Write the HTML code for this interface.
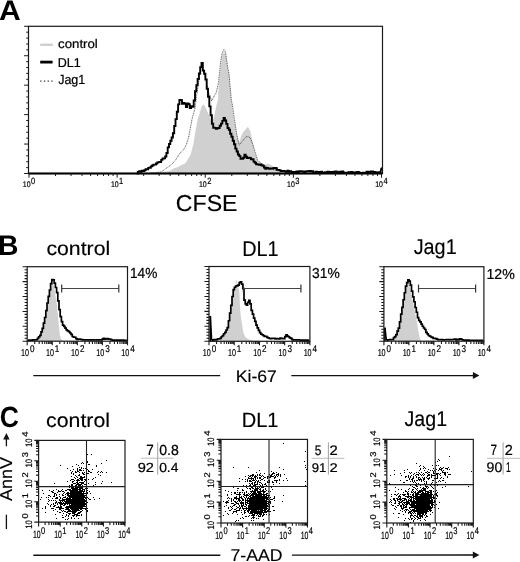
<!DOCTYPE html>
<html><head><meta charset="utf-8"><style>
html,body{margin:0;padding:0;background:#fff;width:520px;height:562px;overflow:hidden;}
svg{display:block;font-family:"Liberation Sans",sans-serif;will-change:transform;}
text{text-rendering:geometricPrecision;}
</style></head><body>
<svg width="520" height="562" viewBox="0 0 520 562">
<rect width="520" height="562" fill="#fff"/>
<text x="0" y="0" font-size="28.4" font-weight="bold" font-family="Liberation Sans" transform="translate(-0.9 19.6) scale(1.0617 1)" >A</text>
<polygon points="144,173.8 150,173.3 160,172.5 170,170.8 174.2,168.2 178,167 181.4,164.9 185,163.4 187.1,160.5 190.6,154.8 193.5,143.4 195.6,130.6 197.7,119.2 199.9,112.5 201.5,106.5 203.5,104.3 205.6,107.5 208,113 210.5,118.5 212.5,121 214.2,116.4 215.6,109.2 217,103 218,99.7 218.5,88 219.6,77.3 220.7,66.7 221.7,58 223,53.5 224.9,52.3 226,56 227.6,66.7 229.2,75.2 229.7,82.7 230.8,93.3 231.3,99.7 232,106 234.4,122 236,131 237.6,138 239.2,142.8 240.8,137.5 242.4,133.2 245.6,129.2 248,126.8 250.4,131.6 252.8,142.8 255.2,154 258.4,162 263.2,165.2 268,163.6 272.8,166 276,169.2 280.8,171.6 290,173 300,173.8" fill="#d0d0d0"/>
<polyline points="147.6,173.6 155.6,172.6 161.4,171.9 167.1,167.6 171.4,164.7 175.7,159.8 179.9,153.4 183.5,149.8 186.3,144.8 188.5,137.7 189.9,130.6 192,119.2 193.5,113.5 194.9,109.2 195.6,103.5 196.5,96 198,86 199.5,76 201,67 202,64 203.2,68 204.7,75 206.3,81 207.3,87 208.4,92 210,96 211.6,100.9 213.2,97.7 215.9,93.4 217.3,88 218.5,82.7 219.6,72 220.7,61.3 222,54 223.9,49.6 225.5,52 226,56 227.6,66.7 229.2,75.2 229.7,82.7 230.8,93.3 231.3,99.7 232.2,104 234.4,118.8 236.8,134.8 239.2,145.2 242.4,141.2 245.6,137.2 248,136.4 250.4,138 252.8,144.4 255.2,152.4 257.6,160.4 261.6,163.6 266.4,166.8 275,170 290,172.5 300,173.6" fill="none" stroke="#444" stroke-width="0.9" stroke-dasharray="1 0.8"/>
<path d="M136.5 173.6H137.8V171.84H139.1V171.31H140.4V171.81H141.7V170.59H143V171.03H144.3V170.31H145.6V169.17H146.9V169.24H148.2V167.83H149.5V167.73H150.8V166.38H152.1V165.47H153.4V164.59H154.7V164.59H156V163.55H157.3V162.41H158.6V162.17H159.9V161.98H161.2V159.9H162.5V158.43H163.8V158.33H165.1V156.53H166.4V153.05H167.7V147.42H169V144H170.3V140.71H171.6V137.49H172.9V133.23H174.2V126.03H175.5V119.16H176.8V111.82H178.1V104.34H179.4V100.05H180.7V100.08H182V103.86H183.3V102.94H184.6V103.81H185.9V107.04H187.2V103.49H188.5V104.22H189.8V107.97H191.1V106.26H192.4V106.74H193.7V100.44H195V91.18H196.3V85.24H197.6V79.06H198.9V73.51H200.2V67.08H201.5V62.97H202.8V70.63H204.1V73.79H205.4V79.47H206.7V88.76H208V96.72H209.3V106.36H210.6V115.31H211.9V123.79H213.2V127.71H214.5V127.83H215.8V128.75H217.1V128.29H218.4V128.03H219.7V125.7H221V123.65H222.3V120.88H223.6V118.07H224.9V120.43H226.2V123.84H227.5V127.98H228.8V129.78H230.1V133.81H231.4V136.77H232.7V140.79H234V144.32H235.3V148.66H236.6V151.52H237.9V154.57H239.2V156.14H240.5V158.86H241.8V158.82H243.1V157.7H244.4V154.58H245.7V156.68H247V158.06H248.3V157.81H249.6V158.04H250.9V159.24H252.2V159.26H253.5V161.59H254.8V162.78H256.1V164.18H257.4V164.42H258.7V164.82H260V164.37H261.3V165.24H262.6V165.81H263.9V167.63H265.2V168.72H266.5V168.03H267.8V168.39H269.1V168.73H270.4V168.38H271.7V168.43H273V168.25H274.3V167.88H275.6V168.32H276.9V169.84H278.2V169.92H279.5V170.37H280.8V171.13H282.1V170.88H283.4V170.9H284.7V171.36H286V171.76H287.3V170.7H288.6V171.73H289.9V171.3H291.2V171.88H292.5V172.19H293.8V171.98H295.1V172.17H296.4V171.53H297.7V172.22H299V171.14H300.3V171.18H301.6V171.51H302.9V171.54H304.2V171.93H305.5V171.35H306.8V171.11H308.1V171.19H309.4V170.97H310.7V171.6H312V171.26H313.3V172.83H314.6V172.57H315.9V171.78H317.2V171.89H318.5V171.99H319.8V172H321.1V171.65H322.4V172.85H323.7V173.12H325V172.32H326.3V172.38H327.6V171.78H328.9V171.85H330.2V172.22H331.5V172.06H332.8V172.92H334.1V171.82H335.4V171.56H336.7V173H338V172.29H339.3V171.64H340.6V172.32H341.9V171.55H343.2V172.4H344.5V173.17H345.8V173.04H347.1V172.82H348.4V172.18H349.7V172.38H351V172.02H352.3V172.95H353.6V172.52H354.9V172.88H356.2V172.12H357.5V171.91H358.8V172.81H360.1V173.07H361.4V172.84H362.7V172.76H364V172.76H365.3V172.62H366.6V171.79H367.9V172.24H369.2V171.97H370.5V171.48H371.8V171.51H373.1V171.94H374.4V171.94H375.7V172.67H377V173.12H378.3V172.24H379.6V172.92H380.5V172.98" fill="none" stroke="#000" stroke-width="1.9" stroke-linejoin="miter"/>
<polyline points="380.5,172.2 381.3,168.5 382.5,168.2" fill="none" stroke="#000" stroke-width="1.8"/>
<rect x="28.5" y="26.3" width="354" height="147.2" fill="none" stroke="#1a1a1a" stroke-width="1.2"/>
<line x1="28.5" y1="173.5" x2="382.5" y2="173.5" stroke="#000" stroke-width="1.8" />
<path d="M28.5 173.5h-4.4M28.5 167.61h-2.3M28.5 161.72h-2.3M28.5 155.84h-2.3M28.5 149.95h-2.3M28.5 144.06h-4.4M28.5 138.17h-2.3M28.5 132.28h-2.3M28.5 126.4h-2.3M28.5 120.51h-2.3M28.5 114.62h-4.4M28.5 108.73h-2.3M28.5 102.84h-2.3M28.5 96.96h-2.3M28.5 91.07h-2.3M28.5 85.18h-4.4M28.5 79.29h-2.3M28.5 73.4h-2.3M28.5 67.52h-2.3M28.5 61.63h-2.3M28.5 55.74h-4.4M28.5 49.85h-2.3M28.5 43.96h-2.3M28.5 38.08h-2.3M28.5 32.19h-2.3M28.5 26.3h-4.4" stroke="#1a1a1a" stroke-width="1" fill="none"/>
<path d="M29 173.5v4.2M55.53 173.5v2.5M71.05 173.5v2.5M82.06 173.5v2.5M90.6 173.5v2.5M97.57 173.5v2.5M103.47 173.5v2.5M108.58 173.5v2.5M113.09 173.5v2.5M117.12 173.5v4.2M143.65 173.5v2.5M159.17 173.5v2.5M170.18 173.5v2.5M178.72 173.5v2.5M185.7 173.5v2.5M191.6 173.5v2.5M196.71 173.5v2.5M201.22 173.5v2.5M205.25 173.5v4.2M231.78 173.5v2.5M247.3 173.5v2.5M258.31 173.5v2.5M266.85 173.5v2.5M273.82 173.5v2.5M279.72 173.5v2.5M284.83 173.5v2.5M289.34 173.5v2.5M293.38 173.5v4.2M319.9 173.5v2.5M335.42 173.5v2.5M346.43 173.5v2.5M354.97 173.5v2.5M361.95 173.5v2.5M367.85 173.5v2.5M372.96 173.5v2.5M377.47 173.5v2.5M381.5 173.5v4.2" stroke="#1a1a1a" stroke-width="1" fill="none"/>
<text x="0" y="0" font-size="8.14" font-weight="normal" font-family="Liberation Sans" transform="translate(22.84 186.6) scale(0.8559 1)" stroke="#000" stroke-width="0.2">10</text>
<text x="0" y="0" font-size="9.07" font-family="Liberation Sans" stroke="#000" stroke-width="0.2" transform="translate(31.1 183.6) scale(0.8268 1)">0</text>
<text x="0" y="0" font-size="8.14" font-weight="normal" font-family="Liberation Sans" transform="translate(110.92 186.6) scale(0.8559 1)" stroke="#000" stroke-width="0.2">10</text>
<text x="0" y="0" font-size="9.07" font-family="Liberation Sans" stroke="#000" stroke-width="0.2" transform="translate(119.06 183.6) scale(0.8268 1)">1</text>
<text x="0" y="0" font-size="8.14" font-weight="normal" font-family="Liberation Sans" transform="translate(198.99 186.6) scale(0.8559 1)" stroke="#000" stroke-width="0.2">10</text>
<text x="0" y="0" font-size="9.07" font-family="Liberation Sans" stroke="#000" stroke-width="0.2" transform="translate(207.25 183.6) scale(0.8268 1)">2</text>
<text x="0" y="0" font-size="8.14" font-weight="normal" font-family="Liberation Sans" transform="translate(287.07 186.6) scale(0.8559 1)" stroke="#000" stroke-width="0.2">10</text>
<text x="0" y="0" font-size="9.07" font-family="Liberation Sans" stroke="#000" stroke-width="0.2" transform="translate(295.36 183.6) scale(0.8268 1)">3</text>
<text x="0" y="0" font-size="8.14" font-weight="normal" font-family="Liberation Sans" transform="translate(375.14 186.6) scale(0.8559 1)" stroke="#000" stroke-width="0.2">10</text>
<text x="0" y="0" font-size="9.07" font-family="Liberation Sans" stroke="#000" stroke-width="0.2" transform="translate(383.44 183.6) scale(0.8268 1)">4</text>
<line x1="40.2" y1="44.8" x2="52.9" y2="44.8" stroke="#d0d0d0" stroke-width="2.4" />
<line x1="40.2" y1="62.1" x2="52.6" y2="62.1" stroke="#000" stroke-width="2.8" />
<line x1="40.2" y1="81.2" x2="52.6" y2="81.2" stroke="#333" stroke-width="1.2" stroke-dasharray="1.3 2.4"/>
<text x="0" y="0" font-size="12.44" font-weight="normal" font-family="Liberation Sans" transform="translate(58.08 48.19) scale(1.0640 1)" stroke="#000" stroke-width="0.22">control</text>
<text x="0" y="0" font-size="12.87" font-weight="normal" font-family="Liberation Sans" transform="translate(57.71 66.89) scale(0.9727 1)" stroke="#000" stroke-width="0.22">DL1</text>
<text x="0" y="0" font-size="13.16" font-weight="normal" font-family="Liberation Sans" transform="translate(58.16 83.99) scale(0.9510 1)" stroke="#000" stroke-width="0.22">Jag1</text>
<text x="0" y="0" font-size="23.07" font-weight="normal" font-family="Liberation Sans" transform="translate(175.82 211.23) scale(1.0026 1)" stroke="#000" stroke-width="0.15">CFSE</text>
<text x="0" y="0" font-size="28.41" font-weight="bold" font-family="Liberation Sans" transform="translate(-1.99 255.4) scale(0.9984 1)" >B</text>
<polygon points="37.5,341.2 40.5,337.5 43,330.5 45.5,318 48,303 50.5,289.5 52.3,282.5 53,281.5 54.5,290 56.7,303 58.5,321.8 59.8,334.3 61,339 64,341.2" fill="#d0d0d0"/>
<path d="M27.8 340.3H29V340.19H30.2V340.12H31.4V340.04H32.6V339.97H33.8V339.9H35V339.82H36.2V339.74H37.4V338.36H38.6V336.78H39.8V335.35H41V331.9H42.2V328.3H43.4V323.16H44.6V317.49H45.8V310.54H47V302.98H48.2V296.4H49.4V290.02H50.6V283.67H51.8V279.54H53V279.91H54.2V283.12H55.4V287.5H56.6V292.72H57.8V300.81H59V309.66H60.2V316.6H61.4V321.62H62.6V325.22H63.8V326.42H65V328.1H66.2V329.85H67.4V330.84H68.6V331.67H69.8V333.01H71V334.39H72.2V336.49H73.4V337.19H74.6V337.27H75.8V338.69H77V339.36H78.2V339.22H79.4V339.1H80.6V339.49H81.8V339.63H83V339.8H84.2V339.82H85.4V339.84H86.6V339.86H87.8V339.89H89V339.91H90.2V339.93H91.4V339.95H92.6V339.97H93.8V339.99H95V339.98H96.2V339.95H97.4V339.91H98.6V339.88H99.8V339.85H101V339.81H102.2V339.06H103.4V338.39H104.6V339.07H105.8V338.75H107V338.63H108.2V339.03H109.4V339.06H110.6V339.65H111.8V340.01H113V340.03H114.2V340.06H115.4V340.08H116.6V340.1H117.8V340.13H119V340.15H120.2V340.18H121.4V340.2H122.6V340.22H123.8V340.25H125V340.27H126.2V340.3H127V340.3" fill="none" stroke="#000" stroke-width="1.7" stroke-linejoin="miter"/>
<rect x="27.2" y="266.7" width="100.3" height="74.5" fill="none" stroke="#1a1a1a" stroke-width="1.2"/>
<path d="M27.2 341.2h-4.6M27.2 338.22h-2.6M27.2 335.24h-2.6M27.2 332.26h-2.6M27.2 329.28h-2.6M27.2 326.3h-4.6M27.2 323.32h-2.6M27.2 320.34h-2.6M27.2 317.36h-2.6M27.2 314.38h-2.6M27.2 311.4h-4.6M27.2 308.42h-2.6M27.2 305.44h-2.6M27.2 302.46h-2.6M27.2 299.48h-2.6M27.2 296.5h-4.6M27.2 293.52h-2.6M27.2 290.54h-2.6M27.2 287.56h-2.6M27.2 284.58h-2.6M27.2 281.6h-4.6M27.2 278.62h-2.6M27.2 275.64h-2.6M27.2 272.66h-2.6M27.2 269.68h-2.6M27.2 266.7h-4.6" stroke="#1a1a1a" stroke-width="1.05" fill="none"/>
<path d="M27.2 341.2v4M34.75 341.2v2.8M39.16 341.2v2.8M42.3 341.2v2.8M44.73 341.2v2.8M46.71 341.2v2.8M48.39 341.2v2.8M49.84 341.2v2.8M51.13 341.2v2.8M52.27 341.2v4M59.82 341.2v2.8M64.24 341.2v2.8M67.37 341.2v2.8M69.8 341.2v2.8M71.79 341.2v2.8M73.47 341.2v2.8M74.92 341.2v2.8M76.2 341.2v2.8M77.35 341.2v4M84.9 341.2v2.8M89.31 341.2v2.8M92.45 341.2v2.8M94.88 341.2v2.8M96.86 341.2v2.8M98.54 341.2v2.8M99.99 341.2v2.8M101.28 341.2v2.8M102.42 341.2v4M109.97 341.2v2.8M114.39 341.2v2.8M117.52 341.2v2.8M119.95 341.2v2.8M121.94 341.2v2.8M123.62 341.2v2.8M125.07 341.2v2.8M126.35 341.2v2.8M127.5 341.2v4" stroke="#1a1a1a" stroke-width="1.1" fill="none"/>
<text x="0" y="0" font-size="9.93" font-weight="normal" font-family="Liberation Sans" transform="translate(20.93 356.35) scale(0.7223 1)" stroke="#000" stroke-width="0.2">10</text>
<text x="0" y="0" font-size="9.86" font-family="Liberation Sans" stroke="#000" stroke-width="0.2" transform="translate(29.88 352.2) scale(0.8243 1)">0</text>
<text x="0" y="0" font-size="9.93" font-weight="normal" font-family="Liberation Sans" transform="translate(46 356.35) scale(0.7223 1)" stroke="#000" stroke-width="0.2">10</text>
<text x="0" y="0" font-size="9.86" font-family="Liberation Sans" stroke="#000" stroke-width="0.2" transform="translate(54.83 352.2) scale(0.8243 1)">1</text>
<text x="0" y="0" font-size="9.93" font-weight="normal" font-family="Liberation Sans" transform="translate(71.08 356.35) scale(0.7223 1)" stroke="#000" stroke-width="0.2">10</text>
<text x="0" y="0" font-size="9.86" font-family="Liberation Sans" stroke="#000" stroke-width="0.2" transform="translate(80.02 352.2) scale(0.8243 1)">2</text>
<text x="0" y="0" font-size="9.93" font-weight="normal" font-family="Liberation Sans" transform="translate(96.15 356.35) scale(0.7223 1)" stroke="#000" stroke-width="0.2">10</text>
<text x="0" y="0" font-size="9.86" font-family="Liberation Sans" stroke="#000" stroke-width="0.2" transform="translate(105.14 352.2) scale(0.8243 1)">3</text>
<text x="0" y="0" font-size="9.93" font-weight="normal" font-family="Liberation Sans" transform="translate(121.23 356.35) scale(0.7223 1)" stroke="#000" stroke-width="0.2">10</text>
<text x="0" y="0" font-size="9.86" font-family="Liberation Sans" stroke="#000" stroke-width="0.2" transform="translate(130.22 352.2) scale(0.8243 1)">4</text>
<path d="M61.7 288.5H118.8" stroke="#444" stroke-width="1" fill="none"/>
<path d="M61.7 284.5v8 M118.8 284.5v8" stroke="#333" stroke-width="1.2" fill="none"/>
<text x="0" y="0" font-size="19.52" font-weight="normal" font-family="Liberation Sans" transform="translate(46.42 254.83) scale(1.0890 1)" stroke="#000" stroke-width="0.15">control</text>
<text x="0" y="0" font-size="14.61" font-weight="normal" font-family="Liberation Sans" transform="translate(130.02 278.39) scale(0.9337 1)" stroke="#000" stroke-width="0.22">14%</text>
<polygon points="219,341.3 221.7,339.5 223,337 225.1,333.8 227.1,330.5 228.5,326 229.2,321 229.9,316.5 230.9,310.5 232.7,296.5 234.1,289.2 235.5,287 236.2,279.5 237.5,284 239.4,291.8 239.8,302.4 240.5,314 241.9,323.5 243.3,332.2 245.3,336.9 248,339 252,340.5 270,341.3" fill="#d0d0d0"/>
<path d="M211.6 340.2H212.8V339.88H214V339.67H215.2V339.87H216.4V339.67H217.6V338.9H218.8V338.78H220V338.42H221.2V336.75H222.4V335.55H223.6V333.76H224.8V332.31H226V329.98H227.2V327.56H228.4V320.74H229.6V313.2H230.8V305.44H232V296.48H233.2V289.64H234.4V287.27H235.6V286H236.8V285.86H238V285.17H239.2V282.56H240.4V281.87H241.6V284.22H242.8V288.68H244V300.11H245.2V303.82H246.4V305.11H247.6V302.36H248.8V300.46H250V303.85H251.2V310.31H252.4V314.09H253.6V318.17H254.8V321.41H256V325.19H257.2V327.78H258.4V330.28H259.6V332.6H260.8V334.06H262V334.73H263.2V335.54H264.4V336.31H265.6V336.47H266.8V337.3H268V337.85H269.2V338.51H270.4V338.68H271.6V338.42H272.8V338.48H274V338.41H275.2V338.86H276.4V338.6H277.6V338.76H278.8V338.81H280V338.11H281.2V338.4H282.4V338.76H283.6V338.65H284.8V336.72H286V334.87H287.2V336.14H288.4V336.89H289.6V337.79H290.8V338.35H292V339.67H293.2V339.82H294.4V339.86H295.6V339.89H296.8V339.93H298V339.97H299.2V340H300.4V340.04H301.6V340.08H302.8V340.11H304V340.15H305.2V340.19H306.4V340.22H307.6V340.26H308.8V340.3H309.5V340.3" fill="none" stroke="#000" stroke-width="1.7" stroke-linejoin="miter"/>
<path d="M210.3 341.3V316" stroke="#000" stroke-width="1.6" fill="none"/>
<path d="M210.3 316L211.6 340.2" stroke="#000" stroke-width="1.6" fill="none"/>
<rect x="209" y="266.5" width="100.9" height="74.8" fill="none" stroke="#1a1a1a" stroke-width="1.2"/>
<path d="M209 341.3h-4.6M209 338.31h-2.6M209 335.32h-2.6M209 332.32h-2.6M209 329.33h-2.6M209 326.34h-4.6M209 323.35h-2.6M209 320.36h-2.6M209 317.36h-2.6M209 314.37h-2.6M209 311.38h-4.6M209 308.39h-2.6M209 305.4h-2.6M209 302.4h-2.6M209 299.41h-2.6M209 296.42h-4.6M209 293.43h-2.6M209 290.44h-2.6M209 287.44h-2.6M209 284.45h-2.6M209 281.46h-4.6M209 278.47h-2.6M209 275.48h-2.6M209 272.48h-2.6M209 269.49h-2.6M209 266.5h-4.6" stroke="#1a1a1a" stroke-width="1.05" fill="none"/>
<path d="M209 341.3v4M216.59 341.3v2.8M221.04 341.3v2.8M224.19 341.3v2.8M226.63 341.3v2.8M228.63 341.3v2.8M230.32 341.3v2.8M231.78 341.3v2.8M233.07 341.3v2.8M234.22 341.3v4M241.82 341.3v2.8M246.26 341.3v2.8M249.41 341.3v2.8M251.86 341.3v2.8M253.85 341.3v2.8M255.54 341.3v2.8M257.01 341.3v2.8M258.3 341.3v2.8M259.45 341.3v4M267.04 341.3v2.8M271.49 341.3v2.8M274.64 341.3v2.8M277.08 341.3v2.8M279.08 341.3v2.8M280.77 341.3v2.8M282.23 341.3v2.8M283.52 341.3v2.8M284.67 341.3v4M292.27 341.3v2.8M296.71 341.3v2.8M299.86 341.3v2.8M302.31 341.3v2.8M304.3 341.3v2.8M305.99 341.3v2.8M307.46 341.3v2.8M308.75 341.3v2.8M309.9 341.3v4" stroke="#1a1a1a" stroke-width="1.1" fill="none"/>
<text x="0" y="0" font-size="9.93" font-weight="normal" font-family="Liberation Sans" transform="translate(202.73 356.45) scale(0.7223 1)" stroke="#000" stroke-width="0.2">10</text>
<text x="0" y="0" font-size="9.86" font-family="Liberation Sans" stroke="#000" stroke-width="0.2" transform="translate(211.68 352.3) scale(0.8243 1)">0</text>
<text x="0" y="0" font-size="9.93" font-weight="normal" font-family="Liberation Sans" transform="translate(227.95 356.45) scale(0.7223 1)" stroke="#000" stroke-width="0.2">10</text>
<text x="0" y="0" font-size="9.86" font-family="Liberation Sans" stroke="#000" stroke-width="0.2" transform="translate(236.78 352.3) scale(0.8243 1)">1</text>
<text x="0" y="0" font-size="9.93" font-weight="normal" font-family="Liberation Sans" transform="translate(253.18 356.45) scale(0.7223 1)" stroke="#000" stroke-width="0.2">10</text>
<text x="0" y="0" font-size="9.86" font-family="Liberation Sans" stroke="#000" stroke-width="0.2" transform="translate(262.12 352.3) scale(0.8243 1)">2</text>
<text x="0" y="0" font-size="9.93" font-weight="normal" font-family="Liberation Sans" transform="translate(278.4 356.45) scale(0.7223 1)" stroke="#000" stroke-width="0.2">10</text>
<text x="0" y="0" font-size="9.86" font-family="Liberation Sans" stroke="#000" stroke-width="0.2" transform="translate(287.39 352.3) scale(0.8243 1)">3</text>
<text x="0" y="0" font-size="9.93" font-weight="normal" font-family="Liberation Sans" transform="translate(303.63 356.45) scale(0.7223 1)" stroke="#000" stroke-width="0.2">10</text>
<text x="0" y="0" font-size="9.86" font-family="Liberation Sans" stroke="#000" stroke-width="0.2" transform="translate(312.62 352.3) scale(0.8243 1)">4</text>
<path d="M243.4 288.5H300.9" stroke="#444" stroke-width="1" fill="none"/>
<path d="M243.4 284.5v8 M300.9 284.5v8" stroke="#333" stroke-width="1.2" fill="none"/>
<text x="0" y="0" font-size="21.38" font-weight="normal" font-family="Liberation Sans" transform="translate(242.29 255.53) scale(0.9260 1)" stroke="#000" stroke-width="0.15">DL1</text>
<text x="0" y="0" font-size="14.4" font-weight="normal" font-family="Liberation Sans" transform="translate(312.06 278.39) scale(0.9600 1)" stroke="#000" stroke-width="0.22">31%</text>
<polygon points="393.5,341.2 396.6,336 399,330 400.9,320 402.7,309 404.6,298 406.4,287 408.2,282.2 409.2,281.2 409.8,287 411.7,296.9 413.5,304.4 415.4,314.3 417.3,324.3 418.5,331.8 419.8,338 421,341.2" fill="#d0d0d0"/>
<path d="M386.3 340.2H387.5V339.93H388.7V339.75H389.9V339.57H391.1V339.68H392.3V339.61H393.5V337.54H394.7V336.67H395.9V334.67H397.1V331.17H398.3V328.1H399.5V321.87H400.7V314.04H401.9V307.37H403.1V299.75H404.3V292.76H405.5V286.19H406.7V282.7H407.9V279.81H409.1V281.06H410.3V285.06H411.5V291.09H412.7V296.95H413.9V301.75H415.1V307.49H416.3V312.24H417.5V317.71H418.7V320.46H419.9V321.86H421.1V324.04H422.3V326.23H423.5V328.01H424.7V329.5H425.9V332.36H427.1V333.88H428.3V335.49H429.5V336.05H430.7V337H431.9V337.35H433.1V338.51H434.3V338.34H435.5V338.54H436.7V339.14H437.9V339.74H439.1V339.76H440.3V339.56H441.5V339.67H442.7V339.78H443.9V339.77H445.1V339.73H446.3V339.7H447.5V339.66H448.7V339.63H449.9V339.59H451.1V339.56H452.3V339.52H453.5V339.24H454.7V339.1H455.9V339.83H457.1V339.45H458.3V339.54H459.5V338.9H460.7V339.05H461.9V339.75H463.1V340.01H464.3V340.2H465.5V340.21H466.7V340.21H467.9V340.22H469.1V340.23H470.3V340.23H471.5V340.24H472.7V340.25H473.9V340.25H475.1V340.26H476.3V340.27H477.5V340.27H478.7V340.28H479.9V340.28H481.1V340.29H482.3V340.3H483.5V340.3H483.5V340.3" fill="none" stroke="#000" stroke-width="1.7" stroke-linejoin="miter"/>
<path d="M384.9 341.2V327.7" stroke="#000" stroke-width="1.6" fill="none"/>
<path d="M384.9 327.7L386.3 340.2" stroke="#000" stroke-width="1.6" fill="none"/>
<rect x="383.9" y="266.7" width="100" height="74.5" fill="none" stroke="#1a1a1a" stroke-width="1.2"/>
<path d="M383.9 341.2h-4.6M383.9 338.22h-2.6M383.9 335.24h-2.6M383.9 332.26h-2.6M383.9 329.28h-2.6M383.9 326.3h-4.6M383.9 323.32h-2.6M383.9 320.34h-2.6M383.9 317.36h-2.6M383.9 314.38h-2.6M383.9 311.4h-4.6M383.9 308.42h-2.6M383.9 305.44h-2.6M383.9 302.46h-2.6M383.9 299.48h-2.6M383.9 296.5h-4.6M383.9 293.52h-2.6M383.9 290.54h-2.6M383.9 287.56h-2.6M383.9 284.58h-2.6M383.9 281.6h-4.6M383.9 278.62h-2.6M383.9 275.64h-2.6M383.9 272.66h-2.6M383.9 269.68h-2.6M383.9 266.7h-4.6" stroke="#1a1a1a" stroke-width="1.05" fill="none"/>
<path d="M383.9 341.2v4M391.43 341.2v2.8M395.83 341.2v2.8M398.95 341.2v2.8M401.37 341.2v2.8M403.35 341.2v2.8M405.03 341.2v2.8M406.48 341.2v2.8M407.76 341.2v2.8M408.9 341.2v4M416.43 341.2v2.8M420.83 341.2v2.8M423.95 341.2v2.8M426.37 341.2v2.8M428.35 341.2v2.8M430.03 341.2v2.8M431.48 341.2v2.8M432.76 341.2v2.8M433.9 341.2v4M441.43 341.2v2.8M445.83 341.2v2.8M448.95 341.2v2.8M451.37 341.2v2.8M453.35 341.2v2.8M455.03 341.2v2.8M456.48 341.2v2.8M457.76 341.2v2.8M458.9 341.2v4M466.43 341.2v2.8M470.83 341.2v2.8M473.95 341.2v2.8M476.37 341.2v2.8M478.35 341.2v2.8M480.03 341.2v2.8M481.48 341.2v2.8M482.76 341.2v2.8M483.9 341.2v4" stroke="#1a1a1a" stroke-width="1.1" fill="none"/>
<text x="0" y="0" font-size="9.93" font-weight="normal" font-family="Liberation Sans" transform="translate(377.63 356.35) scale(0.7223 1)" stroke="#000" stroke-width="0.2">10</text>
<text x="0" y="0" font-size="9.86" font-family="Liberation Sans" stroke="#000" stroke-width="0.2" transform="translate(386.57 352.2) scale(0.8243 1)">0</text>
<text x="0" y="0" font-size="9.93" font-weight="normal" font-family="Liberation Sans" transform="translate(402.63 356.35) scale(0.7223 1)" stroke="#000" stroke-width="0.2">10</text>
<text x="0" y="0" font-size="9.86" font-family="Liberation Sans" stroke="#000" stroke-width="0.2" transform="translate(411.45 352.2) scale(0.8243 1)">1</text>
<text x="0" y="0" font-size="9.93" font-weight="normal" font-family="Liberation Sans" transform="translate(427.63 356.35) scale(0.7223 1)" stroke="#000" stroke-width="0.2">10</text>
<text x="0" y="0" font-size="9.86" font-family="Liberation Sans" stroke="#000" stroke-width="0.2" transform="translate(436.57 352.2) scale(0.8243 1)">2</text>
<text x="0" y="0" font-size="9.93" font-weight="normal" font-family="Liberation Sans" transform="translate(452.63 356.35) scale(0.7223 1)" stroke="#000" stroke-width="0.2">10</text>
<text x="0" y="0" font-size="9.86" font-family="Liberation Sans" stroke="#000" stroke-width="0.2" transform="translate(461.62 352.2) scale(0.8243 1)">3</text>
<text x="0" y="0" font-size="9.93" font-weight="normal" font-family="Liberation Sans" transform="translate(477.63 356.35) scale(0.7223 1)" stroke="#000" stroke-width="0.2">10</text>
<text x="0" y="0" font-size="9.86" font-family="Liberation Sans" stroke="#000" stroke-width="0.2" transform="translate(486.62 352.2) scale(0.8243 1)">4</text>
<path d="M418.5 288.5H475.6" stroke="#444" stroke-width="1" fill="none"/>
<path d="M418.5 284.5v8 M475.6 284.5v8" stroke="#333" stroke-width="1.2" fill="none"/>
<text x="0" y="0" font-size="21.52" font-weight="normal" font-family="Liberation Sans" transform="translate(413.68 253.83) scale(0.9215 1)" stroke="#000" stroke-width="0.15">Jag1</text>
<text x="0" y="0" font-size="14.4" font-weight="normal" font-family="Liberation Sans" transform="translate(486.38 278.59) scale(0.9840 1)" stroke="#000" stroke-width="0.22">12%</text>
<line x1="33.3" y1="375.6" x2="220.2" y2="375.6" stroke="#111" stroke-width="1.3" />
<line x1="291.3" y1="375.6" x2="474" y2="375.6" stroke="#111" stroke-width="1.3" />
<polygon points="472.9,372.1 479.4,375.6 472.9,379.1" fill="#111"/>
<text x="0" y="0" font-size="16.92" font-weight="normal" font-family="Liberation Sans" transform="translate(235.77 382.03) scale(1.0411 1)" stroke="#000" stroke-width="0.15">Ki-67</text>
<text x="0" y="0" font-size="29.29" font-weight="bold" font-family="Liberation Sans" transform="translate(-0.21 426.8) scale(0.9062 1)" >C</text>
<ellipse cx="77.5" cy="499.5" rx="5" ry="8.5" fill="#000" transform="rotate(8 77.5 499.5)"/>
<path d="M75 493h1v1h-1zM85 503h1v1h-1zM71 492h1v1h-1zM84 503h1v1h-1zM84 502h1v1h-1zM73 502h1v1h-1zM67 497h1v1h-1zM76 502h1v1h-1zM73 499h1v1h-1zM78 501h1v1h-1zM79 500h1v1h-1zM75 504h1v1h-1zM77 494h1v1h-1zM74 500h1v1h-1zM76 500h1v1h-1zM76 500h1v1h-1zM76 491h1v1h-1zM78 505h1v1h-1zM78 497h1v1h-1zM78 492h1v1h-1zM69 502h1v1h-1zM73 505h1v1h-1zM72 484h1v1h-1zM72 510h1v1h-1zM75 491h1v1h-1zM73 503h1v1h-1zM79 499h1v1h-1zM83 502h1v1h-1zM76 503h1v1h-1zM83 503h1v1h-1zM81 491h1v1h-1zM76 504h1v1h-1zM75 506h1v1h-1zM79 504h1v1h-1zM76 515h1v1h-1zM82 496h1v1h-1zM77 515h1v1h-1zM75 505h1v1h-1zM81 498h1v1h-1zM72 502h1v1h-1zM78 506h1v1h-1zM80 498h1v1h-1zM80 501h1v1h-1zM77 499h1v1h-1zM75 504h1v1h-1zM72 496h1v1h-1zM77 490h1v1h-1zM75 487h1v1h-1zM74 504h1v1h-1zM79 498h1v1h-1zM76 490h1v1h-1zM84 500h1v1h-1zM81 492h1v1h-1zM76 488h1v1h-1zM80 504h1v1h-1zM69 501h1v1h-1zM79 487h1v1h-1zM69 495h1v1h-1zM74 491h1v1h-1zM77 501h1v1h-1zM79 503h1v1h-1zM83 504h1v1h-1zM71 497h1v1h-1zM72 494h1v1h-1zM76 499h1v1h-1zM79 488h1v1h-1zM71 500h1v1h-1zM76 497h1v1h-1zM76 494h1v1h-1zM79 500h1v1h-1zM76 495h1v1h-1zM76 482h1v1h-1zM72 501h1v1h-1zM70 502h1v1h-1zM77 490h1v1h-1zM75 497h1v1h-1zM78 502h1v1h-1zM76 494h1v1h-1zM76 499h1v1h-1zM80 500h1v1h-1zM73 491h1v1h-1zM75 495h1v1h-1zM72 500h1v1h-1zM74 500h1v1h-1zM79 496h1v1h-1zM86 494h1v1h-1zM81 498h1v1h-1zM81 482h1v1h-1zM73 502h1v1h-1zM79 513h1v1h-1zM78 507h1v1h-1zM80 504h1v1h-1zM79 497h1v1h-1zM79 491h1v1h-1zM81 491h1v1h-1zM78 512h1v1h-1zM76 499h1v1h-1zM81 498h1v1h-1zM73 502h1v1h-1zM79 503h1v1h-1zM73 511h1v1h-1zM84 497h1v1h-1zM78 496h1v1h-1zM82 493h1v1h-1zM79 495h1v1h-1zM74 504h1v1h-1zM82 497h1v1h-1zM74 505h1v1h-1zM76 501h1v1h-1zM83 504h1v1h-1zM74 514h1v1h-1zM77 504h1v1h-1zM74 500h1v1h-1zM69 513h1v1h-1zM82 489h1v1h-1zM70 491h1v1h-1zM81 495h1v1h-1zM76 497h1v1h-1zM76 492h1v1h-1zM77 490h1v1h-1zM76 501h1v1h-1zM78 497h1v1h-1zM73 501h1v1h-1zM74 510h1v1h-1zM80 497h1v1h-1zM75 495h1v1h-1zM73 498h1v1h-1zM78 502h1v1h-1zM79 512h1v1h-1zM74 500h1v1h-1zM88 483h1v1h-1zM74 501h1v1h-1zM77 501h1v1h-1zM75 502h1v1h-1zM77 504h1v1h-1zM69 496h1v1h-1zM76 492h1v1h-1zM72 504h1v1h-1zM74 504h1v1h-1zM80 500h1v1h-1zM79 498h1v1h-1zM71 501h1v1h-1zM78 495h1v1h-1zM76 504h1v1h-1zM73 504h1v1h-1zM84 493h1v1h-1zM77 498h1v1h-1zM83 499h1v1h-1zM80 493h1v1h-1zM76 499h1v1h-1zM69 510h1v1h-1zM80 487h1v1h-1zM80 497h1v1h-1zM78 501h1v1h-1zM70 500h1v1h-1zM83 493h1v1h-1zM72 492h1v1h-1zM71 503h1v1h-1zM84 500h1v1h-1zM78 513h1v1h-1zM74 495h1v1h-1zM79 502h1v1h-1zM72 493h1v1h-1zM78 500h1v1h-1zM71 499h1v1h-1zM74 503h1v1h-1zM76 499h1v1h-1zM75 506h1v1h-1zM82 495h1v1h-1zM80 493h1v1h-1zM77 504h1v1h-1zM83 495h1v1h-1zM76 500h1v1h-1zM70 501h1v1h-1zM74 502h1v1h-1zM72 488h1v1h-1zM77 501h1v1h-1zM74 505h1v1h-1zM75 495h1v1h-1zM79 488h1v1h-1zM74 500h1v1h-1zM80 497h1v1h-1zM78 494h1v1h-1zM78 509h1v1h-1zM74 515h1v1h-1zM74 500h1v1h-1zM77 505h1v1h-1zM71 487h1v1h-1zM79 503h1v1h-1zM79 515h1v1h-1zM77 500h1v1h-1zM80 500h1v1h-1zM83 489h1v1h-1zM75 478h1v1h-1zM80 496h1v1h-1zM80 512h1v1h-1zM76 497h1v1h-1zM74 494h1v1h-1zM74 504h1v1h-1zM77 499h1v1h-1zM76 505h1v1h-1zM79 497h1v1h-1zM79 497h1v1h-1zM72 510h1v1h-1zM78 492h1v1h-1zM81 500h1v1h-1zM70 511h1v1h-1zM78 504h1v1h-1zM77 498h1v1h-1zM70 507h1v1h-1zM77 497h1v1h-1zM78 499h1v1h-1zM79 496h1v1h-1zM76 485h1v1h-1zM75 504h1v1h-1zM82 495h1v1h-1zM76 509h1v1h-1zM75 504h1v1h-1zM84 497h1v1h-1zM82 493h1v1h-1zM77 498h1v1h-1zM77 506h1v1h-1zM87 492h1v1h-1zM74 503h1v1h-1zM72 504h1v1h-1zM79 496h1v1h-1zM79 488h1v1h-1zM80 488h1v1h-1zM74 496h1v1h-1zM75 505h1v1h-1zM77 496h1v1h-1zM79 508h1v1h-1zM77 501h1v1h-1zM82 499h1v1h-1zM71 517h1v1h-1zM86 483h1v1h-1zM76 502h1v1h-1zM81 502h1v1h-1zM75 493h1v1h-1zM77 505h1v1h-1zM72 494h1v1h-1zM76 487h1v1h-1zM75 497h1v1h-1zM78 494h1v1h-1zM73 498h1v1h-1zM76 495h1v1h-1zM77 504h1v1h-1zM81 508h1v1h-1zM73 497h1v1h-1zM66 514h1v1h-1zM73 500h1v1h-1zM79 490h1v1h-1zM78 498h1v1h-1zM69 503h1v1h-1zM82 486h1v1h-1zM80 499h1v1h-1zM78 501h1v1h-1zM82 496h1v1h-1zM80 495h1v1h-1zM80 493h1v1h-1zM76 510h1v1h-1zM78 497h1v1h-1zM72 495h1v1h-1zM77 505h1v1h-1zM78 502h1v1h-1zM76 508h1v1h-1zM75 496h1v1h-1zM80 498h1v1h-1zM75 496h1v1h-1zM75 503h1v1h-1zM78 491h1v1h-1zM78 500h1v1h-1zM72 505h1v1h-1zM75 497h1v1h-1zM80 506h1v1h-1zM74 503h1v1h-1zM73 515h1v1h-1zM74 507h1v1h-1zM74 505h1v1h-1zM86 480h1v1h-1zM75 503h1v1h-1zM76 495h1v1h-1zM86 497h1v1h-1zM70 507h1v1h-1zM69 509h1v1h-1zM74 501h1v1h-1zM82 498h1v1h-1zM71 490h1v1h-1zM81 502h1v1h-1zM73 506h1v1h-1zM79 502h1v1h-1zM67 500h1v1h-1zM80 503h1v1h-1zM80 482h1v1h-1zM77 502h1v1h-1zM87 490h1v1h-1zM75 500h1v1h-1zM80 495h1v1h-1zM81 492h1v1h-1zM78 495h1v1h-1zM77 494h1v1h-1zM70 508h1v1h-1zM78 495h1v1h-1zM77 505h1v1h-1zM72 500h1v1h-1zM79 502h1v1h-1zM75 486h1v1h-1zM82 499h1v1h-1zM77 497h1v1h-1zM78 496h1v1h-1zM72 496h1v1h-1zM74 496h1v1h-1zM72 505h1v1h-1zM71 505h1v1h-1zM72 503h1v1h-1zM82 499h1v1h-1zM73 500h1v1h-1zM77 488h1v1h-1zM74 501h1v1h-1zM75 500h1v1h-1zM80 503h1v1h-1zM80 502h1v1h-1zM75 499h1v1h-1zM75 497h1v1h-1zM76 488h1v1h-1zM75 499h1v1h-1zM72 500h1v1h-1zM79 497h1v1h-1zM85 480h1v1h-1zM76 488h1v1h-1zM81 515h1v1h-1zM66 503h1v1h-1zM79 496h1v1h-1zM79 484h1v1h-1zM80 500h1v1h-1zM77 495h1v1h-1zM79 495h1v1h-1zM77 495h1v1h-1zM67 502h1v1h-1zM77 504h1v1h-1zM73 500h1v1h-1zM79 499h1v1h-1zM82 510h1v1h-1zM73 488h1v1h-1zM80 508h1v1h-1zM80 503h1v1h-1zM74 495h1v1h-1zM80 492h1v1h-1zM69 495h1v1h-1zM87 508h1v1h-1zM74 495h1v1h-1zM77 494h1v1h-1zM82 497h1v1h-1zM72 509h1v1h-1zM74 501h1v1h-1zM76 497h1v1h-1zM78 494h1v1h-1zM69 487h1v1h-1zM71 496h1v1h-1zM76 499h1v1h-1zM79 499h1v1h-1zM73 496h1v1h-1zM68 501h1v1h-1zM79 502h1v1h-1zM76 498h1v1h-1zM80 498h1v1h-1zM80 502h1v1h-1zM77 507h1v1h-1zM74 497h1v1h-1zM73 495h1v1h-1zM83 508h1v1h-1zM77 503h1v1h-1zM81 503h1v1h-1zM82 489h1v1h-1zM74 503h1v1h-1zM83 498h1v1h-1zM73 498h1v1h-1zM74 494h1v1h-1zM83 493h1v1h-1zM77 513h1v1h-1zM81 500h1v1h-1zM74 502h1v1h-1zM83 501h1v1h-1zM82 498h1v1h-1zM79 497h1v1h-1zM78 507h1v1h-1zM70 500h1v1h-1zM78 495h1v1h-1zM75 504h1v1h-1zM85 500h1v1h-1zM78 489h1v1h-1zM85 497h1v1h-1zM76 492h1v1h-1zM76 492h1v1h-1zM77 502h1v1h-1zM77 501h1v1h-1zM73 509h1v1h-1zM74 488h1v1h-1zM76 494h1v1h-1zM72 498h1v1h-1zM78 491h1v1h-1zM76 508h1v1h-1zM79 497h1v1h-1zM77 498h1v1h-1zM76 504h1v1h-1zM76 484h1v1h-1zM76 493h1v1h-1zM79 494h1v1h-1zM77 513h1v1h-1zM72 493h1v1h-1zM71 486h1v1h-1zM69 504h1v1h-1zM74 488h1v1h-1zM70 505h1v1h-1zM73 498h1v1h-1zM78 507h1v1h-1zM85 503h1v1h-1zM77 500h1v1h-1zM84 506h1v1h-1zM75 502h1v1h-1zM78 499h1v1h-1zM74 491h1v1h-1zM74 490h1v1h-1zM82 501h1v1h-1zM71 509h1v1h-1zM80 486h1v1h-1zM84 502h1v1h-1zM85 488h1v1h-1zM79 501h1v1h-1zM77 500h1v1h-1zM81 488h1v1h-1zM71 492h1v1h-1zM74 496h1v1h-1zM78 500h1v1h-1zM77 495h1v1h-1zM75 506h1v1h-1zM80 499h1v1h-1zM75 509h1v1h-1zM74 504h1v1h-1zM81 496h1v1h-1zM80 491h1v1h-1zM81 499h1v1h-1zM70 505h1v1h-1zM73 508h1v1h-1zM74 499h1v1h-1zM78 497h1v1h-1zM78 495h1v1h-1zM79 498h1v1h-1zM77 481h1v1h-1zM81 498h1v1h-1zM69 502h1v1h-1zM78 505h1v1h-1zM72 510h1v1h-1zM76 514h1v1h-1zM76 504h1v1h-1zM75 492h1v1h-1zM81 503h1v1h-1zM83 502h1v1h-1zM74 489h1v1h-1zM74 496h1v1h-1zM73 504h1v1h-1zM78 497h1v1h-1zM77 498h1v1h-1zM77 504h1v1h-1zM81 493h1v1h-1zM70 510h1v1h-1zM77 506h1v1h-1zM70 499h1v1h-1zM77 490h1v1h-1zM74 504h1v1h-1zM81 508h1v1h-1zM73 491h1v1h-1zM79 504h1v1h-1zM77 490h1v1h-1zM80 503h1v1h-1zM79 495h1v1h-1zM78 504h1v1h-1zM74 488h1v1h-1zM78 502h1v1h-1zM77 505h1v1h-1zM74 499h1v1h-1zM75 503h1v1h-1zM83 495h1v1h-1zM85 506h1v1h-1zM80 502h1v1h-1zM84 496h1v1h-1zM76 492h1v1h-1zM78 507h1v1h-1zM79 501h1v1h-1zM76 500h1v1h-1zM71 508h1v1h-1zM75 492h1v1h-1zM73 495h1v1h-1zM80 505h1v1h-1zM71 507h1v1h-1zM80 494h1v1h-1zM70 496h1v1h-1zM74 502h1v1h-1zM75 487h1v1h-1zM77 489h1v1h-1zM80 490h1v1h-1zM74 494h1v1h-1zM74 508h1v1h-1zM80 502h1v1h-1zM78 489h1v1h-1zM74 496h1v1h-1zM72 504h1v1h-1zM73 495h1v1h-1zM72 487h1v1h-1zM79 507h1v1h-1zM77 493h1v1h-1zM65 504h1v1h-1zM82 499h1v1h-1zM80 507h1v1h-1zM81 495h1v1h-1zM81 503h1v1h-1zM70 498h1v1h-1zM71 500h1v1h-1zM79 491h1v1h-1zM68 510h1v1h-1zM78 508h1v1h-1zM71 507h1v1h-1zM85 509h1v1h-1zM76 501h1v1h-1zM76 506h1v1h-1zM81 498h1v1h-1zM71 505h1v1h-1zM75 504h1v1h-1zM78 509h1v1h-1zM81 495h1v1h-1zM78 510h1v1h-1zM74 502h1v1h-1zM82 505h1v1h-1zM79 490h1v1h-1zM71 502h1v1h-1zM78 515h1v1h-1zM73 507h1v1h-1zM80 487h1v1h-1zM73 501h1v1h-1zM74 499h1v1h-1zM78 493h1v1h-1zM78 494h1v1h-1zM74 503h1v1h-1zM74 502h1v1h-1zM83 497h1v1h-1zM76 504h1v1h-1zM75 506h1v1h-1zM71 505h1v1h-1zM74 495h1v1h-1zM84 491h1v1h-1zM84 501h1v1h-1zM83 491h1v1h-1zM82 507h1v1h-1zM76 498h1v1h-1zM87 497h1v1h-1zM75 496h1v1h-1zM78 501h1v1h-1zM77 510h1v1h-1zM75 502h1v1h-1zM83 491h1v1h-1zM81 509h1v1h-1zM71 494h1v1h-1zM72 489h1v1h-1zM78 487h1v1h-1zM79 508h1v1h-1zM70 499h1v1h-1zM68 506h1v1h-1zM73 498h1v1h-1zM77 502h1v1h-1zM75 500h1v1h-1zM74 500h1v1h-1zM72 501h1v1h-1zM68 498h1v1h-1zM85 497h1v1h-1zM71 502h1v1h-1zM72 490h1v1h-1zM73 505h1v1h-1zM78 498h1v1h-1zM73 493h1v1h-1zM82 499h1v1h-1zM73 487h1v1h-1zM71 517h1v1h-1zM72 500h1v1h-1zM77 498h1v1h-1zM75 491h1v1h-1zM72 511h1v1h-1zM73 505h1v1h-1zM69 499h1v1h-1zM78 505h1v1h-1zM72 504h1v1h-1zM78 494h1v1h-1zM79 493h1v1h-1zM73 500h1v1h-1zM65 502h1v1h-1zM72 491h1v1h-1zM75 504h1v1h-1zM75 508h1v1h-1zM72 492h1v1h-1zM83 500h1v1h-1zM80 493h1v1h-1zM80 500h1v1h-1zM79 498h1v1h-1zM82 493h1v1h-1zM72 491h1v1h-1zM81 493h1v1h-1zM72 494h1v1h-1zM75 491h1v1h-1zM75 495h1v1h-1zM74 494h1v1h-1zM77 496h1v1h-1zM77 500h1v1h-1zM78 485h1v1h-1zM74 495h1v1h-1zM80 488h1v1h-1zM73 498h1v1h-1zM75 506h1v1h-1zM75 506h1v1h-1zM70 489h1v1h-1zM82 500h1v1h-1zM79 499h1v1h-1zM79 491h1v1h-1zM80 494h1v1h-1zM81 498h1v1h-1zM68 493h1v1h-1zM81 497h1v1h-1zM75 501h1v1h-1zM75 496h1v1h-1zM77 500h1v1h-1zM83 497h1v1h-1zM84 508h1v1h-1zM84 504h1v1h-1zM77 500h1v1h-1zM76 495h1v1h-1zM76 495h1v1h-1zM83 500h1v1h-1zM75 487h1v1h-1zM76 496h1v1h-1zM72 493h1v1h-1zM67 506h1v1h-1zM76 516h1v1h-1zM76 498h1v1h-1zM83 498h1v1h-1zM77 496h1v1h-1zM74 509h1v1h-1zM81 509h1v1h-1zM75 500h1v1h-1zM73 506h1v1h-1zM71 504h1v1h-1zM81 507h1v1h-1zM73 507h1v1h-1zM74 495h1v1h-1zM71 508h1v1h-1zM83 493h1v1h-1zM73 498h1v1h-1zM87 502h1v1h-1zM74 488h1v1h-1zM74 507h1v1h-1zM84 495h1v1h-1zM74 497h1v1h-1zM69 507h1v1h-1zM72 507h1v1h-1zM69 493h1v1h-1zM78 494h1v1h-1zM80 498h1v1h-1zM72 504h1v1h-1zM80 486h1v1h-1zM84 500h1v1h-1zM80 486h1v1h-1zM73 498h1v1h-1zM81 488h1v1h-1zM73 487h1v1h-1zM75 502h1v1h-1zM69 497h1v1h-1zM79 508h1v1h-1zM79 496h1v1h-1zM72 495h1v1h-1zM74 501h1v1h-1zM76 510h1v1h-1zM78 492h1v1h-1zM83 503h1v1h-1zM77 494h1v1h-1zM69 495h1v1h-1zM80 493h1v1h-1zM71 502h1v1h-1zM78 503h1v1h-1zM79 507h1v1h-1zM73 506h1v1h-1zM72 505h1v1h-1zM77 500h1v1h-1zM81 498h1v1h-1zM81 503h1v1h-1zM77 495h1v1h-1zM73 497h1v1h-1zM76 499h1v1h-1zM89 499h1v1h-1zM80 493h1v1h-1zM74 498h1v1h-1zM77 492h1v1h-1zM83 493h1v1h-1zM81 483h1v1h-1zM76 501h1v1h-1zM77 503h1v1h-1zM78 500h1v1h-1zM69 497h1v1h-1zM67 506h1v1h-1zM78 497h1v1h-1zM73 496h1v1h-1zM84 508h1v1h-1zM76 507h1v1h-1zM70 489h1v1h-1zM74 494h1v1h-1zM74 501h1v1h-1zM89 491h1v1h-1zM77 501h1v1h-1zM76 505h1v1h-1zM84 489h1v1h-1zM77 497h1v1h-1zM78 489h1v1h-1zM69 487h1v1h-1zM79 500h1v1h-1zM77 484h1v1h-1zM75 495h1v1h-1zM71 495h1v1h-1zM79 502h1v1h-1zM76 502h1v1h-1zM74 500h1v1h-1zM77 502h1v1h-1zM76 498h1v1h-1zM76 495h1v1h-1zM86 499h1v1h-1zM78 513h1v1h-1zM82 487h1v1h-1zM79 503h1v1h-1zM84 505h1v1h-1zM80 491h1v1h-1zM73 502h1v1h-1zM79 492h1v1h-1zM75 497h1v1h-1zM77 501h1v1h-1zM75 491h1v1h-1zM82 508h1v1h-1zM76 506h1v1h-1zM78 503h1v1h-1zM79 494h1v1h-1zM79 505h1v1h-1zM73 513h1v1h-1zM85 508h1v1h-1zM85 501h1v1h-1zM75 496h1v1h-1zM73 501h1v1h-1zM76 503h1v1h-1zM68 516h1v1h-1zM86 496h1v1h-1zM79 501h1v1h-1zM78 497h1v1h-1zM76 494h1v1h-1zM77 499h1v1h-1zM78 493h1v1h-1zM77 499h1v1h-1zM79 491h1v1h-1zM78 505h1v1h-1zM79 496h1v1h-1zM74 498h1v1h-1zM80 508h1v1h-1zM76 495h1v1h-1zM78 500h1v1h-1zM73 495h1v1h-1zM76 503h1v1h-1zM71 494h1v1h-1zM79 491h1v1h-1zM77 501h1v1h-1zM76 493h1v1h-1zM76 497h1v1h-1zM78 493h1v1h-1zM81 487h1v1h-1zM76 499h1v1h-1zM81 494h1v1h-1zM79 495h1v1h-1zM80 509h1v1h-1zM75 502h1v1h-1zM73 506h1v1h-1zM82 498h1v1h-1zM72 503h1v1h-1zM81 504h1v1h-1zM80 486h1v1h-1zM74 509h1v1h-1zM71 508h1v1h-1zM84 501h1v1h-1zM81 495h1v1h-1zM71 500h1v1h-1zM76 499h1v1h-1zM79 497h1v1h-1zM77 501h1v1h-1zM76 511h1v1h-1zM78 499h1v1h-1zM76 495h1v1h-1zM82 498h1v1h-1zM72 497h1v1h-1zM76 496h1v1h-1zM81 490h1v1h-1zM79 499h1v1h-1zM72 501h1v1h-1zM76 502h1v1h-1zM75 502h1v1h-1zM70 494h1v1h-1zM80 505h1v1h-1zM76 495h1v1h-1zM81 484h1v1h-1zM73 504h1v1h-1zM79 492h1v1h-1zM69 511h1v1h-1zM77 493h1v1h-1zM77 505h1v1h-1zM66 509h1v1h-1zM80 485h1v1h-1zM80 487h1v1h-1zM81 500h1v1h-1zM86 492h1v1h-1zM77 506h1v1h-1zM74 495h1v1h-1zM75 499h1v1h-1zM72 503h1v1h-1zM79 499h1v1h-1zM84 495h1v1h-1zM82 494h1v1h-1zM80 486h1v1h-1zM77 498h1v1h-1zM74 496h1v1h-1zM75 495h1v1h-1zM67 498h1v1h-1zM74 496h1v1h-1zM72 500h1v1h-1zM80 496h1v1h-1zM74 508h1v1h-1zM81 504h1v1h-1zM81 495h1v1h-1zM76 506h1v1h-1zM74 499h1v1h-1zM78 501h1v1h-1zM75 506h1v1h-1zM76 504h1v1h-1zM81 502h1v1h-1zM80 491h1v1h-1zM71 497h1v1h-1zM78 508h1v1h-1zM71 503h1v1h-1zM73 495h1v1h-1zM75 504h1v1h-1zM77 506h1v1h-1zM72 506h1v1h-1zM80 498h1v1h-1zM79 495h1v1h-1zM72 498h1v1h-1zM74 518h1v1h-1zM74 510h1v1h-1zM77 501h1v1h-1zM80 493h1v1h-1zM80 500h1v1h-1zM70 505h1v1h-1zM79 501h1v1h-1zM83 494h1v1h-1zM79 503h1v1h-1zM73 508h1v1h-1zM70 493h1v1h-1zM79 491h1v1h-1zM76 489h1v1h-1zM77 492h1v1h-1zM78 489h1v1h-1zM78 497h1v1h-1zM77 498h1v1h-1zM77 490h1v1h-1zM66 503h1v1h-1zM73 497h1v1h-1zM78 486h1v1h-1zM73 496h1v1h-1zM72 502h1v1h-1zM76 494h1v1h-1zM72 505h1v1h-1zM74 504h1v1h-1zM78 486h1v1h-1zM72 500h1v1h-1zM78 504h1v1h-1zM80 505h1v1h-1zM75 498h1v1h-1zM80 495h1v1h-1zM81 488h1v1h-1zM79 497h1v1h-1zM68 508h1v1h-1zM78 499h1v1h-1zM72 497h1v1h-1zM83 492h1v1h-1zM62 498h1v1h-1zM71 500h1v1h-1zM75 494h1v1h-1zM73 507h1v1h-1zM70 513h1v1h-1zM74 493h1v1h-1zM80 502h1v1h-1zM72 505h1v1h-1zM69 496h1v1h-1zM81 496h1v1h-1zM71 504h1v1h-1zM80 498h1v1h-1zM69 499h1v1h-1zM78 503h1v1h-1zM84 495h1v1h-1zM74 499h1v1h-1zM82 491h1v1h-1zM82 480h1v1h-1zM80 494h1v1h-1zM78 503h1v1h-1zM72 500h1v1h-1zM78 502h1v1h-1zM73 494h1v1h-1zM68 518h1v1h-1zM76 498h1v1h-1zM70 507h1v1h-1zM74 509h1v1h-1zM80 498h1v1h-1zM80 491h1v1h-1zM75 496h1v1h-1zM71 501h1v1h-1zM76 508h1v1h-1zM62 499h1v1h-1zM73 497h1v1h-1zM78 501h1v1h-1zM77 496h1v1h-1zM79 501h1v1h-1zM69 500h1v1h-1zM71 493h1v1h-1zM77 499h1v1h-1zM77 493h1v1h-1zM76 493h1v1h-1zM78 503h1v1h-1zM84 505h1v1h-1zM73 497h1v1h-1zM73 502h1v1h-1zM85 501h1v1h-1zM67 494h1v1h-1zM71 504h1v1h-1zM77 501h1v1h-1zM84 491h1v1h-1zM73 513h1v1h-1zM78 494h1v1h-1zM68 492h1v1h-1zM66 503h1v1h-1zM77 505h1v1h-1zM76 495h1v1h-1zM73 512h1v1h-1zM69 502h1v1h-1zM77 503h1v1h-1zM75 503h1v1h-1zM80 497h1v1h-1zM75 498h1v1h-1zM72 499h1v1h-1zM75 501h1v1h-1zM82 506h1v1h-1zM75 503h1v1h-1zM78 503h1v1h-1zM77 501h1v1h-1zM75 495h1v1h-1zM80 506h1v1h-1zM79 501h1v1h-1zM78 496h1v1h-1zM69 506h1v1h-1zM77 495h1v1h-1zM72 508h1v1h-1zM69 513h1v1h-1zM79 513h1v1h-1zM73 500h1v1h-1zM74 501h1v1h-1zM76 495h1v1h-1zM81 493h1v1h-1zM74 503h1v1h-1zM74 497h1v1h-1zM78 496h1v1h-1zM71 500h1v1h-1zM76 510h1v1h-1zM72 507h1v1h-1zM73 498h1v1h-1zM75 501h1v1h-1zM80 509h1v1h-1zM74 508h1v1h-1zM81 503h1v1h-1zM73 506h1v1h-1zM76 501h1v1h-1zM75 504h1v1h-1zM81 505h1v1h-1zM76 506h1v1h-1zM83 491h1v1h-1zM83 489h1v1h-1zM79 502h1v1h-1zM83 499h1v1h-1zM74 495h1v1h-1zM71 506h1v1h-1zM76 495h1v1h-1zM79 493h1v1h-1zM75 497h1v1h-1zM83 506h1v1h-1zM76 489h1v1h-1zM78 499h1v1h-1zM78 502h1v1h-1zM75 505h1v1h-1zM80 499h1v1h-1zM75 496h1v1h-1zM79 491h1v1h-1zM76 494h1v1h-1zM71 505h1v1h-1zM76 499h1v1h-1zM80 488h1v1h-1zM76 501h1v1h-1zM80 491h1v1h-1zM80 499h1v1h-1zM82 504h1v1h-1zM79 512h1v1h-1zM76 496h1v1h-1zM75 493h1v1h-1zM76 487h1v1h-1zM76 502h1v1h-1zM81 495h1v1h-1zM82 493h1v1h-1zM76 487h1v1h-1zM73 495h1v1h-1zM83 500h1v1h-1zM72 504h1v1h-1zM78 497h1v1h-1zM77 497h1v1h-1zM74 489h1v1h-1zM76 507h1v1h-1zM82 495h1v1h-1zM73 499h1v1h-1zM80 500h1v1h-1zM74 502h1v1h-1zM76 502h1v1h-1zM75 490h1v1h-1zM77 504h1v1h-1zM72 500h1v1h-1zM80 496h1v1h-1zM74 512h1v1h-1zM80 504h1v1h-1zM73 510h1v1h-1zM70 498h1v1h-1zM80 506h1v1h-1zM73 496h1v1h-1zM77 487h1v1h-1zM79 502h1v1h-1zM75 503h1v1h-1zM80 500h1v1h-1zM79 508h1v1h-1zM75 501h1v1h-1zM74 506h1v1h-1zM75 502h1v1h-1zM77 499h1v1h-1zM83 496h1v1h-1zM82 502h1v1h-1zM82 496h1v1h-1zM80 502h1v1h-1zM74 501h1v1h-1zM76 499h1v1h-1zM82 493h1v1h-1zM70 490h1v1h-1zM75 496h1v1h-1zM77 502h1v1h-1zM84 499h1v1h-1zM78 494h1v1h-1zM79 507h1v1h-1zM82 485h1v1h-1zM80 508h1v1h-1zM80 489h1v1h-1zM75 503h1v1h-1zM78 493h1v1h-1zM73 506h1v1h-1zM71 509h1v1h-1zM77 501h1v1h-1zM71 497h1v1h-1zM79 489h1v1h-1zM85 488h1v1h-1zM72 501h1v1h-1zM78 503h1v1h-1zM75 498h1v1h-1zM76 496h1v1h-1zM66 508h1v1h-1zM78 500h1v1h-1zM74 501h1v1h-1zM76 499h1v1h-1zM81 487h1v1h-1zM78 492h1v1h-1zM75 509h1v1h-1zM72 500h1v1h-1zM74 506h1v1h-1zM73 490h1v1h-1zM79 496h1v1h-1zM75 506h1v1h-1zM73 498h1v1h-1zM77 501h1v1h-1zM74 506h1v1h-1zM86 494h1v1h-1zM84 484h1v1h-1zM82 495h1v1h-1zM77 497h1v1h-1zM74 492h1v1h-1zM75 507h1v1h-1zM81 495h1v1h-1zM74 495h1v1h-1zM72 512h1v1h-1zM79 499h1v1h-1zM75 493h1v1h-1zM82 502h1v1h-1zM73 506h1v1h-1zM72 504h1v1h-1zM73 498h1v1h-1zM78 501h1v1h-1zM81 493h1v1h-1zM83 505h1v1h-1zM76 502h1v1h-1zM73 499h1v1h-1zM71 501h1v1h-1zM77 507h1v1h-1zM80 503h1v1h-1zM75 498h1v1h-1zM75 501h1v1h-1zM69 506h1v1h-1zM70 498h1v1h-1zM77 496h1v1h-1zM83 496h1v1h-1zM83 504h1v1h-1zM74 502h1v1h-1zM82 495h1v1h-1zM77 495h1v1h-1zM77 497h1v1h-1zM77 505h1v1h-1zM82 498h1v1h-1zM77 504h1v1h-1zM75 493h1v1h-1zM81 492h1v1h-1zM80 492h1v1h-1zM84 490h1v1h-1zM80 507h1v1h-1zM73 509h1v1h-1zM73 489h1v1h-1zM79 502h1v1h-1zM76 484h1v1h-1zM76 497h1v1h-1zM75 498h1v1h-1zM69 498h1v1h-1zM84 506h1v1h-1zM75 495h1v1h-1zM78 505h1v1h-1zM79 491h1v1h-1zM77 500h1v1h-1zM82 505h1v1h-1zM79 506h1v1h-1zM75 509h1v1h-1zM75 502h1v1h-1zM80 492h1v1h-1zM74 489h1v1h-1zM77 498h1v1h-1zM75 502h1v1h-1zM68 501h1v1h-1zM77 497h1v1h-1zM80 509h1v1h-1zM75 494h1v1h-1zM74 500h1v1h-1zM79 493h1v1h-1zM81 491h1v1h-1zM80 501h1v1h-1zM78 512h1v1h-1zM75 498h1v1h-1zM78 504h1v1h-1zM71 502h1v1h-1zM74 504h1v1h-1zM82 498h1v1h-1zM76 500h1v1h-1zM65 507h1v1h-1zM79 499h1v1h-1zM75 495h1v1h-1zM76 507h1v1h-1zM76 507h1v1h-1zM66 499h1v1h-1zM78 499h1v1h-1zM70 497h1v1h-1zM82 490h1v1h-1zM73 494h1v1h-1zM74 504h1v1h-1zM79 486h1v1h-1zM82 494h1v1h-1zM74 510h1v1h-1zM76 492h1v1h-1zM74 495h1v1h-1zM72 498h1v1h-1zM80 500h1v1h-1zM71 518h1v1h-1zM73 501h1v1h-1zM77 504h1v1h-1zM75 502h1v1h-1zM85 497h1v1h-1zM72 502h1v1h-1zM73 498h1v1h-1zM77 501h1v1h-1zM75 505h1v1h-1zM73 490h1v1h-1zM79 496h1v1h-1zM82 494h1v1h-1zM78 501h1v1h-1zM57 492h1v1h-1zM67 511h1v1h-1zM62 508h1v1h-1zM81 502h1v1h-1zM78 495h1v1h-1zM74 501h1v1h-1zM77 504h1v1h-1zM73 495h1v1h-1zM70 503h1v1h-1zM64 492h1v1h-1zM71 496h1v1h-1zM72 481h1v1h-1zM72 498h1v1h-1zM79 485h1v1h-1zM72 503h1v1h-1zM77 507h1v1h-1zM81 491h1v1h-1zM78 496h1v1h-1zM69 511h1v1h-1zM70 494h1v1h-1zM71 494h1v1h-1zM80 501h1v1h-1zM83 501h1v1h-1zM70 508h1v1h-1zM70 497h1v1h-1zM73 500h1v1h-1zM81 494h1v1h-1zM76 499h1v1h-1zM66 493h1v1h-1zM73 503h1v1h-1zM76 503h1v1h-1zM74 496h1v1h-1zM77 492h1v1h-1zM66 499h1v1h-1zM65 497h1v1h-1zM69 496h1v1h-1zM74 494h1v1h-1zM71 488h1v1h-1zM75 493h1v1h-1zM77 479h1v1h-1zM69 502h1v1h-1zM59 500h1v1h-1zM75 500h1v1h-1zM65 503h1v1h-1zM75 492h1v1h-1zM79 498h1v1h-1zM74 496h1v1h-1zM77 500h1v1h-1zM81 501h1v1h-1zM70 499h1v1h-1zM80 496h1v1h-1zM76 503h1v1h-1zM73 483h1v1h-1zM75 501h1v1h-1zM75 494h1v1h-1zM82 497h1v1h-1zM70 495h1v1h-1zM76 491h1v1h-1zM68 515h1v1h-1zM82 506h1v1h-1zM83 502h1v1h-1zM63 510h1v1h-1zM82 502h1v1h-1zM62 511h1v1h-1zM83 494h1v1h-1zM75 505h1v1h-1zM73 507h1v1h-1zM75 504h1v1h-1zM75 489h1v1h-1zM76 509h1v1h-1zM81 511h1v1h-1zM77 495h1v1h-1zM74 486h1v1h-1zM73 506h1v1h-1zM60 503h1v1h-1zM79 508h1v1h-1zM68 496h1v1h-1zM62 494h1v1h-1zM77 514h1v1h-1zM67 511h1v1h-1zM77 495h1v1h-1zM88 479h1v1h-1zM74 501h1v1h-1zM87 510h1v1h-1zM88 498h1v1h-1zM80 508h1v1h-1zM77 502h1v1h-1zM73 497h1v1h-1zM66 515h1v1h-1zM71 485h1v1h-1zM76 499h1v1h-1zM75 512h1v1h-1zM73 498h1v1h-1zM69 500h1v1h-1zM71 501h1v1h-1zM94 499h1v1h-1zM69 514h1v1h-1zM79 504h1v1h-1zM79 505h1v1h-1zM78 509h1v1h-1zM80 508h1v1h-1zM71 500h1v1h-1zM69 507h1v1h-1zM79 495h1v1h-1zM78 518h1v1h-1zM82 490h1v1h-1zM73 504h1v1h-1zM74 502h1v1h-1zM81 501h1v1h-1zM67 506h1v1h-1zM73 500h1v1h-1zM70 490h1v1h-1zM66 498h1v1h-1zM67 481h1v1h-1zM81 490h1v1h-1zM69 504h1v1h-1zM59 512h1v1h-1zM69 505h1v1h-1zM71 502h1v1h-1zM75 499h1v1h-1zM62 491h1v1h-1zM74 510h1v1h-1zM71 504h1v1h-1zM75 503h1v1h-1zM80 488h1v1h-1zM76 498h1v1h-1zM72 494h1v1h-1zM69 493h1v1h-1zM67 519h1v1h-1zM85 498h1v1h-1zM79 492h1v1h-1zM56 489h1v1h-1zM75 510h1v1h-1zM74 492h1v1h-1zM72 493h1v1h-1zM65 499h1v1h-1zM71 494h1v1h-1zM68 494h1v1h-1zM75 509h1v1h-1zM73 516h1v1h-1zM64 503h1v1h-1zM67 500h1v1h-1zM75 503h1v1h-1zM81 494h1v1h-1zM66 500h1v1h-1zM76 494h1v1h-1zM80 511h1v1h-1zM65 504h1v1h-1zM80 484h1v1h-1zM75 498h1v1h-1zM65 511h1v1h-1zM75 496h1v1h-1zM77 504h1v1h-1zM79 503h1v1h-1zM77 491h1v1h-1zM71 501h1v1h-1zM56 518h1v1h-1zM72 492h1v1h-1zM62 503h1v1h-1zM74 495h1v1h-1zM71 494h1v1h-1zM69 500h1v1h-1zM70 505h1v1h-1zM73 501h1v1h-1zM77 508h1v1h-1zM78 500h1v1h-1zM73 494h1v1h-1zM72 505h1v1h-1zM75 496h1v1h-1zM66 490h1v1h-1zM76 507h1v1h-1zM76 489h1v1h-1zM73 501h1v1h-1zM68 503h1v1h-1zM73 494h1v1h-1zM66 507h1v1h-1zM76 493h1v1h-1zM68 507h1v1h-1zM78 497h1v1h-1zM84 496h1v1h-1zM67 509h1v1h-1zM73 502h1v1h-1zM74 492h1v1h-1zM66 499h1v1h-1zM83 491h1v1h-1zM83 500h1v1h-1zM67 503h1v1h-1zM78 492h1v1h-1zM61 504h1v1h-1zM67 504h1v1h-1zM62 501h1v1h-1zM69 490h1v1h-1zM72 501h1v1h-1zM70 492h1v1h-1zM75 487h1v1h-1zM77 502h1v1h-1zM85 504h1v1h-1zM76 501h1v1h-1zM74 490h1v1h-1zM83 502h1v1h-1zM72 492h1v1h-1zM83 502h1v1h-1zM67 506h1v1h-1zM86 497h1v1h-1zM77 496h1v1h-1zM70 508h1v1h-1zM93 497h1v1h-1zM73 505h1v1h-1zM72 505h1v1h-1zM79 491h1v1h-1zM67 500h1v1h-1zM79 501h1v1h-1zM82 488h1v1h-1zM77 494h1v1h-1zM75 502h1v1h-1zM68 499h1v1h-1zM67 503h1v1h-1zM69 497h1v1h-1zM75 495h1v1h-1zM81 494h1v1h-1zM79 501h1v1h-1zM67 499h1v1h-1zM69 498h1v1h-1zM72 513h1v1h-1zM71 511h1v1h-1zM77 490h1v1h-1zM59 507h1v1h-1zM61 507h1v1h-1zM80 501h1v1h-1zM73 498h1v1h-1zM76 497h1v1h-1zM71 497h1v1h-1zM81 494h1v1h-1zM76 491h1v1h-1zM70 490h1v1h-1zM73 505h1v1h-1zM76 496h1v1h-1zM78 496h1v1h-1zM76 501h1v1h-1zM77 481h1v1h-1zM66 506h1v1h-1zM73 516h1v1h-1zM73 496h1v1h-1zM83 502h1v1h-1zM86 501h1v1h-1zM73 505h1v1h-1zM69 497h1v1h-1zM71 499h1v1h-1zM79 495h1v1h-1zM76 496h1v1h-1zM80 479h1v1h-1zM73 501h1v1h-1zM67 508h1v1h-1zM75 508h1v1h-1zM80 503h1v1h-1zM73 492h1v1h-1zM73 496h1v1h-1zM76 496h1v1h-1zM93 485h1v1h-1zM81 495h1v1h-1zM72 506h1v1h-1zM74 491h1v1h-1zM77 498h1v1h-1zM61 503h1v1h-1zM67 495h1v1h-1zM77 501h1v1h-1zM72 515h1v1h-1zM77 495h1v1h-1zM75 498h1v1h-1zM60 491h1v1h-1zM65 516h1v1h-1zM73 498h1v1h-1zM70 507h1v1h-1zM74 512h1v1h-1zM79 510h1v1h-1zM73 502h1v1h-1zM71 499h1v1h-1zM63 497h1v1h-1zM68 496h1v1h-1zM82 500h1v1h-1zM82 504h1v1h-1zM80 506h1v1h-1zM70 506h1v1h-1zM72 496h1v1h-1zM81 514h1v1h-1zM68 513h1v1h-1zM79 493h1v1h-1zM76 502h1v1h-1zM76 497h1v1h-1zM66 501h1v1h-1zM79 504h1v1h-1zM78 507h1v1h-1zM68 500h1v1h-1zM76 506h1v1h-1zM75 503h1v1h-1zM75 514h1v1h-1zM60 502h1v1h-1zM90 499h1v1h-1zM63 502h1v1h-1zM65 496h1v1h-1zM75 511h1v1h-1zM77 504h1v1h-1zM80 500h1v1h-1zM69 500h1v1h-1zM76 497h1v1h-1zM70 498h1v1h-1zM65 494h1v1h-1zM73 497h1v1h-1zM74 509h1v1h-1zM76 499h1v1h-1zM67 493h1v1h-1zM76 493h1v1h-1zM77 491h1v1h-1zM75 499h1v1h-1zM80 496h1v1h-1zM72 502h1v1h-1zM74 511h1v1h-1zM72 496h1v1h-1zM72 503h1v1h-1zM75 504h1v1h-1zM65 519h1v1h-1zM86 497h1v1h-1zM66 502h1v1h-1zM77 483h1v1h-1zM74 489h1v1h-1zM77 509h1v1h-1zM80 488h1v1h-1zM83 504h1v1h-1zM72 503h1v1h-1zM83 495h1v1h-1zM74 496h1v1h-1zM81 483h1v1h-1zM83 491h1v1h-1zM80 487h1v1h-1zM68 496h1v1h-1zM79 487h1v1h-1zM78 494h1v1h-1zM82 496h1v1h-1zM77 498h1v1h-1zM85 495h1v1h-1zM74 514h1v1h-1zM74 504h1v1h-1zM69 502h1v1h-1zM60 503h1v1h-1zM70 489h1v1h-1zM65 509h1v1h-1zM77 488h1v1h-1zM85 493h1v1h-1zM72 502h1v1h-1zM67 489h1v1h-1zM69 509h1v1h-1zM80 487h1v1h-1zM82 498h1v1h-1zM77 499h1v1h-1zM77 492h1v1h-1zM68 495h1v1h-1zM72 504h1v1h-1zM66 512h1v1h-1zM70 496h1v1h-1zM78 502h1v1h-1zM72 492h1v1h-1zM68 489h1v1h-1zM81 506h1v1h-1zM86 501h1v1h-1zM76 505h1v1h-1zM80 497h1v1h-1zM76 514h1v1h-1zM63 491h1v1h-1zM68 506h1v1h-1zM81 496h1v1h-1zM78 498h1v1h-1zM76 495h1v1h-1zM74 499h1v1h-1zM81 514h1v1h-1zM63 505h1v1h-1zM74 506h1v1h-1zM81 504h1v1h-1zM79 492h1v1h-1zM63 513h1v1h-1zM82 491h1v1h-1zM82 503h1v1h-1zM59 509h1v1h-1zM68 509h1v1h-1zM70 495h1v1h-1zM64 500h1v1h-1zM80 494h1v1h-1zM62 517h1v1h-1zM86 502h1v1h-1zM71 491h1v1h-1zM64 505h1v1h-1zM82 491h1v1h-1zM74 498h1v1h-1zM72 503h1v1h-1zM87 493h1v1h-1zM79 506h1v1h-1zM72 499h1v1h-1zM66 509h1v1h-1zM71 495h1v1h-1zM74 493h1v1h-1zM67 499h1v1h-1zM83 496h1v1h-1zM77 488h1v1h-1zM62 515h1v1h-1zM72 489h1v1h-1zM73 504h1v1h-1zM63 495h1v1h-1zM76 493h1v1h-1zM79 506h1v1h-1zM77 496h1v1h-1zM74 495h1v1h-1zM73 502h1v1h-1zM72 507h1v1h-1zM90 493h1v1h-1zM76 505h1v1h-1zM78 497h1v1h-1zM76 486h1v1h-1zM82 478h1v1h-1zM75 485h1v1h-1zM82 473h1v1h-1zM82 490h1v1h-1zM69 489h1v1h-1zM73 473h1v1h-1zM77 482h1v1h-1zM79 469h1v1h-1zM72 479h1v1h-1zM79 472h1v1h-1zM71 495h1v1h-1zM74 480h1v1h-1zM76 476h1v1h-1zM79 475h1v1h-1zM81 467h1v1h-1zM71 496h1v1h-1zM78 483h1v1h-1zM84 477h1v1h-1zM79 467h1v1h-1zM71 490h1v1h-1zM82 479h1v1h-1zM70 470h1v1h-1zM73 474h1v1h-1zM79 470h1v1h-1zM86 467h1v1h-1zM76 485h1v1h-1zM80 470h1v1h-1zM82 487h1v1h-1zM73 481h1v1h-1zM73 469h1v1h-1zM82 480h1v1h-1zM83 477h1v1h-1zM69 485h1v1h-1zM75 472h1v1h-1zM73 487h1v1h-1zM77 492h1v1h-1zM81 463h1v1h-1zM83 482h1v1h-1zM79 469h1v1h-1zM87 462h1v1h-1zM78 465h1v1h-1zM72 471h1v1h-1zM84 481h1v1h-1zM77 470h1v1h-1zM78 480h1v1h-1zM71 476h1v1h-1zM78 483h1v1h-1zM79 480h1v1h-1zM72 466h1v1h-1zM80 470h1v1h-1zM78 475h1v1h-1zM81 470h1v1h-1zM86 472h1v1h-1zM81 480h1v1h-1zM84 476h1v1h-1zM70 480h1v1h-1zM88 473h1v1h-1zM81 478h1v1h-1zM75 475h1v1h-1zM75 488h1v1h-1zM80 488h1v1h-1zM81 488h1v1h-1zM81 468h1v1h-1zM87 473h1v1h-1zM84 474h1v1h-1zM77 480h1v1h-1zM73 474h1v1h-1zM74 477h1v1h-1zM72 482h1v1h-1zM80 490h1v1h-1zM88 470h1v1h-1zM83 473h1v1h-1zM80 476h1v1h-1zM76 480h1v1h-1zM71 486h1v1h-1zM77 471h1v1h-1zM77 483h1v1h-1zM75 483h1v1h-1zM81 486h1v1h-1zM73 481h1v1h-1zM81 486h1v1h-1zM80 482h1v1h-1zM71 479h1v1h-1zM87 469h1v1h-1zM89 464h1v1h-1zM77 468h1v1h-1zM82 477h1v1h-1zM88 471h1v1h-1zM77 469h1v1h-1zM78 484h1v1h-1zM82 483h1v1h-1zM83 474h1v1h-1zM81 476h1v1h-1zM72 494h1v1h-1zM80 469h1v1h-1zM80 478h1v1h-1zM83 483h1v1h-1zM63 493h1v1h-1zM86 465h1v1h-1zM69 487h1v1h-1zM80 479h1v1h-1zM73 479h1v1h-1zM79 482h1v1h-1zM89 471h1v1h-1zM76 464h1v1h-1zM84 472h1v1h-1zM78 471h1v1h-1zM82 462h1v1h-1zM79 478h1v1h-1zM80 485h1v1h-1zM78 479h1v1h-1zM83 463h1v1h-1zM77 479h1v1h-1zM83 468h1v1h-1zM82 477h1v1h-1zM71 473h1v1h-1zM71 484h1v1h-1zM80 482h1v1h-1zM83 470h1v1h-1zM84 479h1v1h-1zM81 479h1v1h-1zM72 485h1v1h-1zM73 473h1v1h-1zM77 480h1v1h-1zM78 475h1v1h-1zM74 483h1v1h-1zM75 471h1v1h-1zM79 487h1v1h-1zM76 472h1v1h-1zM85 484h1v1h-1zM77 477h1v1h-1zM80 497h1v1h-1zM79 484h1v1h-1zM81 463h1v1h-1zM73 473h1v1h-1zM81 477h1v1h-1zM87 469h1v1h-1zM80 477h1v1h-1zM79 493h1v1h-1zM80 487h1v1h-1zM85 468h1v1h-1zM82 472h1v1h-1zM79 478h1v1h-1zM79 474h1v1h-1zM86 469h1v1h-1zM82 486h1v1h-1zM82 482h1v1h-1zM85 479h1v1h-1zM87 461h1v1h-1zM75 503h1v1h-1zM46 497h1v1h-1zM48 501h1v1h-1zM48 495h1v1h-1zM62 503h1v1h-1zM53 500h1v1h-1zM59 502h1v1h-1zM59 500h1v1h-1zM67 492h1v1h-1zM56 502h1v1h-1zM56 498h1v1h-1zM56 502h1v1h-1zM69 501h1v1h-1zM57 503h1v1h-1zM58 490h1v1h-1zM62 499h1v1h-1zM55 505h1v1h-1zM60 498h1v1h-1zM42 490h1v1h-1zM60 501h1v1h-1zM63 503h1v1h-1zM56 494h1v1h-1zM51 500h1v1h-1zM50 505h1v1h-1zM49 490h1v1h-1zM58 491h1v1h-1zM73 497h1v1h-1zM59 500h1v1h-1zM53 490h1v1h-1zM45 506h1v1h-1zM68 515h1v1h-1zM48 504h1v1h-1zM59 507h1v1h-1zM55 505h1v1h-1zM67 506h1v1h-1zM71 501h1v1h-1zM72 498h1v1h-1zM73 486h1v1h-1zM60 497h1v1h-1zM60 508h1v1h-1zM65 502h1v1h-1zM73 494h1v1h-1zM53 510h1v1h-1zM62 489h1v1h-1zM62 495h1v1h-1zM71 509h1v1h-1zM55 509h1v1h-1zM53 506h1v1h-1zM64 501h1v1h-1zM48 499h1v1h-1zM41 497h1v1h-1zM45 508h1v1h-1zM52 486h1v1h-1zM64 504h1v1h-1zM55 514h1v1h-1zM66 502h1v1h-1zM54 483h1v1h-1zM63 508h1v1h-1zM55 493h1v1h-1zM59 491h1v1h-1zM60 506h1v1h-1zM72 504h1v1h-1zM61 506h1v1h-1zM71 500h1v1h-1zM50 496h1v1h-1zM49 495h1v1h-1zM59 503h1v1h-1zM61 502h1v1h-1zM57 504h1v1h-1zM67 507h1v1h-1zM71 501h1v1h-1zM57 511h1v1h-1zM61 504h1v1h-1zM57 507h1v1h-1zM56 495h1v1h-1zM59 499h1v1h-1zM66 500h1v1h-1zM60 500h1v1h-1zM62 498h1v1h-1zM68 494h1v1h-1zM56 497h1v1h-1zM65 502h1v1h-1zM63 500h1v1h-1zM54 494h1v1h-1zM57 498h1v1h-1zM62 504h1v1h-1zM67 501h1v1h-1zM54 495h1v1h-1zM60 504h1v1h-1zM75 504h1v1h-1zM74 514h1v1h-1zM51 508h1v1h-1zM69 510h1v1h-1zM59 507h1v1h-1zM56 501h1v1h-1zM60 512h1v1h-1zM58 507h1v1h-1zM60 497h1v1h-1zM61 506h1v1h-1zM54 505h1v1h-1zM54 496h1v1h-1zM61 500h1v1h-1zM52 491h1v1h-1zM60 503h1v1h-1zM56 502h1v1h-1zM47 503h1v1h-1zM63 503h1v1h-1zM55 502h1v1h-1zM61 508h1v1h-1zM62 503h1v1h-1zM54 506h1v1h-1zM69 499h1v1h-1zM65 504h1v1h-1zM59 494h1v1h-1zM74 491h1v1h-1zM62 499h1v1h-1zM69 500h1v1h-1zM60 505h1v1h-1zM63 499h1v1h-1zM65 504h1v1h-1zM67 499h1v1h-1zM59 499h1v1h-1zM53 503h1v1h-1zM63 510h1v1h-1zM57 504h1v1h-1zM69 502h1v1h-1zM60 502h1v1h-1zM54 495h1v1h-1zM68 503h1v1h-1zM59 494h1v1h-1zM60 509h1v1h-1zM50 496h1v1h-1zM68 511h1v1h-1zM72 499h1v1h-1zM64 497h1v1h-1zM64 500h1v1h-1zM61 510h1v1h-1zM62 500h1v1h-1zM60 503h1v1h-1zM55 502h1v1h-1zM64 511h1v1h-1zM43 493h1v1h-1zM50 506h1v1h-1zM79 504h1v1h-1zM60 508h1v1h-1zM40 499h1v1h-1zM55 498h1v1h-1zM62 498h1v1h-1zM68 502h1v1h-1zM63 517h1v1h-1zM56 507h1v1h-1zM53 508h1v1h-1zM67 503h1v1h-1zM67 512h1v1h-1zM70 502h1v1h-1zM59 508h1v1h-1zM48 497h1v1h-1zM63 505h1v1h-1zM74 513h1v1h-1zM62 504h1v1h-1zM49 500h1v1h-1zM62 500h1v1h-1zM60 505h1v1h-1zM52 498h1v1h-1zM45 507h1v1h-1zM51 491h1v1h-1zM66 501h1v1h-1zM67 500h1v1h-1zM76 507h1v1h-1zM61 502h1v1h-1zM58 506h1v1h-1zM75 500h1v1h-1zM51 504h1v1h-1zM68 493h1v1h-1zM54 495h1v1h-1zM64 505h1v1h-1zM54 494h1v1h-1zM65 490h1v1h-1zM65 501h1v1h-1zM75 508h1v1h-1zM55 500h1v1h-1zM57 497h1v1h-1zM60 507h1v1h-1zM48 499h1v1h-1zM71 507h1v1h-1zM53 496h1v1h-1zM53 492h1v1h-1zM69 503h1v1h-1zM54 493h1v1h-1zM56 498h1v1h-1zM73 500h1v1h-1zM60 508h1v1h-1zM65 501h1v1h-1zM42 508h1v1h-1zM64 499h1v1h-1zM59 496h1v1h-1zM52 492h1v1h-1zM63 505h1v1h-1zM61 506h1v1h-1zM64 503h1v1h-1zM53 504h1v1h-1zM69 506h1v1h-1zM69 499h1v1h-1zM52 508h1v1h-1zM55 503h1v1h-1zM58 502h1v1h-1zM57 498h1v1h-1zM45 512h1v1h-1zM61 490h1v1h-1zM89 464h1v1h-1zM91 454h1v1h-1zM101 483h1v1h-1zM95 477h1v1h-1zM101 463h1v1h-1zM106 460h1v1h-1zM92 469h1v1h-1zM106 472h1v1h-1zM96 466h1v1h-1zM97 472h1v1h-1zM102 481h1v1h-1zM102 472h1v1h-1zM95 482h1v1h-1zM98 471h1v1h-1zM111 482h1v1h-1zM101 471h1v1h-1zM92 479h1v1h-1zM93 478h1v1h-1zM90 472h1v1h-1zM100 472h1v1h-1zM98 474h1v1h-1zM88 464h1v1h-1zM95 484h1v1h-1zM96 465h1v1h-1zM91 472h1v1h-1zM100 475h1v1h-1zM87 488h1v1h-1zM67 468h1v1h-1zM71 472h1v1h-1zM86 454h1v1h-1zM99 498h1v1h-1zM87 511h1v1h-1zM87 454h1v1h-1zM76 492h1v1h-1zM60 465h1v1h-1z" fill="#000"/>
<rect x="38.6" y="440.4" width="86.4" height="81.7" fill="none" stroke="#1a1a1a" stroke-width="1.2"/>
<line x1="86.5" y1="440.4" x2="86.5" y2="522.1" stroke="#222" stroke-width="1.1" />
<line x1="38.6" y1="486.6" x2="125" y2="486.6" stroke="#222" stroke-width="1.1" />
<path d="M38.6 522.1v4.5M45.1 522.1v2.8M48.91 522.1v2.8M51.6 522.1v2.8M53.7 522.1v2.8M55.41 522.1v2.8M56.85 522.1v2.8M58.11 522.1v2.8M59.21 522.1v2.8M60.2 522.1v4.5M66.7 522.1v2.8M70.51 522.1v2.8M73.2 522.1v2.8M75.3 522.1v2.8M77.01 522.1v2.8M78.45 522.1v2.8M79.71 522.1v2.8M80.81 522.1v2.8M81.8 522.1v4.5M88.3 522.1v2.8M92.11 522.1v2.8M94.8 522.1v2.8M96.9 522.1v2.8M98.61 522.1v2.8M100.05 522.1v2.8M101.31 522.1v2.8M102.41 522.1v2.8M103.4 522.1v4.5M109.9 522.1v2.8M113.71 522.1v2.8M116.4 522.1v2.8M118.5 522.1v2.8M120.21 522.1v2.8M121.65 522.1v2.8M122.91 522.1v2.8M124.01 522.1v2.8M125 522.1v4.5" stroke="#1a1a1a" stroke-width="1.1" fill="none"/>
<path d="M38.6 522.1h-4.3M38.6 515.95h-2.6M38.6 512.35h-2.6M38.6 509.8h-2.6M38.6 507.82h-2.6M38.6 506.21h-2.6M38.6 504.84h-2.6M38.6 503.65h-2.6M38.6 502.61h-2.6M38.6 501.68h-4.3M38.6 495.53h-2.6M38.6 491.93h-2.6M38.6 489.38h-2.6M38.6 487.4h-2.6M38.6 485.78h-2.6M38.6 484.41h-2.6M38.6 483.23h-2.6M38.6 482.18h-2.6M38.6 481.25h-4.3M38.6 475.1h-2.6M38.6 471.5h-2.6M38.6 468.95h-2.6M38.6 466.97h-2.6M38.6 465.36h-2.6M38.6 463.99h-2.6M38.6 462.8h-2.6M38.6 461.76h-2.6M38.6 460.82h-4.3M38.6 454.68h-2.6M38.6 451.08h-2.6M38.6 448.53h-2.6M38.6 446.55h-2.6M38.6 444.93h-2.6M38.6 443.56h-2.6M38.6 442.38h-2.6M38.6 441.33h-2.6M38.6 440.4h-4.3" stroke="#1a1a1a" stroke-width="1.1" fill="none"/>
<text x="0" y="0" font-size="10.43" font-weight="normal" font-family="Liberation Sans" transform="translate(32.9 538.2) scale(0.6586 1)" stroke="#000" stroke-width="0.2">10</text>
<text x="0" y="0" font-size="9.86" font-family="Liberation Sans" stroke="#000" stroke-width="0.2" transform="translate(41 533.5) scale(0.7609 1)">0</text>
<text x="0" y="0" font-size="10.43" font-weight="normal" font-family="Liberation Sans" transform="translate(54.23 538.2) scale(0.6586 1)" stroke="#000" stroke-width="0.2">10</text>
<text x="0" y="0" font-size="9.86" font-family="Liberation Sans" stroke="#000" stroke-width="0.2" transform="translate(62.21 533.5) scale(0.7609 1)">1</text>
<text x="0" y="0" font-size="10.43" font-weight="normal" font-family="Liberation Sans" transform="translate(75.55 538.2) scale(0.6586 1)" stroke="#000" stroke-width="0.2">10</text>
<text x="0" y="0" font-size="9.86" font-family="Liberation Sans" stroke="#000" stroke-width="0.2" transform="translate(83.65 533.5) scale(0.7609 1)">2</text>
<text x="0" y="0" font-size="10.43" font-weight="normal" font-family="Liberation Sans" transform="translate(96.88 538.2) scale(0.6586 1)" stroke="#000" stroke-width="0.2">10</text>
<text x="0" y="0" font-size="9.86" font-family="Liberation Sans" stroke="#000" stroke-width="0.2" transform="translate(105.01 533.5) scale(0.7609 1)">3</text>
<text x="0" y="0" font-size="10.43" font-weight="normal" font-family="Liberation Sans" transform="translate(118.2 538.2) scale(0.6586 1)" stroke="#000" stroke-width="0.2">10</text>
<text x="0" y="0" font-size="9.86" font-family="Liberation Sans" stroke="#000" stroke-width="0.2" transform="translate(126.34 533.5) scale(0.7609 1)">4</text>
<g transform="rotate(-90)">
<text x="0" y="0" font-size="9.29" font-weight="normal" font-family="Liberation Sans" transform="translate(-528.72 31.6) scale(0.8376 1)" stroke="#000" stroke-width="0.2">10</text>
<text x="0" y="0" font-size="8.43" font-family="Liberation Sans" stroke="#000" stroke-width="0.2" transform="translate(-518.48 27.9) scale(1.1123 1)">0</text>
<text x="0" y="0" font-size="9.29" font-weight="normal" font-family="Liberation Sans" transform="translate(-508.3 31.6) scale(0.8376 1)" stroke="#000" stroke-width="0.2">10</text>
<text x="0" y="0" font-size="8.43" font-family="Liberation Sans" stroke="#000" stroke-width="0.2" transform="translate(-498.19 27.9) scale(1.1123 1)">1</text>
<text x="0" y="0" font-size="9.29" font-weight="normal" font-family="Liberation Sans" transform="translate(-487.87 31.6) scale(0.8376 1)" stroke="#000" stroke-width="0.2">10</text>
<text x="0" y="0" font-size="8.43" font-family="Liberation Sans" stroke="#000" stroke-width="0.2" transform="translate(-477.62 27.9) scale(1.1123 1)">2</text>
<text x="0" y="0" font-size="9.29" font-weight="normal" font-family="Liberation Sans" transform="translate(-467.45 31.6) scale(0.8376 1)" stroke="#000" stroke-width="0.2">10</text>
<text x="0" y="0" font-size="8.43" font-family="Liberation Sans" stroke="#000" stroke-width="0.2" transform="translate(-457.15 27.9) scale(1.1123 1)">3</text>
<text x="0" y="0" font-size="9.29" font-weight="normal" font-family="Liberation Sans" transform="translate(-447.02 31.6) scale(0.8376 1)" stroke="#000" stroke-width="0.2">10</text>
<text x="0" y="0" font-size="8.43" font-family="Liberation Sans" stroke="#000" stroke-width="0.2" transform="translate(-436.73 27.9) scale(1.1123 1)">4</text>
</g>
<text x="0" y="0" font-size="19.79" font-weight="normal" font-family="Liberation Sans" transform="translate(46.12 427.23) scale(1.0757 1)" stroke="#000" stroke-width="0.15">control</text>
<line x1="157.7" y1="442.4" x2="157.7" y2="474.6" stroke="#888" stroke-width="0.8" />
<line x1="141.2" y1="458.2" x2="173.5" y2="458.2" stroke="#aaa" stroke-width="0.8" />
<text x="0" y="0" font-size="14.75" font-weight="normal" font-family="Liberation Sans" transform="translate(146.34 455.49) scale(0.9106 1)" stroke="#000" stroke-width="0.22">7</text>
<text x="0" y="0" font-size="13.26" font-weight="normal" font-family="Liberation Sans" transform="translate(137.68 471.89) scale(1.1038 1)" stroke="#000" stroke-width="0.22">92</text>
<text x="0" y="0" font-size="14.54" font-weight="normal" font-family="Liberation Sans" transform="translate(159.15 455.49) scale(0.9700 1)" stroke="#000" stroke-width="0.22">0.8</text>
<text x="0" y="0" font-size="13.26" font-weight="normal" font-family="Liberation Sans" transform="translate(159.16 471.89) scale(1.0446 1)" stroke="#000" stroke-width="0.22">0.4</text>
<ellipse cx="258.5" cy="503" rx="7.5" ry="7.5" fill="#000" transform="rotate(0 258.5 503)"/>
<path d="M260 506h1v1h-1zM256 502h1v1h-1zM256 500h1v1h-1zM258 509h1v1h-1zM250 501h1v1h-1zM266 505h1v1h-1zM259 507h1v1h-1zM253 497h1v1h-1zM250 495h1v1h-1zM259 508h1v1h-1zM256 499h1v1h-1zM260 506h1v1h-1zM259 493h1v1h-1zM255 489h1v1h-1zM259 498h1v1h-1zM255 511h1v1h-1zM264 506h1v1h-1zM259 504h1v1h-1zM255 503h1v1h-1zM267 498h1v1h-1zM255 504h1v1h-1zM262 507h1v1h-1zM253 502h1v1h-1zM257 496h1v1h-1zM258 500h1v1h-1zM262 505h1v1h-1zM254 503h1v1h-1zM256 500h1v1h-1zM256 509h1v1h-1zM256 494h1v1h-1zM254 507h1v1h-1zM268 497h1v1h-1zM256 501h1v1h-1zM251 505h1v1h-1zM258 504h1v1h-1zM269 502h1v1h-1zM262 507h1v1h-1zM255 500h1v1h-1zM266 507h1v1h-1zM259 497h1v1h-1zM262 506h1v1h-1zM269 511h1v1h-1zM262 504h1v1h-1zM258 500h1v1h-1zM260 504h1v1h-1zM261 509h1v1h-1zM260 500h1v1h-1zM262 511h1v1h-1zM254 505h1v1h-1zM261 506h1v1h-1zM260 503h1v1h-1zM258 512h1v1h-1zM266 496h1v1h-1zM246 505h1v1h-1zM255 500h1v1h-1zM250 505h1v1h-1zM258 500h1v1h-1zM262 516h1v1h-1zM265 509h1v1h-1zM256 507h1v1h-1zM258 509h1v1h-1zM261 503h1v1h-1zM261 499h1v1h-1zM262 511h1v1h-1zM256 506h1v1h-1zM250 508h1v1h-1zM262 498h1v1h-1zM266 504h1v1h-1zM250 496h1v1h-1zM262 502h1v1h-1zM263 495h1v1h-1zM258 508h1v1h-1zM255 507h1v1h-1zM256 505h1v1h-1zM260 515h1v1h-1zM252 507h1v1h-1zM264 497h1v1h-1zM258 515h1v1h-1zM263 487h1v1h-1zM257 494h1v1h-1zM259 499h1v1h-1zM255 499h1v1h-1zM259 501h1v1h-1zM254 502h1v1h-1zM260 498h1v1h-1zM263 494h1v1h-1zM260 501h1v1h-1zM266 500h1v1h-1zM255 496h1v1h-1zM268 506h1v1h-1zM253 501h1v1h-1zM253 511h1v1h-1zM260 492h1v1h-1zM259 508h1v1h-1zM258 506h1v1h-1zM257 504h1v1h-1zM259 499h1v1h-1zM260 504h1v1h-1zM258 499h1v1h-1zM253 504h1v1h-1zM262 490h1v1h-1zM255 510h1v1h-1zM262 499h1v1h-1zM265 498h1v1h-1zM254 513h1v1h-1zM256 502h1v1h-1zM250 498h1v1h-1zM252 502h1v1h-1zM249 509h1v1h-1zM256 500h1v1h-1zM255 507h1v1h-1zM265 501h1v1h-1zM266 512h1v1h-1zM265 505h1v1h-1zM251 507h1v1h-1zM256 504h1v1h-1zM249 501h1v1h-1zM259 498h1v1h-1zM259 512h1v1h-1zM259 499h1v1h-1zM270 491h1v1h-1zM254 505h1v1h-1zM255 491h1v1h-1zM259 507h1v1h-1zM254 511h1v1h-1zM260 509h1v1h-1zM251 503h1v1h-1zM266 514h1v1h-1zM264 503h1v1h-1zM259 500h1v1h-1zM263 499h1v1h-1zM259 492h1v1h-1zM251 513h1v1h-1zM258 504h1v1h-1zM247 503h1v1h-1zM268 495h1v1h-1zM246 502h1v1h-1zM255 502h1v1h-1zM252 496h1v1h-1zM252 506h1v1h-1zM258 507h1v1h-1zM253 506h1v1h-1zM256 503h1v1h-1zM263 503h1v1h-1zM256 494h1v1h-1zM258 507h1v1h-1zM255 503h1v1h-1zM249 496h1v1h-1zM260 510h1v1h-1zM256 494h1v1h-1zM256 495h1v1h-1zM257 513h1v1h-1zM259 502h1v1h-1zM263 501h1v1h-1zM260 504h1v1h-1zM260 495h1v1h-1zM261 508h1v1h-1zM247 488h1v1h-1zM254 511h1v1h-1zM258 507h1v1h-1zM261 508h1v1h-1zM255 500h1v1h-1zM260 506h1v1h-1zM261 505h1v1h-1zM256 509h1v1h-1zM260 509h1v1h-1zM246 508h1v1h-1zM246 504h1v1h-1zM255 504h1v1h-1zM256 501h1v1h-1zM259 505h1v1h-1zM254 489h1v1h-1zM254 506h1v1h-1zM254 505h1v1h-1zM256 498h1v1h-1zM264 512h1v1h-1zM257 503h1v1h-1zM263 496h1v1h-1zM254 509h1v1h-1zM262 500h1v1h-1zM254 505h1v1h-1zM251 500h1v1h-1zM257 490h1v1h-1zM261 507h1v1h-1zM263 495h1v1h-1zM252 499h1v1h-1zM252 514h1v1h-1zM253 501h1v1h-1zM259 505h1v1h-1zM265 497h1v1h-1zM262 504h1v1h-1zM252 504h1v1h-1zM251 512h1v1h-1zM254 508h1v1h-1zM264 500h1v1h-1zM254 504h1v1h-1zM253 508h1v1h-1zM259 499h1v1h-1zM255 507h1v1h-1zM251 512h1v1h-1zM254 502h1v1h-1zM253 512h1v1h-1zM262 510h1v1h-1zM261 503h1v1h-1zM266 507h1v1h-1zM260 506h1v1h-1zM262 505h1v1h-1zM257 494h1v1h-1zM268 496h1v1h-1zM247 499h1v1h-1zM268 510h1v1h-1zM255 504h1v1h-1zM258 492h1v1h-1zM256 505h1v1h-1zM264 496h1v1h-1zM247 494h1v1h-1zM260 503h1v1h-1zM259 504h1v1h-1zM256 496h1v1h-1zM260 505h1v1h-1zM261 510h1v1h-1zM252 490h1v1h-1zM249 515h1v1h-1zM253 505h1v1h-1zM258 507h1v1h-1zM274 500h1v1h-1zM257 500h1v1h-1zM259 506h1v1h-1zM253 510h1v1h-1zM264 505h1v1h-1zM257 502h1v1h-1zM250 507h1v1h-1zM253 500h1v1h-1zM263 498h1v1h-1zM255 508h1v1h-1zM267 499h1v1h-1zM264 499h1v1h-1zM260 506h1v1h-1zM252 509h1v1h-1zM267 503h1v1h-1zM259 497h1v1h-1zM267 503h1v1h-1zM252 507h1v1h-1zM251 499h1v1h-1zM247 511h1v1h-1zM269 500h1v1h-1zM255 500h1v1h-1zM255 506h1v1h-1zM265 497h1v1h-1zM260 493h1v1h-1zM266 503h1v1h-1zM254 511h1v1h-1zM257 511h1v1h-1zM263 512h1v1h-1zM254 503h1v1h-1zM260 502h1v1h-1zM266 499h1v1h-1zM263 510h1v1h-1zM248 498h1v1h-1zM253 500h1v1h-1zM260 502h1v1h-1zM258 500h1v1h-1zM258 506h1v1h-1zM262 499h1v1h-1zM257 499h1v1h-1zM257 495h1v1h-1zM263 507h1v1h-1zM257 499h1v1h-1zM256 499h1v1h-1zM250 512h1v1h-1zM274 496h1v1h-1zM252 506h1v1h-1zM261 494h1v1h-1zM248 506h1v1h-1zM248 511h1v1h-1zM256 503h1v1h-1zM258 500h1v1h-1zM257 501h1v1h-1zM264 502h1v1h-1zM258 500h1v1h-1zM255 499h1v1h-1zM258 513h1v1h-1zM264 504h1v1h-1zM266 509h1v1h-1zM259 502h1v1h-1zM253 504h1v1h-1zM256 494h1v1h-1zM252 514h1v1h-1zM259 506h1v1h-1zM259 500h1v1h-1zM260 509h1v1h-1zM256 506h1v1h-1zM263 500h1v1h-1zM259 499h1v1h-1zM261 501h1v1h-1zM264 499h1v1h-1zM266 501h1v1h-1zM254 498h1v1h-1zM261 498h1v1h-1zM267 510h1v1h-1zM261 495h1v1h-1zM258 499h1v1h-1zM249 505h1v1h-1zM269 500h1v1h-1zM262 510h1v1h-1zM253 501h1v1h-1zM259 506h1v1h-1zM252 504h1v1h-1zM257 508h1v1h-1zM250 500h1v1h-1zM255 501h1v1h-1zM262 500h1v1h-1zM272 499h1v1h-1zM262 509h1v1h-1zM263 502h1v1h-1zM254 502h1v1h-1zM261 504h1v1h-1zM261 506h1v1h-1zM254 498h1v1h-1zM265 500h1v1h-1zM250 513h1v1h-1zM254 498h1v1h-1zM263 497h1v1h-1zM254 509h1v1h-1zM254 517h1v1h-1zM258 518h1v1h-1zM259 503h1v1h-1zM255 502h1v1h-1zM255 503h1v1h-1zM262 496h1v1h-1zM253 491h1v1h-1zM266 503h1v1h-1zM258 503h1v1h-1zM263 505h1v1h-1zM262 502h1v1h-1zM257 503h1v1h-1zM249 509h1v1h-1zM250 498h1v1h-1zM261 503h1v1h-1zM262 512h1v1h-1zM267 511h1v1h-1zM257 514h1v1h-1zM254 503h1v1h-1zM263 502h1v1h-1zM257 501h1v1h-1zM265 489h1v1h-1zM264 509h1v1h-1zM258 506h1v1h-1zM253 509h1v1h-1zM273 498h1v1h-1zM265 503h1v1h-1zM256 500h1v1h-1zM257 496h1v1h-1zM251 512h1v1h-1zM258 506h1v1h-1zM260 506h1v1h-1zM250 498h1v1h-1zM261 508h1v1h-1zM252 500h1v1h-1zM253 507h1v1h-1zM260 503h1v1h-1zM255 505h1v1h-1zM258 499h1v1h-1zM260 499h1v1h-1zM263 506h1v1h-1zM255 506h1v1h-1zM258 499h1v1h-1zM253 494h1v1h-1zM252 505h1v1h-1zM264 500h1v1h-1zM259 505h1v1h-1zM262 505h1v1h-1zM264 507h1v1h-1zM254 505h1v1h-1zM246 502h1v1h-1zM258 506h1v1h-1zM256 508h1v1h-1zM265 498h1v1h-1zM255 504h1v1h-1zM260 504h1v1h-1zM262 496h1v1h-1zM262 509h1v1h-1zM264 505h1v1h-1zM257 505h1v1h-1zM258 494h1v1h-1zM255 503h1v1h-1zM255 498h1v1h-1zM257 501h1v1h-1zM258 503h1v1h-1zM259 508h1v1h-1zM259 505h1v1h-1zM252 487h1v1h-1zM256 507h1v1h-1zM256 500h1v1h-1zM252 508h1v1h-1zM255 504h1v1h-1zM264 506h1v1h-1zM269 502h1v1h-1zM263 507h1v1h-1zM255 503h1v1h-1zM255 497h1v1h-1zM259 499h1v1h-1zM266 499h1v1h-1zM255 504h1v1h-1zM255 503h1v1h-1zM255 495h1v1h-1zM246 496h1v1h-1zM266 505h1v1h-1zM259 500h1v1h-1zM257 505h1v1h-1zM251 499h1v1h-1zM254 510h1v1h-1zM253 509h1v1h-1zM256 518h1v1h-1zM258 503h1v1h-1zM265 508h1v1h-1zM263 497h1v1h-1zM264 512h1v1h-1zM257 500h1v1h-1zM253 509h1v1h-1zM259 503h1v1h-1zM252 512h1v1h-1zM262 503h1v1h-1zM265 498h1v1h-1zM262 498h1v1h-1zM265 501h1v1h-1zM264 501h1v1h-1zM260 509h1v1h-1zM253 504h1v1h-1zM254 508h1v1h-1zM255 501h1v1h-1zM257 509h1v1h-1zM253 503h1v1h-1zM256 500h1v1h-1zM254 502h1v1h-1zM259 494h1v1h-1zM259 496h1v1h-1zM258 516h1v1h-1zM253 503h1v1h-1zM257 508h1v1h-1zM256 493h1v1h-1zM250 504h1v1h-1zM259 509h1v1h-1zM255 507h1v1h-1zM253 510h1v1h-1zM258 499h1v1h-1zM259 513h1v1h-1zM254 496h1v1h-1zM253 497h1v1h-1zM258 505h1v1h-1zM257 504h1v1h-1zM264 501h1v1h-1zM252 490h1v1h-1zM259 499h1v1h-1zM257 505h1v1h-1zM260 494h1v1h-1zM253 503h1v1h-1zM257 509h1v1h-1zM255 492h1v1h-1zM264 494h1v1h-1zM253 505h1v1h-1zM253 517h1v1h-1zM259 506h1v1h-1zM256 515h1v1h-1zM261 499h1v1h-1zM264 494h1v1h-1zM255 505h1v1h-1zM259 498h1v1h-1zM266 511h1v1h-1zM253 505h1v1h-1zM255 501h1v1h-1zM263 504h1v1h-1zM257 504h1v1h-1zM252 510h1v1h-1zM254 510h1v1h-1zM256 500h1v1h-1zM265 504h1v1h-1zM255 500h1v1h-1zM261 513h1v1h-1zM261 501h1v1h-1zM252 499h1v1h-1zM257 504h1v1h-1zM255 510h1v1h-1zM253 499h1v1h-1zM260 506h1v1h-1zM256 508h1v1h-1zM251 512h1v1h-1zM269 514h1v1h-1zM259 514h1v1h-1zM258 510h1v1h-1zM257 504h1v1h-1zM261 493h1v1h-1zM257 512h1v1h-1zM243 505h1v1h-1zM263 505h1v1h-1zM259 511h1v1h-1zM260 493h1v1h-1zM253 501h1v1h-1zM259 501h1v1h-1zM257 512h1v1h-1zM243 509h1v1h-1zM263 506h1v1h-1zM258 503h1v1h-1zM260 504h1v1h-1zM254 507h1v1h-1zM254 503h1v1h-1zM256 497h1v1h-1zM261 503h1v1h-1zM252 503h1v1h-1zM251 511h1v1h-1zM261 514h1v1h-1zM255 507h1v1h-1zM253 498h1v1h-1zM258 505h1v1h-1zM263 502h1v1h-1zM264 508h1v1h-1zM254 502h1v1h-1zM253 512h1v1h-1zM255 508h1v1h-1zM263 502h1v1h-1zM256 505h1v1h-1zM254 496h1v1h-1zM253 505h1v1h-1zM259 513h1v1h-1zM249 506h1v1h-1zM252 509h1v1h-1zM261 504h1v1h-1zM265 501h1v1h-1zM255 497h1v1h-1zM255 504h1v1h-1zM261 510h1v1h-1zM257 499h1v1h-1zM256 501h1v1h-1zM256 501h1v1h-1zM254 503h1v1h-1zM255 502h1v1h-1zM251 504h1v1h-1zM261 507h1v1h-1zM255 497h1v1h-1zM252 497h1v1h-1zM255 501h1v1h-1zM249 507h1v1h-1zM250 499h1v1h-1zM254 508h1v1h-1zM267 501h1v1h-1zM257 501h1v1h-1zM257 502h1v1h-1zM270 497h1v1h-1zM257 499h1v1h-1zM260 500h1v1h-1zM261 497h1v1h-1zM268 504h1v1h-1zM249 507h1v1h-1zM256 497h1v1h-1zM260 500h1v1h-1zM262 500h1v1h-1zM262 504h1v1h-1zM260 504h1v1h-1zM256 501h1v1h-1zM260 507h1v1h-1zM256 515h1v1h-1zM266 497h1v1h-1zM263 503h1v1h-1zM259 499h1v1h-1zM266 499h1v1h-1zM258 499h1v1h-1zM268 510h1v1h-1zM251 501h1v1h-1zM260 501h1v1h-1zM256 497h1v1h-1zM259 497h1v1h-1zM262 516h1v1h-1zM256 512h1v1h-1zM260 499h1v1h-1zM256 498h1v1h-1zM259 507h1v1h-1zM263 501h1v1h-1zM252 503h1v1h-1zM266 505h1v1h-1zM258 492h1v1h-1zM256 506h1v1h-1zM253 510h1v1h-1zM255 498h1v1h-1zM255 503h1v1h-1zM263 500h1v1h-1zM249 503h1v1h-1zM261 511h1v1h-1zM252 511h1v1h-1zM261 505h1v1h-1zM254 498h1v1h-1zM253 508h1v1h-1zM259 509h1v1h-1zM267 503h1v1h-1zM258 513h1v1h-1zM252 501h1v1h-1zM256 501h1v1h-1zM259 498h1v1h-1zM264 496h1v1h-1zM254 494h1v1h-1zM251 506h1v1h-1zM261 502h1v1h-1zM262 506h1v1h-1zM255 503h1v1h-1zM260 514h1v1h-1zM256 505h1v1h-1zM261 510h1v1h-1zM260 509h1v1h-1zM253 502h1v1h-1zM248 503h1v1h-1zM269 504h1v1h-1zM258 504h1v1h-1zM259 496h1v1h-1zM255 502h1v1h-1zM259 498h1v1h-1zM257 499h1v1h-1zM252 499h1v1h-1zM254 508h1v1h-1zM265 506h1v1h-1zM257 500h1v1h-1zM250 500h1v1h-1zM266 509h1v1h-1zM259 502h1v1h-1zM258 505h1v1h-1zM258 505h1v1h-1zM254 503h1v1h-1zM256 509h1v1h-1zM252 510h1v1h-1zM258 500h1v1h-1zM258 504h1v1h-1zM257 505h1v1h-1zM255 494h1v1h-1zM261 503h1v1h-1zM266 505h1v1h-1zM248 510h1v1h-1zM255 506h1v1h-1zM269 509h1v1h-1zM253 503h1v1h-1zM250 507h1v1h-1zM261 498h1v1h-1zM260 508h1v1h-1zM262 499h1v1h-1zM255 497h1v1h-1zM252 505h1v1h-1zM258 510h1v1h-1zM259 501h1v1h-1zM251 511h1v1h-1zM259 503h1v1h-1zM253 497h1v1h-1zM261 498h1v1h-1zM261 506h1v1h-1zM256 494h1v1h-1zM260 511h1v1h-1zM254 496h1v1h-1zM263 504h1v1h-1zM255 510h1v1h-1zM257 505h1v1h-1zM256 499h1v1h-1zM259 498h1v1h-1zM249 500h1v1h-1zM264 509h1v1h-1zM269 508h1v1h-1zM266 504h1v1h-1zM256 506h1v1h-1zM253 507h1v1h-1zM256 504h1v1h-1zM254 502h1v1h-1zM263 502h1v1h-1zM255 505h1v1h-1zM262 502h1v1h-1zM252 495h1v1h-1zM251 509h1v1h-1zM258 506h1v1h-1zM263 505h1v1h-1zM260 500h1v1h-1zM250 506h1v1h-1zM258 506h1v1h-1zM253 502h1v1h-1zM268 499h1v1h-1zM258 510h1v1h-1zM257 504h1v1h-1zM248 507h1v1h-1zM256 510h1v1h-1zM258 501h1v1h-1zM260 502h1v1h-1zM255 511h1v1h-1zM263 504h1v1h-1zM262 507h1v1h-1zM261 503h1v1h-1zM258 505h1v1h-1zM261 505h1v1h-1zM255 503h1v1h-1zM260 498h1v1h-1zM258 507h1v1h-1zM259 502h1v1h-1zM258 501h1v1h-1zM263 501h1v1h-1zM250 497h1v1h-1zM259 504h1v1h-1zM256 496h1v1h-1zM257 499h1v1h-1zM255 503h1v1h-1zM254 505h1v1h-1zM254 501h1v1h-1zM257 511h1v1h-1zM266 508h1v1h-1zM254 503h1v1h-1zM262 507h1v1h-1zM250 503h1v1h-1zM254 507h1v1h-1zM261 500h1v1h-1zM268 502h1v1h-1zM270 502h1v1h-1zM258 513h1v1h-1zM255 501h1v1h-1zM265 503h1v1h-1zM260 496h1v1h-1zM267 508h1v1h-1zM260 507h1v1h-1zM256 501h1v1h-1zM250 505h1v1h-1zM264 508h1v1h-1zM263 507h1v1h-1zM253 496h1v1h-1zM261 504h1v1h-1zM263 502h1v1h-1zM254 505h1v1h-1zM255 494h1v1h-1zM255 498h1v1h-1zM253 500h1v1h-1zM263 515h1v1h-1zM266 501h1v1h-1zM264 503h1v1h-1zM260 500h1v1h-1zM258 494h1v1h-1zM267 499h1v1h-1zM261 500h1v1h-1zM259 497h1v1h-1zM256 508h1v1h-1zM261 493h1v1h-1zM262 496h1v1h-1zM259 506h1v1h-1zM255 501h1v1h-1zM257 505h1v1h-1zM262 510h1v1h-1zM260 514h1v1h-1zM253 512h1v1h-1zM257 507h1v1h-1zM257 504h1v1h-1zM254 505h1v1h-1zM268 504h1v1h-1zM258 503h1v1h-1zM261 502h1v1h-1zM258 504h1v1h-1zM264 508h1v1h-1zM253 500h1v1h-1zM258 508h1v1h-1zM263 502h1v1h-1zM268 502h1v1h-1zM265 511h1v1h-1zM266 504h1v1h-1zM261 495h1v1h-1zM249 500h1v1h-1zM262 509h1v1h-1zM257 509h1v1h-1zM261 511h1v1h-1zM250 499h1v1h-1zM253 498h1v1h-1zM266 498h1v1h-1zM254 501h1v1h-1zM262 501h1v1h-1zM262 506h1v1h-1zM255 491h1v1h-1zM254 497h1v1h-1zM266 499h1v1h-1zM253 505h1v1h-1zM258 498h1v1h-1zM263 508h1v1h-1zM259 499h1v1h-1zM254 492h1v1h-1zM260 505h1v1h-1zM253 503h1v1h-1zM274 497h1v1h-1zM250 506h1v1h-1zM256 501h1v1h-1zM261 502h1v1h-1zM263 506h1v1h-1zM264 504h1v1h-1zM247 510h1v1h-1zM250 509h1v1h-1zM259 496h1v1h-1zM258 508h1v1h-1zM253 503h1v1h-1zM254 498h1v1h-1zM255 510h1v1h-1zM261 503h1v1h-1zM258 504h1v1h-1zM259 504h1v1h-1zM250 508h1v1h-1zM254 489h1v1h-1zM261 497h1v1h-1zM257 503h1v1h-1zM255 506h1v1h-1zM257 502h1v1h-1zM253 502h1v1h-1zM253 503h1v1h-1zM264 508h1v1h-1zM260 496h1v1h-1zM263 508h1v1h-1zM268 491h1v1h-1zM258 501h1v1h-1zM263 497h1v1h-1zM256 515h1v1h-1zM263 493h1v1h-1zM258 510h1v1h-1zM255 506h1v1h-1zM258 495h1v1h-1zM255 509h1v1h-1zM264 500h1v1h-1zM264 499h1v1h-1zM259 503h1v1h-1zM252 505h1v1h-1zM256 489h1v1h-1zM254 499h1v1h-1zM254 498h1v1h-1zM255 490h1v1h-1zM262 503h1v1h-1zM259 502h1v1h-1zM258 502h1v1h-1zM253 495h1v1h-1zM258 508h1v1h-1zM259 511h1v1h-1zM251 502h1v1h-1zM255 510h1v1h-1zM266 500h1v1h-1zM262 502h1v1h-1zM253 502h1v1h-1zM253 511h1v1h-1zM261 509h1v1h-1zM260 490h1v1h-1zM262 504h1v1h-1zM246 504h1v1h-1zM263 512h1v1h-1zM253 507h1v1h-1zM260 502h1v1h-1zM257 506h1v1h-1zM261 506h1v1h-1zM256 496h1v1h-1zM264 510h1v1h-1zM255 503h1v1h-1zM262 494h1v1h-1zM260 516h1v1h-1zM259 499h1v1h-1zM268 503h1v1h-1zM259 501h1v1h-1zM259 494h1v1h-1zM252 495h1v1h-1zM262 503h1v1h-1zM264 492h1v1h-1zM255 511h1v1h-1zM254 493h1v1h-1zM254 501h1v1h-1zM258 510h1v1h-1zM265 511h1v1h-1zM261 500h1v1h-1zM256 495h1v1h-1zM264 510h1v1h-1zM258 498h1v1h-1zM261 506h1v1h-1zM259 497h1v1h-1zM259 500h1v1h-1zM262 506h1v1h-1zM260 501h1v1h-1zM265 507h1v1h-1zM264 507h1v1h-1zM261 505h1v1h-1zM253 493h1v1h-1zM253 506h1v1h-1zM262 504h1v1h-1zM258 513h1v1h-1zM256 494h1v1h-1zM250 501h1v1h-1zM261 507h1v1h-1zM257 507h1v1h-1zM258 499h1v1h-1zM256 507h1v1h-1zM263 497h1v1h-1zM253 504h1v1h-1zM268 497h1v1h-1zM252 505h1v1h-1zM260 500h1v1h-1zM258 506h1v1h-1zM249 503h1v1h-1zM261 508h1v1h-1zM264 503h1v1h-1zM251 510h1v1h-1zM262 500h1v1h-1zM263 508h1v1h-1zM257 491h1v1h-1zM256 499h1v1h-1zM254 503h1v1h-1zM253 505h1v1h-1zM267 497h1v1h-1zM263 500h1v1h-1zM261 502h1v1h-1zM264 499h1v1h-1zM262 499h1v1h-1zM259 503h1v1h-1zM263 495h1v1h-1zM251 510h1v1h-1zM260 512h1v1h-1zM253 504h1v1h-1zM261 512h1v1h-1zM258 501h1v1h-1zM262 502h1v1h-1zM254 507h1v1h-1zM249 498h1v1h-1zM265 500h1v1h-1zM256 505h1v1h-1zM263 506h1v1h-1zM253 500h1v1h-1zM263 502h1v1h-1zM255 508h1v1h-1zM264 514h1v1h-1zM253 499h1v1h-1zM255 505h1v1h-1zM256 509h1v1h-1zM245 508h1v1h-1zM255 502h1v1h-1zM261 504h1v1h-1zM253 511h1v1h-1zM261 500h1v1h-1zM259 497h1v1h-1zM252 501h1v1h-1zM260 504h1v1h-1zM254 496h1v1h-1zM250 511h1v1h-1zM260 499h1v1h-1zM264 506h1v1h-1zM256 500h1v1h-1zM264 505h1v1h-1zM266 505h1v1h-1zM255 500h1v1h-1zM255 504h1v1h-1zM259 506h1v1h-1zM260 497h1v1h-1zM257 498h1v1h-1zM260 496h1v1h-1zM255 498h1v1h-1zM255 502h1v1h-1zM265 502h1v1h-1zM251 501h1v1h-1zM262 506h1v1h-1zM259 514h1v1h-1zM263 503h1v1h-1zM264 496h1v1h-1zM257 498h1v1h-1zM259 512h1v1h-1zM256 511h1v1h-1zM253 511h1v1h-1zM250 499h1v1h-1zM263 503h1v1h-1zM259 503h1v1h-1zM259 502h1v1h-1zM253 501h1v1h-1zM259 498h1v1h-1zM260 512h1v1h-1zM250 500h1v1h-1zM257 503h1v1h-1zM258 499h1v1h-1zM258 503h1v1h-1zM258 511h1v1h-1zM259 495h1v1h-1zM250 506h1v1h-1zM256 500h1v1h-1zM251 501h1v1h-1zM258 499h1v1h-1zM256 508h1v1h-1zM262 506h1v1h-1zM257 496h1v1h-1zM262 511h1v1h-1zM264 509h1v1h-1zM259 505h1v1h-1zM258 510h1v1h-1zM257 514h1v1h-1zM262 501h1v1h-1zM258 495h1v1h-1zM254 501h1v1h-1zM270 499h1v1h-1zM262 503h1v1h-1zM257 506h1v1h-1zM248 508h1v1h-1zM267 505h1v1h-1zM258 504h1v1h-1zM261 500h1v1h-1zM259 506h1v1h-1zM256 505h1v1h-1zM260 507h1v1h-1zM253 500h1v1h-1zM256 509h1v1h-1zM259 494h1v1h-1zM252 513h1v1h-1zM260 496h1v1h-1zM254 504h1v1h-1zM265 512h1v1h-1zM256 501h1v1h-1zM267 498h1v1h-1zM266 505h1v1h-1zM258 510h1v1h-1zM260 499h1v1h-1zM251 503h1v1h-1zM260 510h1v1h-1zM245 510h1v1h-1zM261 511h1v1h-1zM262 504h1v1h-1zM260 505h1v1h-1zM255 502h1v1h-1zM259 501h1v1h-1zM251 495h1v1h-1zM260 506h1v1h-1zM259 497h1v1h-1zM262 501h1v1h-1zM248 511h1v1h-1zM251 515h1v1h-1zM261 501h1v1h-1zM247 499h1v1h-1zM265 510h1v1h-1zM259 494h1v1h-1zM256 502h1v1h-1zM260 502h1v1h-1zM260 494h1v1h-1zM255 511h1v1h-1zM251 508h1v1h-1zM269 506h1v1h-1zM251 510h1v1h-1zM249 505h1v1h-1zM256 510h1v1h-1zM264 504h1v1h-1zM267 508h1v1h-1zM256 498h1v1h-1zM270 501h1v1h-1zM260 502h1v1h-1zM256 494h1v1h-1zM257 502h1v1h-1zM263 500h1v1h-1zM250 497h1v1h-1zM258 504h1v1h-1zM262 501h1v1h-1zM261 504h1v1h-1zM266 503h1v1h-1zM259 506h1v1h-1zM264 498h1v1h-1zM256 502h1v1h-1zM248 510h1v1h-1zM263 503h1v1h-1zM274 510h1v1h-1zM268 511h1v1h-1zM262 496h1v1h-1zM265 505h1v1h-1zM252 503h1v1h-1zM262 508h1v1h-1zM259 500h1v1h-1zM262 499h1v1h-1zM258 507h1v1h-1zM251 505h1v1h-1zM248 498h1v1h-1zM252 503h1v1h-1zM261 503h1v1h-1zM262 504h1v1h-1zM257 506h1v1h-1zM257 504h1v1h-1zM263 500h1v1h-1zM264 497h1v1h-1zM257 494h1v1h-1zM255 511h1v1h-1zM260 510h1v1h-1zM251 498h1v1h-1zM260 507h1v1h-1zM262 494h1v1h-1zM260 503h1v1h-1zM259 506h1v1h-1zM257 494h1v1h-1zM253 495h1v1h-1zM252 502h1v1h-1zM264 499h1v1h-1zM254 497h1v1h-1zM250 503h1v1h-1zM256 502h1v1h-1zM253 506h1v1h-1zM252 506h1v1h-1zM255 507h1v1h-1zM254 505h1v1h-1zM260 503h1v1h-1zM266 504h1v1h-1zM254 507h1v1h-1zM254 500h1v1h-1zM258 504h1v1h-1zM266 494h1v1h-1zM257 509h1v1h-1zM257 505h1v1h-1zM265 496h1v1h-1zM258 507h1v1h-1zM255 494h1v1h-1zM253 504h1v1h-1zM259 513h1v1h-1zM264 495h1v1h-1zM263 508h1v1h-1zM266 502h1v1h-1zM255 504h1v1h-1zM266 506h1v1h-1zM266 507h1v1h-1zM255 498h1v1h-1zM267 495h1v1h-1zM256 501h1v1h-1zM254 500h1v1h-1zM258 516h1v1h-1zM258 500h1v1h-1zM259 508h1v1h-1zM254 501h1v1h-1zM249 507h1v1h-1zM261 511h1v1h-1zM252 515h1v1h-1zM262 502h1v1h-1zM256 501h1v1h-1zM252 507h1v1h-1zM255 499h1v1h-1zM261 504h1v1h-1zM255 502h1v1h-1zM256 510h1v1h-1zM263 499h1v1h-1zM258 510h1v1h-1zM257 512h1v1h-1zM260 507h1v1h-1zM248 508h1v1h-1zM260 506h1v1h-1zM260 506h1v1h-1zM256 508h1v1h-1zM258 497h1v1h-1zM253 504h1v1h-1zM260 491h1v1h-1zM248 509h1v1h-1zM258 518h1v1h-1zM251 502h1v1h-1zM255 506h1v1h-1zM265 512h1v1h-1zM253 510h1v1h-1zM252 505h1v1h-1zM259 506h1v1h-1zM254 510h1v1h-1zM258 503h1v1h-1zM257 497h1v1h-1zM262 505h1v1h-1zM260 513h1v1h-1zM254 501h1v1h-1zM258 508h1v1h-1zM257 508h1v1h-1zM260 494h1v1h-1zM255 492h1v1h-1zM257 501h1v1h-1zM261 504h1v1h-1zM258 510h1v1h-1zM261 496h1v1h-1zM255 505h1v1h-1zM266 502h1v1h-1zM257 504h1v1h-1zM262 503h1v1h-1zM259 501h1v1h-1zM255 499h1v1h-1zM261 500h1v1h-1zM261 505h1v1h-1zM263 489h1v1h-1zM253 496h1v1h-1zM257 507h1v1h-1zM270 511h1v1h-1zM265 505h1v1h-1zM256 506h1v1h-1zM247 508h1v1h-1zM258 506h1v1h-1zM253 497h1v1h-1zM255 503h1v1h-1zM260 501h1v1h-1zM260 507h1v1h-1zM252 502h1v1h-1zM250 500h1v1h-1zM262 499h1v1h-1zM267 506h1v1h-1zM262 504h1v1h-1zM262 509h1v1h-1zM259 500h1v1h-1zM255 513h1v1h-1zM257 501h1v1h-1zM255 494h1v1h-1zM256 505h1v1h-1zM256 499h1v1h-1zM260 505h1v1h-1zM256 505h1v1h-1zM253 508h1v1h-1zM253 501h1v1h-1zM259 501h1v1h-1zM252 514h1v1h-1zM265 494h1v1h-1zM255 494h1v1h-1zM257 494h1v1h-1zM259 506h1v1h-1zM267 511h1v1h-1zM251 509h1v1h-1zM251 502h1v1h-1zM251 491h1v1h-1zM259 489h1v1h-1zM253 506h1v1h-1zM255 492h1v1h-1zM250 507h1v1h-1zM263 513h1v1h-1zM241 506h1v1h-1zM251 508h1v1h-1zM242 502h1v1h-1zM260 498h1v1h-1zM252 496h1v1h-1zM263 493h1v1h-1zM248 500h1v1h-1zM252 517h1v1h-1zM257 497h1v1h-1zM259 505h1v1h-1zM257 502h1v1h-1zM258 495h1v1h-1zM246 500h1v1h-1zM246 507h1v1h-1zM269 511h1v1h-1zM258 505h1v1h-1zM249 494h1v1h-1zM259 492h1v1h-1zM257 502h1v1h-1zM260 503h1v1h-1zM255 499h1v1h-1zM242 500h1v1h-1zM260 510h1v1h-1zM265 496h1v1h-1zM248 507h1v1h-1zM251 520h1v1h-1zM257 492h1v1h-1zM250 513h1v1h-1zM241 504h1v1h-1zM244 513h1v1h-1zM251 495h1v1h-1zM242 498h1v1h-1zM236 499h1v1h-1zM270 503h1v1h-1zM253 495h1v1h-1zM257 499h1v1h-1zM248 512h1v1h-1zM258 496h1v1h-1zM265 502h1v1h-1zM258 504h1v1h-1zM263 507h1v1h-1zM252 507h1v1h-1zM252 503h1v1h-1zM267 495h1v1h-1zM247 500h1v1h-1zM251 511h1v1h-1zM243 518h1v1h-1zM266 499h1v1h-1zM256 500h1v1h-1zM259 507h1v1h-1zM260 508h1v1h-1zM269 501h1v1h-1zM260 501h1v1h-1zM255 504h1v1h-1zM254 505h1v1h-1zM248 501h1v1h-1zM250 495h1v1h-1zM249 499h1v1h-1zM253 492h1v1h-1zM253 495h1v1h-1zM249 504h1v1h-1zM263 504h1v1h-1zM251 500h1v1h-1zM264 491h1v1h-1zM263 492h1v1h-1zM250 503h1v1h-1zM253 514h1v1h-1zM258 502h1v1h-1zM261 503h1v1h-1zM249 510h1v1h-1zM266 511h1v1h-1zM246 516h1v1h-1zM251 508h1v1h-1zM263 519h1v1h-1zM243 496h1v1h-1zM263 506h1v1h-1zM252 483h1v1h-1zM258 501h1v1h-1zM235 521h1v1h-1zM236 499h1v1h-1zM254 504h1v1h-1zM260 501h1v1h-1zM248 500h1v1h-1zM239 495h1v1h-1zM269 498h1v1h-1zM254 515h1v1h-1zM262 503h1v1h-1zM260 501h1v1h-1zM248 509h1v1h-1zM255 513h1v1h-1zM253 500h1v1h-1zM257 501h1v1h-1zM252 496h1v1h-1zM256 505h1v1h-1zM268 502h1v1h-1zM242 506h1v1h-1zM271 499h1v1h-1zM249 501h1v1h-1zM233 500h1v1h-1zM253 492h1v1h-1zM259 497h1v1h-1zM241 498h1v1h-1zM259 516h1v1h-1zM264 504h1v1h-1zM251 501h1v1h-1zM262 499h1v1h-1zM258 509h1v1h-1zM248 498h1v1h-1zM258 503h1v1h-1zM254 499h1v1h-1zM254 515h1v1h-1zM264 491h1v1h-1zM255 503h1v1h-1zM255 493h1v1h-1zM254 504h1v1h-1zM249 505h1v1h-1zM237 492h1v1h-1zM255 505h1v1h-1zM253 499h1v1h-1zM256 510h1v1h-1zM261 502h1v1h-1zM251 510h1v1h-1zM258 509h1v1h-1zM252 497h1v1h-1zM256 498h1v1h-1zM263 508h1v1h-1zM238 507h1v1h-1zM264 510h1v1h-1zM251 497h1v1h-1zM262 509h1v1h-1zM255 495h1v1h-1zM243 504h1v1h-1zM248 498h1v1h-1zM258 510h1v1h-1zM239 498h1v1h-1zM264 502h1v1h-1zM252 507h1v1h-1zM246 494h1v1h-1zM255 513h1v1h-1zM262 502h1v1h-1zM262 500h1v1h-1zM246 491h1v1h-1zM256 509h1v1h-1zM257 502h1v1h-1zM252 510h1v1h-1zM254 493h1v1h-1zM265 498h1v1h-1zM257 503h1v1h-1zM262 504h1v1h-1zM264 504h1v1h-1zM251 499h1v1h-1zM259 497h1v1h-1zM261 501h1v1h-1zM248 497h1v1h-1zM253 515h1v1h-1zM260 503h1v1h-1zM248 516h1v1h-1zM252 502h1v1h-1zM251 512h1v1h-1zM256 499h1v1h-1zM256 496h1v1h-1zM247 501h1v1h-1zM233 511h1v1h-1zM269 495h1v1h-1zM253 492h1v1h-1zM256 504h1v1h-1zM260 493h1v1h-1zM250 498h1v1h-1zM253 518h1v1h-1zM253 502h1v1h-1zM251 508h1v1h-1zM273 510h1v1h-1zM266 495h1v1h-1zM262 503h1v1h-1zM264 510h1v1h-1zM259 491h1v1h-1zM255 499h1v1h-1zM258 503h1v1h-1zM262 491h1v1h-1zM249 502h1v1h-1zM257 500h1v1h-1zM254 503h1v1h-1zM262 502h1v1h-1zM256 490h1v1h-1zM235 492h1v1h-1zM257 487h1v1h-1zM258 502h1v1h-1zM255 497h1v1h-1zM251 508h1v1h-1zM257 502h1v1h-1zM251 504h1v1h-1zM263 502h1v1h-1zM252 494h1v1h-1zM255 496h1v1h-1zM244 508h1v1h-1zM250 489h1v1h-1zM249 515h1v1h-1zM254 493h1v1h-1zM246 507h1v1h-1zM258 504h1v1h-1zM253 506h1v1h-1zM266 506h1v1h-1zM253 493h1v1h-1zM258 513h1v1h-1zM259 494h1v1h-1zM256 511h1v1h-1zM250 506h1v1h-1zM263 514h1v1h-1zM243 490h1v1h-1zM257 507h1v1h-1zM252 502h1v1h-1zM251 511h1v1h-1zM238 504h1v1h-1zM245 498h1v1h-1zM243 496h1v1h-1zM254 503h1v1h-1zM268 501h1v1h-1zM257 505h1v1h-1zM256 513h1v1h-1zM256 504h1v1h-1zM254 503h1v1h-1zM254 509h1v1h-1zM255 503h1v1h-1zM254 508h1v1h-1zM251 509h1v1h-1zM250 507h1v1h-1zM269 504h1v1h-1zM254 494h1v1h-1zM260 503h1v1h-1zM261 498h1v1h-1zM258 515h1v1h-1zM257 500h1v1h-1zM245 502h1v1h-1zM259 507h1v1h-1zM246 495h1v1h-1zM247 495h1v1h-1zM252 504h1v1h-1zM269 504h1v1h-1zM265 491h1v1h-1zM266 508h1v1h-1zM258 508h1v1h-1zM259 516h1v1h-1zM260 490h1v1h-1zM242 514h1v1h-1zM254 512h1v1h-1zM252 498h1v1h-1zM252 505h1v1h-1zM256 498h1v1h-1zM258 507h1v1h-1zM248 495h1v1h-1zM240 500h1v1h-1zM255 498h1v1h-1zM250 502h1v1h-1zM255 506h1v1h-1zM261 506h1v1h-1zM263 496h1v1h-1zM259 505h1v1h-1zM247 498h1v1h-1zM258 503h1v1h-1zM245 499h1v1h-1zM266 508h1v1h-1zM255 512h1v1h-1zM248 501h1v1h-1zM262 500h1v1h-1zM246 507h1v1h-1zM266 485h1v1h-1zM256 494h1v1h-1zM252 493h1v1h-1zM274 498h1v1h-1zM255 498h1v1h-1zM247 499h1v1h-1zM256 515h1v1h-1zM257 513h1v1h-1zM247 503h1v1h-1zM251 492h1v1h-1zM282 501h1v1h-1zM256 497h1v1h-1zM250 495h1v1h-1zM262 500h1v1h-1zM253 504h1v1h-1zM245 504h1v1h-1zM253 506h1v1h-1zM252 503h1v1h-1zM258 509h1v1h-1zM249 509h1v1h-1zM247 501h1v1h-1zM255 504h1v1h-1zM236 496h1v1h-1zM253 509h1v1h-1zM249 513h1v1h-1zM241 503h1v1h-1zM258 503h1v1h-1zM256 509h1v1h-1zM249 507h1v1h-1zM262 501h1v1h-1zM237 494h1v1h-1zM248 495h1v1h-1zM258 497h1v1h-1zM273 506h1v1h-1zM245 501h1v1h-1zM266 507h1v1h-1zM247 510h1v1h-1zM251 518h1v1h-1zM250 507h1v1h-1zM259 499h1v1h-1zM253 511h1v1h-1zM258 502h1v1h-1zM258 515h1v1h-1zM261 506h1v1h-1zM257 492h1v1h-1zM256 499h1v1h-1zM260 498h1v1h-1zM258 495h1v1h-1zM261 497h1v1h-1zM254 506h1v1h-1zM252 503h1v1h-1zM262 515h1v1h-1zM241 496h1v1h-1zM260 509h1v1h-1zM251 503h1v1h-1zM253 518h1v1h-1zM253 494h1v1h-1zM243 494h1v1h-1zM264 500h1v1h-1zM269 507h1v1h-1zM257 507h1v1h-1zM260 509h1v1h-1zM247 499h1v1h-1zM250 503h1v1h-1zM253 494h1v1h-1zM249 515h1v1h-1zM270 497h1v1h-1zM257 502h1v1h-1zM248 507h1v1h-1zM254 514h1v1h-1zM258 500h1v1h-1zM235 502h1v1h-1zM261 498h1v1h-1zM261 507h1v1h-1zM241 501h1v1h-1zM257 508h1v1h-1zM256 502h1v1h-1zM252 500h1v1h-1zM255 495h1v1h-1zM259 500h1v1h-1zM258 499h1v1h-1zM258 503h1v1h-1zM261 506h1v1h-1zM261 501h1v1h-1zM254 501h1v1h-1zM245 502h1v1h-1zM263 508h1v1h-1zM248 505h1v1h-1zM260 493h1v1h-1zM257 505h1v1h-1zM260 504h1v1h-1zM242 489h1v1h-1zM269 500h1v1h-1zM264 511h1v1h-1zM255 495h1v1h-1zM265 502h1v1h-1zM258 506h1v1h-1zM262 509h1v1h-1zM244 493h1v1h-1zM256 503h1v1h-1zM260 502h1v1h-1zM253 516h1v1h-1zM265 510h1v1h-1zM262 497h1v1h-1zM254 502h1v1h-1zM246 497h1v1h-1zM256 494h1v1h-1zM259 506h1v1h-1zM253 500h1v1h-1zM259 506h1v1h-1zM257 494h1v1h-1zM242 517h1v1h-1zM250 500h1v1h-1zM241 497h1v1h-1zM249 508h1v1h-1zM235 493h1v1h-1zM251 499h1v1h-1zM249 499h1v1h-1zM243 504h1v1h-1zM263 504h1v1h-1zM251 511h1v1h-1zM258 495h1v1h-1zM250 498h1v1h-1zM254 511h1v1h-1zM249 501h1v1h-1zM255 494h1v1h-1zM251 507h1v1h-1zM263 490h1v1h-1zM260 500h1v1h-1zM264 507h1v1h-1zM269 505h1v1h-1zM252 497h1v1h-1zM244 506h1v1h-1zM258 508h1v1h-1zM257 492h1v1h-1zM251 501h1v1h-1zM256 508h1v1h-1zM265 504h1v1h-1zM239 495h1v1h-1zM239 497h1v1h-1zM246 504h1v1h-1zM253 510h1v1h-1zM262 499h1v1h-1zM262 503h1v1h-1zM258 512h1v1h-1zM246 502h1v1h-1zM266 497h1v1h-1zM256 503h1v1h-1zM251 494h1v1h-1zM249 496h1v1h-1zM263 504h1v1h-1zM260 494h1v1h-1zM258 503h1v1h-1zM262 498h1v1h-1zM261 512h1v1h-1zM268 496h1v1h-1zM246 492h1v1h-1zM262 507h1v1h-1zM257 497h1v1h-1zM264 514h1v1h-1zM254 502h1v1h-1zM263 506h1v1h-1zM264 500h1v1h-1zM257 500h1v1h-1zM250 500h1v1h-1zM252 506h1v1h-1zM252 503h1v1h-1zM249 494h1v1h-1zM265 496h1v1h-1zM268 509h1v1h-1zM238 498h1v1h-1zM251 503h1v1h-1zM253 498h1v1h-1zM263 478h1v1h-1zM261 476h1v1h-1zM251 483h1v1h-1zM253 475h1v1h-1zM254 482h1v1h-1zM254 476h1v1h-1zM259 482h1v1h-1zM254 477h1v1h-1zM253 488h1v1h-1zM254 484h1v1h-1zM254 480h1v1h-1zM242 479h1v1h-1zM255 477h1v1h-1zM252 474h1v1h-1zM245 479h1v1h-1zM251 478h1v1h-1zM254 477h1v1h-1zM250 485h1v1h-1zM248 477h1v1h-1zM253 475h1v1h-1zM249 481h1v1h-1zM261 479h1v1h-1zM276 481h1v1h-1zM263 476h1v1h-1zM262 484h1v1h-1zM253 485h1v1h-1zM250 475h1v1h-1zM255 476h1v1h-1zM259 475h1v1h-1zM256 472h1v1h-1zM255 482h1v1h-1zM253 480h1v1h-1zM262 475h1v1h-1zM247 479h1v1h-1zM257 478h1v1h-1zM249 483h1v1h-1zM248 478h1v1h-1zM255 481h1v1h-1zM252 476h1v1h-1zM268 476h1v1h-1zM260 478h1v1h-1zM252 478h1v1h-1zM253 480h1v1h-1zM239 478h1v1h-1zM255 475h1v1h-1zM253 486h1v1h-1zM267 481h1v1h-1zM257 477h1v1h-1zM264 477h1v1h-1zM250 481h1v1h-1zM249 476h1v1h-1zM264 473h1v1h-1zM255 479h1v1h-1zM257 474h1v1h-1zM254 477h1v1h-1zM267 482h1v1h-1zM250 481h1v1h-1zM259 478h1v1h-1zM253 478h1v1h-1zM245 476h1v1h-1zM261 483h1v1h-1zM267 477h1v1h-1zM259 470h1v1h-1zM253 474h1v1h-1zM260 473h1v1h-1zM248 475h1v1h-1zM258 481h1v1h-1zM249 485h1v1h-1zM256 476h1v1h-1zM257 478h1v1h-1zM260 480h1v1h-1zM269 482h1v1h-1zM251 481h1v1h-1zM260 475h1v1h-1zM250 476h1v1h-1zM239 481h1v1h-1zM254 483h1v1h-1zM251 479h1v1h-1zM260 482h1v1h-1zM257 475h1v1h-1zM269 481h1v1h-1zM264 484h1v1h-1zM264 480h1v1h-1zM258 481h1v1h-1zM245 481h1v1h-1zM249 480h1v1h-1zM249 481h1v1h-1zM252 487h1v1h-1zM256 480h1v1h-1zM249 478h1v1h-1zM255 478h1v1h-1zM252 476h1v1h-1zM260 477h1v1h-1zM250 480h1v1h-1zM250 478h1v1h-1zM252 475h1v1h-1zM254 476h1v1h-1zM247 480h1v1h-1zM253 474h1v1h-1zM253 479h1v1h-1zM258 480h1v1h-1zM257 481h1v1h-1zM252 476h1v1h-1zM259 477h1v1h-1zM255 481h1v1h-1zM261 483h1v1h-1zM251 477h1v1h-1zM259 474h1v1h-1zM247 481h1v1h-1zM251 475h1v1h-1zM261 491h1v1h-1zM262 487h1v1h-1zM255 487h1v1h-1zM258 481h1v1h-1zM252 491h1v1h-1zM252 488h1v1h-1zM257 491h1v1h-1zM254 484h1v1h-1zM271 486h1v1h-1zM267 482h1v1h-1zM257 488h1v1h-1zM268 496h1v1h-1zM262 485h1v1h-1zM252 486h1v1h-1zM254 490h1v1h-1zM252 488h1v1h-1zM265 494h1v1h-1zM246 485h1v1h-1zM254 494h1v1h-1zM255 496h1v1h-1zM259 494h1v1h-1zM251 487h1v1h-1zM263 491h1v1h-1zM246 487h1v1h-1zM258 491h1v1h-1zM253 495h1v1h-1zM257 494h1v1h-1zM259 489h1v1h-1zM255 484h1v1h-1zM262 491h1v1h-1zM262 487h1v1h-1zM251 487h1v1h-1zM255 488h1v1h-1zM262 485h1v1h-1zM254 491h1v1h-1zM262 497h1v1h-1zM260 485h1v1h-1zM250 485h1v1h-1zM257 489h1v1h-1zM256 486h1v1h-1zM255 488h1v1h-1zM260 489h1v1h-1zM252 484h1v1h-1zM265 488h1v1h-1zM256 488h1v1h-1zM263 487h1v1h-1zM258 488h1v1h-1zM260 485h1v1h-1zM258 492h1v1h-1zM264 491h1v1h-1zM258 495h1v1h-1zM261 494h1v1h-1zM250 484h1v1h-1zM261 487h1v1h-1zM254 485h1v1h-1zM265 484h1v1h-1zM257 483h1v1h-1zM256 497h1v1h-1zM271 487h1v1h-1zM251 495h1v1h-1zM252 482h1v1h-1zM259 484h1v1h-1zM248 493h1v1h-1zM252 484h1v1h-1zM258 488h1v1h-1zM263 489h1v1h-1zM266 493h1v1h-1zM267 493h1v1h-1zM257 491h1v1h-1zM257 482h1v1h-1zM250 491h1v1h-1zM243 485h1v1h-1zM249 488h1v1h-1zM250 489h1v1h-1zM255 487h1v1h-1zM252 480h1v1h-1zM257 484h1v1h-1zM255 490h1v1h-1zM263 491h1v1h-1zM265 483h1v1h-1zM261 495h1v1h-1zM259 484h1v1h-1zM259 487h1v1h-1zM253 493h1v1h-1zM256 484h1v1h-1zM253 496h1v1h-1zM252 491h1v1h-1zM258 493h1v1h-1zM255 485h1v1h-1zM253 485h1v1h-1zM272 489h1v1h-1zM255 493h1v1h-1zM260 488h1v1h-1zM260 490h1v1h-1zM263 495h1v1h-1zM255 488h1v1h-1zM256 493h1v1h-1zM259 492h1v1h-1zM262 486h1v1h-1zM257 494h1v1h-1zM279 480h1v1h-1zM272 476h1v1h-1zM269 477h1v1h-1zM273 473h1v1h-1zM280 475h1v1h-1zM275 480h1v1h-1zM271 471h1v1h-1zM279 479h1v1h-1zM272 481h1v1h-1zM278 474h1v1h-1zM273 472h1v1h-1zM272 482h1v1h-1zM269 480h1v1h-1zM265 477h1v1h-1zM279 483h1v1h-1zM276 480h1v1h-1zM283 469h1v1h-1zM264 484h1v1h-1zM287 480h1v1h-1zM274 478h1v1h-1zM274 475h1v1h-1zM274 477h1v1h-1zM277 480h1v1h-1zM279 479h1v1h-1zM268 482h1v1h-1zM259 478h1v1h-1zM275 476h1v1h-1zM284 474h1v1h-1zM267 476h1v1h-1zM276 480h1v1h-1zM274 480h1v1h-1zM270 475h1v1h-1zM274 473h1v1h-1zM275 476h1v1h-1zM277 474h1v1h-1zM271 476h1v1h-1zM272 474h1v1h-1zM272 473h1v1h-1zM276 480h1v1h-1zM274 477h1v1h-1zM269 474h1v1h-1zM272 474h1v1h-1zM267 478h1v1h-1zM273 476h1v1h-1zM269 477h1v1h-1zM270 476h1v1h-1zM275 480h1v1h-1zM278 475h1v1h-1zM280 474h1v1h-1zM273 482h1v1h-1zM286 478h1v1h-1zM272 476h1v1h-1zM267 477h1v1h-1zM271 475h1v1h-1zM280 475h1v1h-1zM283 480h1v1h-1zM277 476h1v1h-1zM271 471h1v1h-1zM275 477h1v1h-1zM276 475h1v1h-1zM276 472h1v1h-1zM262 479h1v1h-1zM279 467h1v1h-1zM280 476h1v1h-1zM273 472h1v1h-1zM268 480h1v1h-1zM270 477h1v1h-1zM273 484h1v1h-1zM278 473h1v1h-1zM271 474h1v1h-1zM304 461h1v1h-1zM305 467h1v1h-1zM305 465h1v1h-1zM305 467h1v1h-1zM305 481h1v1h-1zM306 469h1v1h-1zM305 451h1v1h-1zM305 485h1v1h-1zM232 508h1v1h-1zM246 500h1v1h-1zM236 499h1v1h-1zM243 503h1v1h-1zM248 511h1v1h-1zM238 520h1v1h-1zM236 498h1v1h-1zM236 497h1v1h-1zM235 502h1v1h-1zM244 492h1v1h-1zM228 497h1v1h-1zM236 506h1v1h-1zM232 513h1v1h-1zM234 501h1v1h-1zM238 510h1v1h-1zM240 503h1v1h-1zM234 504h1v1h-1zM240 500h1v1h-1zM237 490h1v1h-1zM234 511h1v1h-1zM247 502h1v1h-1zM223 515h1v1h-1zM236 520h1v1h-1zM235 509h1v1h-1zM233 512h1v1h-1zM245 495h1v1h-1zM236 494h1v1h-1zM239 500h1v1h-1zM227 495h1v1h-1zM239 492h1v1h-1zM245 506h1v1h-1zM236 512h1v1h-1zM231 507h1v1h-1zM228 500h1v1h-1zM242 499h1v1h-1zM237 507h1v1h-1zM248 511h1v1h-1zM241 501h1v1h-1zM228 514h1v1h-1zM250 488h1v1h-1zM243 502h1v1h-1zM242 505h1v1h-1zM236 502h1v1h-1zM237 510h1v1h-1zM236 499h1v1h-1zM242 507h1v1h-1zM241 504h1v1h-1zM248 510h1v1h-1zM239 501h1v1h-1zM242 490h1v1h-1zM234 498h1v1h-1zM239 500h1v1h-1zM254 508h1v1h-1zM240 518h1v1h-1zM238 500h1v1h-1zM246 508h1v1h-1zM244 511h1v1h-1zM235 498h1v1h-1zM233 503h1v1h-1zM244 495h1v1h-1zM234 493h1v1h-1zM251 508h1v1h-1zM239 494h1v1h-1zM231 498h1v1h-1zM238 494h1v1h-1zM236 511h1v1h-1zM238 503h1v1h-1zM223 501h1v1h-1zM237 498h1v1h-1zM228 502h1v1h-1zM231 499h1v1h-1zM227 502h1v1h-1zM244 497h1v1h-1zM240 492h1v1h-1zM241 506h1v1h-1zM235 509h1v1h-1zM232 503h1v1h-1zM249 502h1v1h-1zM230 510h1v1h-1zM241 501h1v1h-1zM225 490h1v1h-1zM227 513h1v1h-1zM240 497h1v1h-1zM245 512h1v1h-1zM232 506h1v1h-1zM226 505h1v1h-1zM250 493h1v1h-1zM238 498h1v1h-1zM237 503h1v1h-1zM239 509h1v1h-1zM241 510h1v1h-1zM244 510h1v1h-1zM233 505h1v1h-1zM235 497h1v1h-1zM251 504h1v1h-1zM238 488h1v1h-1zM236 508h1v1h-1zM236 499h1v1h-1zM247 500h1v1h-1zM235 502h1v1h-1zM236 510h1v1h-1zM241 502h1v1h-1zM235 501h1v1h-1zM249 500h1v1h-1zM242 492h1v1h-1zM240 507h1v1h-1zM246 505h1v1h-1zM241 505h1v1h-1zM245 516h1v1h-1zM239 497h1v1h-1zM242 502h1v1h-1zM242 508h1v1h-1zM239 500h1v1h-1zM240 494h1v1h-1zM239 496h1v1h-1zM241 503h1v1h-1zM236 494h1v1h-1zM238 498h1v1h-1zM237 507h1v1h-1zM244 494h1v1h-1zM244 512h1v1h-1zM245 504h1v1h-1zM237 514h1v1h-1zM235 492h1v1h-1zM238 504h1v1h-1zM231 494h1v1h-1zM251 503h1v1h-1zM243 499h1v1h-1zM227 501h1v1h-1zM247 498h1v1h-1zM226 501h1v1h-1zM236 503h1v1h-1zM231 500h1v1h-1zM234 509h1v1h-1zM239 508h1v1h-1zM237 488h1v1h-1zM224 506h1v1h-1zM243 508h1v1h-1zM237 490h1v1h-1zM234 505h1v1h-1zM247 500h1v1h-1zM234 497h1v1h-1zM244 508h1v1h-1zM225 511h1v1h-1zM231 492h1v1h-1zM227 498h1v1h-1zM253 520h1v1h-1zM229 498h1v1h-1zM239 505h1v1h-1zM234 492h1v1h-1zM235 498h1v1h-1zM226 503h1v1h-1zM228 491h1v1h-1zM248 509h1v1h-1zM247 503h1v1h-1zM235 502h1v1h-1zM228 508h1v1h-1zM239 500h1v1h-1zM225 502h1v1h-1zM248 512h1v1h-1zM243 500h1v1h-1zM239 506h1v1h-1zM239 510h1v1h-1zM233 487h1v1h-1zM221 496h1v1h-1zM228 507h1v1h-1zM245 503h1v1h-1zM241 503h1v1h-1zM239 499h1v1h-1zM235 511h1v1h-1zM236 502h1v1h-1zM246 509h1v1h-1zM235 504h1v1h-1zM231 503h1v1h-1zM240 502h1v1h-1zM239 505h1v1h-1zM238 499h1v1h-1zM231 501h1v1h-1zM248 501h1v1h-1zM233 499h1v1h-1zM230 506h1v1h-1zM231 509h1v1h-1zM244 506h1v1h-1zM245 502h1v1h-1zM226 502h1v1h-1zM242 492h1v1h-1zM229 510h1v1h-1zM241 512h1v1h-1zM242 503h1v1h-1zM240 508h1v1h-1zM237 501h1v1h-1zM240 500h1v1h-1zM254 497h1v1h-1zM227 494h1v1h-1zM245 500h1v1h-1zM239 501h1v1h-1zM239 493h1v1h-1zM238 499h1v1h-1zM283 495h1v1h-1zM233 467h1v1h-1zM272 506h1v1h-1zM276 482h1v1h-1zM283 443h1v1h-1zM248 467h1v1h-1zM238 494h1v1h-1zM266 490h1v1h-1zM257 495h1v1h-1zM276 474h1v1h-1z" fill="#000"/>
<rect x="221" y="439.4" width="86.5" height="83.6" fill="none" stroke="#1a1a1a" stroke-width="1.2"/>
<line x1="269" y1="439.4" x2="269" y2="523" stroke="#222" stroke-width="1.1" />
<line x1="221" y1="486.5" x2="307.5" y2="486.5" stroke="#222" stroke-width="1.1" />
<path d="M221 523v4.5M227.51 523v2.8M231.32 523v2.8M234.02 523v2.8M236.12 523v2.8M237.83 523v2.8M239.28 523v2.8M240.53 523v2.8M241.64 523v2.8M242.62 523v4.5M249.13 523v2.8M252.94 523v2.8M255.64 523v2.8M257.74 523v2.8M259.45 523v2.8M260.9 523v2.8M262.15 523v2.8M263.26 523v2.8M264.25 523v4.5M270.76 523v2.8M274.57 523v2.8M277.27 523v2.8M279.37 523v2.8M281.08 523v2.8M282.53 523v2.8M283.78 523v2.8M284.89 523v2.8M285.88 523v4.5M292.38 523v2.8M296.19 523v2.8M298.89 523v2.8M300.99 523v2.8M302.7 523v2.8M304.15 523v2.8M305.4 523v2.8M306.51 523v2.8M307.5 523v4.5" stroke="#1a1a1a" stroke-width="1.1" fill="none"/>
<path d="M221 523h-4.3M221 516.71h-2.6M221 513.03h-2.6M221 510.42h-2.6M221 508.39h-2.6M221 506.74h-2.6M221 505.34h-2.6M221 504.13h-2.6M221 503.06h-2.6M221 502.1h-4.3M221 495.81h-2.6M221 492.13h-2.6M221 489.52h-2.6M221 487.49h-2.6M221 485.84h-2.6M221 484.44h-2.6M221 483.23h-2.6M221 482.16h-2.6M221 481.2h-4.3M221 474.91h-2.6M221 471.23h-2.6M221 468.62h-2.6M221 466.59h-2.6M221 464.94h-2.6M221 463.54h-2.6M221 462.33h-2.6M221 461.26h-2.6M221 460.3h-4.3M221 454.01h-2.6M221 450.33h-2.6M221 447.72h-2.6M221 445.69h-2.6M221 444.04h-2.6M221 442.64h-2.6M221 441.43h-2.6M221 440.36h-2.6M221 439.4h-4.3" stroke="#1a1a1a" stroke-width="1.1" fill="none"/>
<text x="0" y="0" font-size="10.43" font-weight="normal" font-family="Liberation Sans" transform="translate(215.3 539.1) scale(0.6586 1)" stroke="#000" stroke-width="0.2">10</text>
<text x="0" y="0" font-size="9.86" font-family="Liberation Sans" stroke="#000" stroke-width="0.2" transform="translate(223.4 534.4) scale(0.7609 1)">0</text>
<text x="0" y="0" font-size="10.43" font-weight="normal" font-family="Liberation Sans" transform="translate(236.65 539.1) scale(0.6586 1)" stroke="#000" stroke-width="0.2">10</text>
<text x="0" y="0" font-size="9.86" font-family="Liberation Sans" stroke="#000" stroke-width="0.2" transform="translate(244.64 534.4) scale(0.7609 1)">1</text>
<text x="0" y="0" font-size="10.43" font-weight="normal" font-family="Liberation Sans" transform="translate(258 539.1) scale(0.6586 1)" stroke="#000" stroke-width="0.2">10</text>
<text x="0" y="0" font-size="9.86" font-family="Liberation Sans" stroke="#000" stroke-width="0.2" transform="translate(266.1 534.4) scale(0.7609 1)">2</text>
<text x="0" y="0" font-size="10.43" font-weight="normal" font-family="Liberation Sans" transform="translate(279.35 539.1) scale(0.6586 1)" stroke="#000" stroke-width="0.2">10</text>
<text x="0" y="0" font-size="9.86" font-family="Liberation Sans" stroke="#000" stroke-width="0.2" transform="translate(287.49 534.4) scale(0.7609 1)">3</text>
<text x="0" y="0" font-size="10.43" font-weight="normal" font-family="Liberation Sans" transform="translate(300.7 539.1) scale(0.6586 1)" stroke="#000" stroke-width="0.2">10</text>
<text x="0" y="0" font-size="9.86" font-family="Liberation Sans" stroke="#000" stroke-width="0.2" transform="translate(308.84 534.4) scale(0.7609 1)">4</text>
<g transform="rotate(-90)">
<text x="0" y="0" font-size="9.29" font-weight="normal" font-family="Liberation Sans" transform="translate(-529.62 214) scale(0.8376 1)" stroke="#000" stroke-width="0.2">10</text>
<text x="0" y="0" font-size="8.43" font-family="Liberation Sans" stroke="#000" stroke-width="0.2" transform="translate(-519.38 210.3) scale(1.1123 1)">0</text>
<text x="0" y="0" font-size="9.29" font-weight="normal" font-family="Liberation Sans" transform="translate(-508.72 214) scale(0.8376 1)" stroke="#000" stroke-width="0.2">10</text>
<text x="0" y="0" font-size="8.43" font-family="Liberation Sans" stroke="#000" stroke-width="0.2" transform="translate(-498.62 210.3) scale(1.1123 1)">1</text>
<text x="0" y="0" font-size="9.29" font-weight="normal" font-family="Liberation Sans" transform="translate(-487.82 214) scale(0.8376 1)" stroke="#000" stroke-width="0.2">10</text>
<text x="0" y="0" font-size="8.43" font-family="Liberation Sans" stroke="#000" stroke-width="0.2" transform="translate(-477.57 210.3) scale(1.1123 1)">2</text>
<text x="0" y="0" font-size="9.29" font-weight="normal" font-family="Liberation Sans" transform="translate(-466.92 214) scale(0.8376 1)" stroke="#000" stroke-width="0.2">10</text>
<text x="0" y="0" font-size="8.43" font-family="Liberation Sans" stroke="#000" stroke-width="0.2" transform="translate(-456.63 210.3) scale(1.1123 1)">3</text>
<text x="0" y="0" font-size="9.29" font-weight="normal" font-family="Liberation Sans" transform="translate(-446.02 214) scale(0.8376 1)" stroke="#000" stroke-width="0.2">10</text>
<text x="0" y="0" font-size="8.43" font-family="Liberation Sans" stroke="#000" stroke-width="0.2" transform="translate(-435.73 210.3) scale(1.1123 1)">4</text>
</g>
<text x="0" y="0" font-size="20.65" font-weight="normal" font-family="Liberation Sans" transform="translate(241.77 427.43) scale(0.9698 1)" stroke="#000" stroke-width="0.15">DL1</text>
<line x1="328.4" y1="442.4" x2="328.4" y2="474.6" stroke="#888" stroke-width="0.8" />
<line x1="311.7" y1="458.3" x2="344.4" y2="458.3" stroke="#aaa" stroke-width="0.8" />
<text x="0" y="0" font-size="13.88" font-weight="normal" font-family="Liberation Sans" transform="translate(314.74 455.49) scale(0.8551 1)" stroke="#000" stroke-width="0.22">5</text>
<text x="0" y="0" font-size="13.69" font-weight="normal" font-family="Liberation Sans" transform="translate(329.57 455.49) scale(1.0770 1)" stroke="#000" stroke-width="0.22">2</text>
<text x="0" y="0" font-size="12.69" font-weight="normal" font-family="Liberation Sans" transform="translate(311.65 471.59) scale(1.0365 1)" stroke="#000" stroke-width="0.22">91</text>
<text x="0" y="0" font-size="12.69" font-weight="normal" font-family="Liberation Sans" transform="translate(329.57 471.59) scale(1.1619 1)" stroke="#000" stroke-width="0.22">2</text>
<ellipse cx="423" cy="503" rx="7" ry="9" fill="#000" transform="rotate(12 423 503)"/>
<path d="M427 495h1v1h-1zM431 491h1v1h-1zM421 496h1v1h-1zM423 510h1v1h-1zM419 515h1v1h-1zM429 502h1v1h-1zM420 509h1v1h-1zM409 503h1v1h-1zM427 500h1v1h-1zM435 494h1v1h-1zM416 504h1v1h-1zM425 512h1v1h-1zM414 507h1v1h-1zM429 496h1v1h-1zM420 496h1v1h-1zM426 506h1v1h-1zM425 503h1v1h-1zM427 500h1v1h-1zM426 506h1v1h-1zM429 503h1v1h-1zM423 507h1v1h-1zM415 495h1v1h-1zM430 500h1v1h-1zM417 501h1v1h-1zM422 503h1v1h-1zM419 510h1v1h-1zM417 515h1v1h-1zM426 491h1v1h-1zM417 505h1v1h-1zM424 499h1v1h-1zM423 503h1v1h-1zM417 505h1v1h-1zM434 494h1v1h-1zM418 508h1v1h-1zM429 506h1v1h-1zM419 503h1v1h-1zM424 501h1v1h-1zM425 508h1v1h-1zM425 501h1v1h-1zM422 514h1v1h-1zM417 517h1v1h-1zM426 502h1v1h-1zM419 515h1v1h-1zM428 506h1v1h-1zM433 488h1v1h-1zM423 500h1v1h-1zM419 504h1v1h-1zM425 505h1v1h-1zM422 495h1v1h-1zM425 505h1v1h-1zM433 504h1v1h-1zM423 495h1v1h-1zM436 493h1v1h-1zM424 507h1v1h-1zM425 510h1v1h-1zM418 500h1v1h-1zM423 495h1v1h-1zM420 512h1v1h-1zM424 501h1v1h-1zM420 504h1v1h-1zM422 496h1v1h-1zM426 493h1v1h-1zM429 498h1v1h-1zM411 497h1v1h-1zM424 497h1v1h-1zM431 507h1v1h-1zM433 504h1v1h-1zM429 496h1v1h-1zM429 497h1v1h-1zM422 494h1v1h-1zM423 505h1v1h-1zM422 496h1v1h-1zM427 506h1v1h-1zM422 507h1v1h-1zM427 495h1v1h-1zM422 491h1v1h-1zM417 507h1v1h-1zM418 507h1v1h-1zM424 489h1v1h-1zM420 513h1v1h-1zM423 503h1v1h-1zM419 494h1v1h-1zM422 497h1v1h-1zM423 490h1v1h-1zM430 510h1v1h-1zM419 506h1v1h-1zM418 510h1v1h-1zM418 503h1v1h-1zM429 503h1v1h-1zM421 494h1v1h-1zM415 513h1v1h-1zM425 502h1v1h-1zM429 501h1v1h-1zM419 503h1v1h-1zM422 503h1v1h-1zM435 501h1v1h-1zM424 500h1v1h-1zM419 498h1v1h-1zM413 503h1v1h-1zM415 494h1v1h-1zM418 492h1v1h-1zM429 508h1v1h-1zM418 517h1v1h-1zM426 486h1v1h-1zM423 496h1v1h-1zM414 504h1v1h-1zM428 503h1v1h-1zM415 501h1v1h-1zM419 511h1v1h-1zM422 497h1v1h-1zM418 492h1v1h-1zM418 510h1v1h-1zM413 507h1v1h-1zM422 508h1v1h-1zM417 510h1v1h-1zM430 514h1v1h-1zM414 505h1v1h-1zM421 504h1v1h-1zM418 510h1v1h-1zM434 507h1v1h-1zM418 501h1v1h-1zM426 502h1v1h-1zM419 512h1v1h-1zM425 508h1v1h-1zM422 511h1v1h-1zM420 496h1v1h-1zM423 494h1v1h-1zM429 505h1v1h-1zM414 507h1v1h-1zM427 499h1v1h-1zM425 498h1v1h-1zM422 502h1v1h-1zM425 496h1v1h-1zM417 507h1v1h-1zM420 507h1v1h-1zM420 495h1v1h-1zM426 503h1v1h-1zM426 499h1v1h-1zM421 511h1v1h-1zM414 517h1v1h-1zM425 501h1v1h-1zM423 506h1v1h-1zM419 506h1v1h-1zM418 493h1v1h-1zM424 503h1v1h-1zM426 505h1v1h-1zM426 506h1v1h-1zM417 512h1v1h-1zM436 494h1v1h-1zM416 509h1v1h-1zM427 507h1v1h-1zM430 491h1v1h-1zM424 505h1v1h-1zM429 494h1v1h-1zM423 500h1v1h-1zM422 502h1v1h-1zM422 492h1v1h-1zM422 503h1v1h-1zM421 481h1v1h-1zM419 500h1v1h-1zM418 514h1v1h-1zM427 500h1v1h-1zM418 507h1v1h-1zM420 513h1v1h-1zM428 500h1v1h-1zM426 496h1v1h-1zM415 511h1v1h-1zM431 497h1v1h-1zM420 492h1v1h-1zM433 491h1v1h-1zM418 503h1v1h-1zM429 500h1v1h-1zM422 503h1v1h-1zM427 501h1v1h-1zM423 502h1v1h-1zM417 513h1v1h-1zM419 496h1v1h-1zM420 504h1v1h-1zM427 492h1v1h-1zM416 506h1v1h-1zM424 495h1v1h-1zM417 506h1v1h-1zM422 493h1v1h-1zM418 513h1v1h-1zM417 511h1v1h-1zM415 515h1v1h-1zM431 495h1v1h-1zM419 508h1v1h-1zM416 508h1v1h-1zM429 502h1v1h-1zM424 501h1v1h-1zM428 495h1v1h-1zM431 499h1v1h-1zM421 493h1v1h-1zM420 505h1v1h-1zM429 490h1v1h-1zM422 498h1v1h-1zM416 505h1v1h-1zM419 509h1v1h-1zM409 512h1v1h-1zM413 494h1v1h-1zM425 499h1v1h-1zM423 496h1v1h-1zM417 500h1v1h-1zM422 497h1v1h-1zM420 498h1v1h-1zM424 495h1v1h-1zM412 490h1v1h-1zM422 503h1v1h-1zM427 496h1v1h-1zM417 495h1v1h-1zM426 497h1v1h-1zM427 500h1v1h-1zM421 491h1v1h-1zM419 509h1v1h-1zM419 508h1v1h-1zM414 512h1v1h-1zM436 504h1v1h-1zM424 494h1v1h-1zM420 499h1v1h-1zM423 490h1v1h-1zM418 509h1v1h-1zM423 507h1v1h-1zM427 494h1v1h-1zM416 508h1v1h-1zM423 503h1v1h-1zM418 510h1v1h-1zM425 509h1v1h-1zM421 508h1v1h-1zM422 497h1v1h-1zM422 492h1v1h-1zM422 504h1v1h-1zM426 495h1v1h-1zM416 501h1v1h-1zM412 502h1v1h-1zM436 498h1v1h-1zM419 500h1v1h-1zM431 492h1v1h-1zM422 502h1v1h-1zM419 499h1v1h-1zM414 501h1v1h-1zM429 509h1v1h-1zM421 507h1v1h-1zM425 502h1v1h-1zM422 510h1v1h-1zM425 500h1v1h-1zM421 509h1v1h-1zM420 499h1v1h-1zM421 500h1v1h-1zM429 502h1v1h-1zM422 499h1v1h-1zM430 502h1v1h-1zM433 504h1v1h-1zM421 500h1v1h-1zM421 504h1v1h-1zM426 504h1v1h-1zM430 490h1v1h-1zM423 494h1v1h-1zM417 501h1v1h-1zM419 498h1v1h-1zM415 513h1v1h-1zM421 509h1v1h-1zM417 490h1v1h-1zM420 509h1v1h-1zM420 506h1v1h-1zM417 513h1v1h-1zM425 508h1v1h-1zM421 511h1v1h-1zM423 499h1v1h-1zM419 504h1v1h-1zM418 497h1v1h-1zM423 507h1v1h-1zM421 508h1v1h-1zM430 492h1v1h-1zM424 496h1v1h-1zM419 505h1v1h-1zM411 511h1v1h-1zM427 504h1v1h-1zM426 513h1v1h-1zM421 510h1v1h-1zM430 503h1v1h-1zM414 505h1v1h-1zM421 493h1v1h-1zM422 507h1v1h-1zM421 502h1v1h-1zM430 496h1v1h-1zM418 505h1v1h-1zM428 504h1v1h-1zM423 499h1v1h-1zM429 506h1v1h-1zM414 508h1v1h-1zM410 517h1v1h-1zM426 497h1v1h-1zM416 503h1v1h-1zM414 509h1v1h-1zM420 492h1v1h-1zM422 510h1v1h-1zM416 503h1v1h-1zM432 500h1v1h-1zM420 505h1v1h-1zM426 495h1v1h-1zM422 493h1v1h-1zM415 496h1v1h-1zM427 503h1v1h-1zM426 509h1v1h-1zM423 504h1v1h-1zM425 505h1v1h-1zM417 503h1v1h-1zM422 503h1v1h-1zM419 503h1v1h-1zM424 503h1v1h-1zM425 506h1v1h-1zM425 507h1v1h-1zM427 510h1v1h-1zM426 497h1v1h-1zM434 505h1v1h-1zM429 505h1v1h-1zM423 495h1v1h-1zM425 499h1v1h-1zM420 490h1v1h-1zM430 492h1v1h-1zM417 508h1v1h-1zM425 496h1v1h-1zM422 504h1v1h-1zM423 505h1v1h-1zM426 499h1v1h-1zM414 519h1v1h-1zM421 497h1v1h-1zM426 505h1v1h-1zM419 518h1v1h-1zM411 515h1v1h-1zM422 504h1v1h-1zM424 500h1v1h-1zM424 494h1v1h-1zM420 515h1v1h-1zM410 515h1v1h-1zM411 502h1v1h-1zM427 498h1v1h-1zM420 494h1v1h-1zM422 502h1v1h-1zM419 494h1v1h-1zM423 505h1v1h-1zM428 503h1v1h-1zM430 507h1v1h-1zM408 518h1v1h-1zM422 496h1v1h-1zM425 508h1v1h-1zM415 498h1v1h-1zM426 498h1v1h-1zM430 501h1v1h-1zM420 495h1v1h-1zM425 491h1v1h-1zM416 497h1v1h-1zM431 510h1v1h-1zM421 501h1v1h-1zM426 509h1v1h-1zM418 518h1v1h-1zM421 510h1v1h-1zM411 507h1v1h-1zM419 516h1v1h-1zM421 495h1v1h-1zM432 494h1v1h-1zM422 495h1v1h-1zM426 502h1v1h-1zM421 501h1v1h-1zM420 499h1v1h-1zM415 513h1v1h-1zM427 492h1v1h-1zM417 507h1v1h-1zM434 497h1v1h-1zM421 502h1v1h-1zM424 501h1v1h-1zM428 506h1v1h-1zM425 511h1v1h-1zM421 500h1v1h-1zM437 485h1v1h-1zM415 491h1v1h-1zM424 495h1v1h-1zM428 487h1v1h-1zM422 500h1v1h-1zM417 512h1v1h-1zM420 506h1v1h-1zM420 504h1v1h-1zM420 504h1v1h-1zM422 498h1v1h-1zM425 500h1v1h-1zM418 498h1v1h-1zM425 510h1v1h-1zM416 502h1v1h-1zM425 508h1v1h-1zM426 494h1v1h-1zM423 508h1v1h-1zM424 501h1v1h-1zM417 506h1v1h-1zM422 503h1v1h-1zM430 507h1v1h-1zM419 505h1v1h-1zM421 504h1v1h-1zM431 505h1v1h-1zM423 498h1v1h-1zM422 505h1v1h-1zM420 510h1v1h-1zM423 495h1v1h-1zM433 480h1v1h-1zM421 502h1v1h-1zM427 507h1v1h-1zM430 509h1v1h-1zM424 503h1v1h-1zM428 500h1v1h-1zM416 502h1v1h-1zM426 505h1v1h-1zM417 512h1v1h-1zM424 493h1v1h-1zM425 508h1v1h-1zM425 500h1v1h-1zM418 511h1v1h-1zM424 502h1v1h-1zM420 497h1v1h-1zM413 504h1v1h-1zM428 505h1v1h-1zM419 513h1v1h-1zM421 497h1v1h-1zM427 509h1v1h-1zM421 496h1v1h-1zM422 488h1v1h-1zM423 512h1v1h-1zM424 497h1v1h-1zM426 498h1v1h-1zM429 498h1v1h-1zM433 496h1v1h-1zM423 496h1v1h-1zM416 507h1v1h-1zM424 496h1v1h-1zM425 499h1v1h-1zM420 503h1v1h-1zM424 506h1v1h-1zM429 502h1v1h-1zM419 500h1v1h-1zM424 494h1v1h-1zM422 500h1v1h-1zM422 504h1v1h-1zM428 511h1v1h-1zM427 507h1v1h-1zM417 511h1v1h-1zM429 492h1v1h-1zM435 494h1v1h-1zM411 518h1v1h-1zM423 497h1v1h-1zM420 510h1v1h-1zM424 500h1v1h-1zM428 494h1v1h-1zM418 501h1v1h-1zM419 508h1v1h-1zM421 496h1v1h-1zM420 491h1v1h-1zM423 503h1v1h-1zM426 500h1v1h-1zM424 496h1v1h-1zM423 503h1v1h-1zM416 509h1v1h-1zM423 503h1v1h-1zM420 516h1v1h-1zM423 498h1v1h-1zM418 508h1v1h-1zM421 498h1v1h-1zM419 510h1v1h-1zM423 509h1v1h-1zM422 495h1v1h-1zM427 503h1v1h-1zM419 502h1v1h-1zM418 510h1v1h-1zM420 506h1v1h-1zM424 500h1v1h-1zM424 500h1v1h-1zM417 502h1v1h-1zM417 509h1v1h-1zM426 498h1v1h-1zM426 503h1v1h-1zM427 495h1v1h-1zM423 496h1v1h-1zM419 512h1v1h-1zM412 501h1v1h-1zM425 506h1v1h-1zM419 491h1v1h-1zM414 508h1v1h-1zM428 506h1v1h-1zM419 512h1v1h-1zM422 507h1v1h-1zM422 513h1v1h-1zM420 490h1v1h-1zM421 504h1v1h-1zM424 498h1v1h-1zM421 496h1v1h-1zM421 503h1v1h-1zM424 512h1v1h-1zM412 510h1v1h-1zM425 494h1v1h-1zM423 502h1v1h-1zM417 509h1v1h-1zM432 503h1v1h-1zM426 508h1v1h-1zM422 509h1v1h-1zM418 505h1v1h-1zM426 509h1v1h-1zM421 501h1v1h-1zM425 501h1v1h-1zM423 507h1v1h-1zM419 509h1v1h-1zM424 500h1v1h-1zM416 501h1v1h-1zM422 508h1v1h-1zM413 511h1v1h-1zM423 495h1v1h-1zM427 503h1v1h-1zM425 496h1v1h-1zM417 510h1v1h-1zM429 502h1v1h-1zM422 500h1v1h-1zM414 512h1v1h-1zM422 510h1v1h-1zM419 510h1v1h-1zM419 507h1v1h-1zM429 495h1v1h-1zM427 501h1v1h-1zM418 506h1v1h-1zM426 497h1v1h-1zM421 500h1v1h-1zM419 503h1v1h-1zM427 498h1v1h-1zM429 498h1v1h-1zM419 510h1v1h-1zM429 496h1v1h-1zM425 494h1v1h-1zM420 501h1v1h-1zM426 493h1v1h-1zM420 499h1v1h-1zM423 495h1v1h-1zM424 493h1v1h-1zM427 493h1v1h-1zM413 516h1v1h-1zM429 495h1v1h-1zM417 508h1v1h-1zM433 502h1v1h-1zM426 494h1v1h-1zM414 508h1v1h-1zM428 501h1v1h-1zM422 511h1v1h-1zM418 511h1v1h-1zM427 497h1v1h-1zM423 503h1v1h-1zM425 495h1v1h-1zM421 503h1v1h-1zM423 503h1v1h-1zM424 501h1v1h-1zM420 510h1v1h-1zM419 502h1v1h-1zM418 497h1v1h-1zM425 501h1v1h-1zM422 506h1v1h-1zM422 507h1v1h-1zM431 501h1v1h-1zM421 513h1v1h-1zM426 491h1v1h-1zM429 501h1v1h-1zM427 494h1v1h-1zM418 500h1v1h-1zM425 495h1v1h-1zM419 510h1v1h-1zM419 504h1v1h-1zM418 494h1v1h-1zM422 502h1v1h-1zM415 511h1v1h-1zM427 506h1v1h-1zM420 496h1v1h-1zM422 504h1v1h-1zM422 499h1v1h-1zM418 500h1v1h-1zM422 500h1v1h-1zM431 498h1v1h-1zM425 499h1v1h-1zM422 497h1v1h-1zM420 494h1v1h-1zM412 515h1v1h-1zM417 507h1v1h-1zM422 499h1v1h-1zM426 498h1v1h-1zM425 499h1v1h-1zM427 506h1v1h-1zM423 509h1v1h-1zM425 511h1v1h-1zM422 493h1v1h-1zM424 504h1v1h-1zM421 502h1v1h-1zM421 495h1v1h-1zM431 494h1v1h-1zM417 495h1v1h-1zM418 504h1v1h-1zM430 503h1v1h-1zM419 496h1v1h-1zM417 504h1v1h-1zM427 498h1v1h-1zM430 511h1v1h-1zM423 489h1v1h-1zM428 500h1v1h-1zM426 507h1v1h-1zM418 505h1v1h-1zM423 498h1v1h-1zM426 500h1v1h-1zM421 515h1v1h-1zM423 512h1v1h-1zM422 509h1v1h-1zM419 505h1v1h-1zM428 487h1v1h-1zM425 500h1v1h-1zM428 502h1v1h-1zM422 495h1v1h-1zM437 492h1v1h-1zM421 499h1v1h-1zM421 504h1v1h-1zM416 511h1v1h-1zM421 507h1v1h-1zM412 503h1v1h-1zM421 501h1v1h-1zM419 506h1v1h-1zM424 496h1v1h-1zM413 511h1v1h-1zM421 510h1v1h-1zM427 500h1v1h-1zM415 503h1v1h-1zM419 511h1v1h-1zM414 511h1v1h-1zM415 502h1v1h-1zM416 501h1v1h-1zM420 506h1v1h-1zM420 508h1v1h-1zM431 500h1v1h-1zM417 504h1v1h-1zM422 500h1v1h-1zM428 507h1v1h-1zM432 502h1v1h-1zM409 507h1v1h-1zM426 496h1v1h-1zM420 509h1v1h-1zM423 495h1v1h-1zM420 485h1v1h-1zM422 495h1v1h-1zM422 495h1v1h-1zM418 501h1v1h-1zM436 490h1v1h-1zM417 501h1v1h-1zM428 505h1v1h-1zM426 499h1v1h-1zM423 498h1v1h-1zM422 498h1v1h-1zM415 499h1v1h-1zM432 501h1v1h-1zM419 503h1v1h-1zM420 511h1v1h-1zM422 499h1v1h-1zM426 503h1v1h-1zM419 499h1v1h-1zM423 492h1v1h-1zM418 510h1v1h-1zM427 508h1v1h-1zM420 500h1v1h-1zM421 500h1v1h-1zM429 499h1v1h-1zM429 496h1v1h-1zM424 512h1v1h-1zM419 500h1v1h-1zM420 494h1v1h-1zM421 499h1v1h-1zM433 495h1v1h-1zM412 512h1v1h-1zM427 500h1v1h-1zM424 506h1v1h-1zM420 504h1v1h-1zM423 512h1v1h-1zM429 501h1v1h-1zM416 510h1v1h-1zM422 510h1v1h-1zM423 503h1v1h-1zM426 497h1v1h-1zM419 518h1v1h-1zM418 510h1v1h-1zM426 506h1v1h-1zM429 492h1v1h-1zM427 488h1v1h-1zM423 504h1v1h-1zM427 507h1v1h-1zM418 503h1v1h-1zM422 499h1v1h-1zM418 500h1v1h-1zM428 509h1v1h-1zM426 511h1v1h-1zM423 496h1v1h-1zM419 505h1v1h-1zM427 508h1v1h-1zM418 510h1v1h-1zM420 507h1v1h-1zM427 510h1v1h-1zM420 505h1v1h-1zM425 499h1v1h-1zM423 506h1v1h-1zM414 502h1v1h-1zM434 501h1v1h-1zM420 492h1v1h-1zM418 507h1v1h-1zM426 504h1v1h-1zM425 498h1v1h-1zM430 493h1v1h-1zM425 500h1v1h-1zM414 511h1v1h-1zM421 507h1v1h-1zM429 501h1v1h-1zM419 502h1v1h-1zM422 511h1v1h-1zM427 511h1v1h-1zM426 496h1v1h-1zM427 507h1v1h-1zM422 506h1v1h-1zM421 495h1v1h-1zM422 507h1v1h-1zM421 490h1v1h-1zM419 511h1v1h-1zM424 509h1v1h-1zM419 501h1v1h-1zM418 500h1v1h-1zM425 502h1v1h-1zM420 505h1v1h-1zM416 503h1v1h-1zM415 496h1v1h-1zM416 498h1v1h-1zM430 508h1v1h-1zM429 497h1v1h-1zM425 494h1v1h-1zM420 505h1v1h-1zM415 507h1v1h-1zM425 489h1v1h-1zM411 505h1v1h-1zM422 504h1v1h-1zM417 508h1v1h-1zM423 498h1v1h-1zM430 501h1v1h-1zM426 512h1v1h-1zM420 502h1v1h-1zM414 504h1v1h-1zM425 517h1v1h-1zM425 503h1v1h-1zM416 500h1v1h-1zM413 498h1v1h-1zM423 504h1v1h-1zM418 503h1v1h-1zM419 508h1v1h-1zM426 498h1v1h-1zM420 496h1v1h-1zM420 517h1v1h-1zM422 508h1v1h-1zM425 510h1v1h-1zM421 498h1v1h-1zM427 506h1v1h-1zM419 510h1v1h-1zM422 502h1v1h-1zM431 502h1v1h-1zM424 500h1v1h-1zM423 509h1v1h-1zM425 497h1v1h-1zM425 501h1v1h-1zM424 501h1v1h-1zM412 497h1v1h-1zM421 490h1v1h-1zM415 518h1v1h-1zM426 498h1v1h-1zM424 488h1v1h-1zM424 508h1v1h-1zM423 494h1v1h-1zM427 497h1v1h-1zM420 505h1v1h-1zM421 516h1v1h-1zM422 516h1v1h-1zM425 494h1v1h-1zM422 503h1v1h-1zM429 508h1v1h-1zM435 494h1v1h-1zM420 518h1v1h-1zM418 506h1v1h-1zM430 493h1v1h-1zM421 499h1v1h-1zM425 504h1v1h-1zM422 507h1v1h-1zM419 502h1v1h-1zM425 514h1v1h-1zM422 503h1v1h-1zM429 500h1v1h-1zM429 502h1v1h-1zM428 501h1v1h-1zM418 499h1v1h-1zM425 513h1v1h-1zM432 497h1v1h-1zM435 491h1v1h-1zM418 510h1v1h-1zM415 511h1v1h-1zM424 506h1v1h-1zM417 507h1v1h-1zM427 500h1v1h-1zM427 501h1v1h-1zM424 500h1v1h-1zM416 504h1v1h-1zM425 497h1v1h-1zM413 497h1v1h-1zM429 499h1v1h-1zM419 512h1v1h-1zM422 494h1v1h-1zM420 498h1v1h-1zM422 497h1v1h-1zM423 505h1v1h-1zM420 502h1v1h-1zM422 508h1v1h-1zM419 509h1v1h-1zM429 499h1v1h-1zM418 502h1v1h-1zM414 503h1v1h-1zM417 504h1v1h-1zM421 506h1v1h-1zM423 505h1v1h-1zM422 504h1v1h-1zM417 509h1v1h-1zM429 507h1v1h-1zM416 508h1v1h-1zM414 510h1v1h-1zM421 500h1v1h-1zM419 502h1v1h-1zM422 497h1v1h-1zM423 504h1v1h-1zM425 501h1v1h-1zM422 517h1v1h-1zM427 503h1v1h-1zM416 509h1v1h-1zM425 485h1v1h-1zM422 505h1v1h-1zM423 503h1v1h-1zM422 511h1v1h-1zM424 500h1v1h-1zM421 516h1v1h-1zM418 501h1v1h-1zM424 503h1v1h-1zM424 510h1v1h-1zM428 503h1v1h-1zM423 502h1v1h-1zM421 509h1v1h-1zM416 499h1v1h-1zM420 497h1v1h-1zM419 511h1v1h-1zM411 510h1v1h-1zM416 504h1v1h-1zM420 497h1v1h-1zM415 506h1v1h-1zM408 495h1v1h-1zM421 510h1v1h-1zM432 497h1v1h-1zM418 502h1v1h-1zM425 507h1v1h-1zM418 507h1v1h-1zM422 510h1v1h-1zM420 502h1v1h-1zM418 496h1v1h-1zM424 506h1v1h-1zM428 502h1v1h-1zM420 498h1v1h-1zM417 500h1v1h-1zM424 502h1v1h-1zM411 506h1v1h-1zM421 497h1v1h-1zM422 506h1v1h-1zM417 496h1v1h-1zM421 505h1v1h-1zM421 513h1v1h-1zM423 496h1v1h-1zM426 497h1v1h-1zM426 502h1v1h-1zM429 494h1v1h-1zM426 504h1v1h-1zM418 509h1v1h-1zM434 500h1v1h-1zM419 503h1v1h-1zM429 502h1v1h-1zM430 496h1v1h-1zM429 490h1v1h-1zM422 501h1v1h-1zM420 511h1v1h-1zM419 506h1v1h-1zM432 504h1v1h-1zM420 499h1v1h-1zM413 509h1v1h-1zM427 508h1v1h-1zM424 515h1v1h-1zM426 487h1v1h-1zM418 509h1v1h-1zM420 508h1v1h-1zM435 493h1v1h-1zM433 498h1v1h-1zM415 506h1v1h-1zM427 497h1v1h-1zM430 494h1v1h-1zM421 509h1v1h-1zM421 499h1v1h-1zM422 507h1v1h-1zM431 508h1v1h-1zM432 499h1v1h-1zM414 505h1v1h-1zM420 497h1v1h-1zM420 503h1v1h-1zM423 508h1v1h-1zM418 511h1v1h-1zM423 507h1v1h-1zM429 492h1v1h-1zM430 495h1v1h-1zM424 508h1v1h-1zM427 491h1v1h-1zM423 509h1v1h-1zM422 502h1v1h-1zM423 513h1v1h-1zM420 498h1v1h-1zM417 501h1v1h-1zM421 505h1v1h-1zM422 492h1v1h-1zM415 510h1v1h-1zM426 493h1v1h-1zM427 486h1v1h-1zM434 502h1v1h-1zM414 509h1v1h-1zM422 500h1v1h-1zM421 502h1v1h-1zM422 497h1v1h-1zM420 507h1v1h-1zM425 493h1v1h-1zM420 513h1v1h-1zM426 511h1v1h-1zM416 499h1v1h-1zM412 495h1v1h-1zM421 497h1v1h-1zM417 500h1v1h-1zM422 508h1v1h-1zM425 491h1v1h-1zM430 498h1v1h-1zM417 504h1v1h-1zM420 495h1v1h-1zM430 496h1v1h-1zM419 507h1v1h-1zM431 502h1v1h-1zM418 507h1v1h-1zM428 503h1v1h-1zM426 498h1v1h-1zM422 492h1v1h-1zM419 497h1v1h-1zM423 512h1v1h-1zM411 499h1v1h-1zM418 504h1v1h-1zM428 495h1v1h-1zM419 512h1v1h-1zM424 505h1v1h-1zM427 496h1v1h-1zM424 498h1v1h-1zM419 505h1v1h-1zM425 494h1v1h-1zM419 508h1v1h-1zM423 506h1v1h-1zM421 498h1v1h-1zM426 505h1v1h-1zM408 513h1v1h-1zM419 508h1v1h-1zM430 498h1v1h-1zM418 506h1v1h-1zM423 506h1v1h-1zM415 507h1v1h-1zM427 505h1v1h-1zM426 509h1v1h-1zM418 512h1v1h-1zM424 496h1v1h-1zM421 505h1v1h-1zM424 510h1v1h-1zM423 499h1v1h-1zM433 496h1v1h-1zM418 510h1v1h-1zM420 498h1v1h-1zM417 512h1v1h-1zM417 505h1v1h-1zM420 502h1v1h-1zM418 505h1v1h-1zM426 508h1v1h-1zM421 496h1v1h-1zM415 505h1v1h-1zM410 516h1v1h-1zM423 503h1v1h-1zM415 501h1v1h-1zM419 508h1v1h-1zM420 507h1v1h-1zM425 490h1v1h-1zM421 511h1v1h-1zM420 504h1v1h-1zM422 495h1v1h-1zM433 497h1v1h-1zM426 498h1v1h-1zM430 507h1v1h-1zM428 506h1v1h-1zM426 510h1v1h-1zM425 503h1v1h-1zM427 495h1v1h-1zM410 513h1v1h-1zM423 498h1v1h-1zM421 497h1v1h-1zM418 505h1v1h-1zM423 507h1v1h-1zM422 507h1v1h-1zM426 497h1v1h-1zM414 502h1v1h-1zM421 500h1v1h-1zM434 494h1v1h-1zM425 497h1v1h-1zM426 493h1v1h-1zM427 502h1v1h-1zM420 496h1v1h-1zM431 496h1v1h-1zM430 485h1v1h-1zM416 516h1v1h-1zM431 499h1v1h-1zM428 504h1v1h-1zM421 504h1v1h-1zM417 496h1v1h-1zM423 507h1v1h-1zM423 495h1v1h-1zM427 501h1v1h-1zM426 499h1v1h-1zM421 510h1v1h-1zM429 492h1v1h-1zM417 511h1v1h-1zM424 502h1v1h-1zM418 511h1v1h-1zM423 504h1v1h-1zM424 499h1v1h-1zM424 503h1v1h-1zM426 504h1v1h-1zM416 501h1v1h-1zM421 510h1v1h-1zM419 511h1v1h-1zM428 506h1v1h-1zM434 498h1v1h-1zM424 509h1v1h-1zM425 508h1v1h-1zM422 512h1v1h-1zM424 490h1v1h-1zM428 499h1v1h-1zM418 502h1v1h-1zM421 510h1v1h-1zM424 501h1v1h-1zM422 497h1v1h-1zM419 501h1v1h-1zM421 496h1v1h-1zM420 510h1v1h-1zM425 502h1v1h-1zM424 500h1v1h-1zM417 510h1v1h-1zM434 501h1v1h-1zM426 516h1v1h-1zM416 508h1v1h-1zM421 502h1v1h-1zM414 505h1v1h-1zM425 492h1v1h-1zM421 500h1v1h-1zM417 508h1v1h-1zM431 502h1v1h-1zM428 505h1v1h-1zM422 506h1v1h-1zM429 497h1v1h-1zM422 494h1v1h-1zM413 501h1v1h-1zM427 503h1v1h-1zM424 510h1v1h-1zM414 515h1v1h-1zM423 507h1v1h-1zM429 495h1v1h-1zM418 507h1v1h-1zM422 499h1v1h-1zM422 498h1v1h-1zM423 500h1v1h-1zM431 493h1v1h-1zM425 502h1v1h-1zM430 494h1v1h-1zM420 514h1v1h-1zM419 502h1v1h-1zM421 497h1v1h-1zM429 510h1v1h-1zM422 498h1v1h-1zM416 509h1v1h-1zM420 507h1v1h-1zM410 505h1v1h-1zM426 504h1v1h-1zM408 510h1v1h-1zM423 502h1v1h-1zM421 501h1v1h-1zM423 505h1v1h-1zM407 509h1v1h-1zM427 499h1v1h-1zM429 494h1v1h-1zM432 505h1v1h-1zM420 520h1v1h-1zM430 510h1v1h-1zM417 504h1v1h-1zM425 508h1v1h-1zM423 494h1v1h-1zM429 499h1v1h-1zM425 500h1v1h-1zM422 494h1v1h-1zM426 497h1v1h-1zM414 509h1v1h-1zM422 509h1v1h-1zM427 494h1v1h-1zM422 503h1v1h-1zM423 496h1v1h-1zM423 508h1v1h-1zM429 509h1v1h-1zM426 486h1v1h-1zM421 500h1v1h-1zM408 518h1v1h-1zM427 501h1v1h-1zM424 505h1v1h-1zM421 511h1v1h-1zM432 504h1v1h-1zM420 505h1v1h-1zM427 505h1v1h-1zM419 510h1v1h-1zM426 505h1v1h-1zM420 503h1v1h-1zM413 506h1v1h-1zM420 502h1v1h-1zM421 501h1v1h-1zM423 503h1v1h-1zM419 503h1v1h-1zM422 506h1v1h-1zM425 500h1v1h-1zM418 494h1v1h-1zM416 508h1v1h-1zM418 514h1v1h-1zM422 501h1v1h-1zM422 500h1v1h-1zM419 504h1v1h-1zM415 506h1v1h-1zM422 497h1v1h-1zM428 503h1v1h-1zM428 496h1v1h-1zM416 498h1v1h-1zM415 494h1v1h-1zM430 497h1v1h-1zM423 499h1v1h-1zM422 513h1v1h-1zM414 500h1v1h-1zM423 497h1v1h-1zM426 509h1v1h-1zM427 505h1v1h-1zM422 509h1v1h-1zM418 497h1v1h-1zM421 502h1v1h-1zM429 494h1v1h-1zM428 496h1v1h-1zM416 495h1v1h-1zM422 494h1v1h-1zM424 502h1v1h-1zM420 492h1v1h-1zM420 506h1v1h-1zM414 510h1v1h-1zM423 499h1v1h-1zM424 506h1v1h-1zM422 498h1v1h-1zM426 497h1v1h-1zM424 508h1v1h-1zM429 510h1v1h-1zM428 501h1v1h-1zM421 504h1v1h-1zM425 520h1v1h-1zM426 496h1v1h-1zM430 490h1v1h-1zM428 493h1v1h-1zM417 502h1v1h-1zM421 495h1v1h-1zM426 501h1v1h-1zM429 494h1v1h-1zM413 510h1v1h-1zM421 509h1v1h-1zM411 499h1v1h-1zM423 514h1v1h-1zM416 493h1v1h-1zM420 512h1v1h-1zM430 491h1v1h-1zM419 492h1v1h-1zM418 498h1v1h-1zM425 509h1v1h-1zM437 495h1v1h-1zM426 502h1v1h-1zM420 516h1v1h-1zM425 513h1v1h-1zM422 508h1v1h-1zM423 500h1v1h-1zM414 500h1v1h-1zM420 499h1v1h-1zM417 497h1v1h-1zM426 498h1v1h-1zM419 500h1v1h-1zM429 495h1v1h-1zM430 493h1v1h-1zM431 504h1v1h-1zM416 506h1v1h-1zM428 492h1v1h-1zM418 504h1v1h-1zM418 500h1v1h-1zM420 504h1v1h-1zM425 512h1v1h-1zM417 516h1v1h-1zM419 490h1v1h-1zM416 500h1v1h-1zM428 484h1v1h-1zM415 502h1v1h-1zM424 504h1v1h-1zM426 499h1v1h-1zM418 511h1v1h-1zM432 502h1v1h-1zM421 495h1v1h-1zM435 501h1v1h-1zM424 488h1v1h-1zM424 519h1v1h-1zM418 500h1v1h-1zM431 498h1v1h-1zM426 515h1v1h-1zM411 497h1v1h-1zM425 501h1v1h-1zM420 500h1v1h-1zM420 504h1v1h-1zM416 500h1v1h-1zM421 493h1v1h-1zM423 484h1v1h-1zM424 500h1v1h-1zM411 514h1v1h-1zM411 519h1v1h-1zM414 512h1v1h-1zM419 514h1v1h-1zM418 510h1v1h-1zM417 488h1v1h-1zM422 505h1v1h-1zM423 514h1v1h-1zM414 492h1v1h-1zM421 496h1v1h-1zM419 502h1v1h-1zM413 511h1v1h-1zM419 516h1v1h-1zM421 509h1v1h-1zM417 497h1v1h-1zM416 496h1v1h-1zM423 502h1v1h-1zM411 491h1v1h-1zM413 489h1v1h-1zM413 491h1v1h-1zM425 491h1v1h-1zM415 502h1v1h-1zM420 505h1v1h-1zM425 505h1v1h-1zM417 512h1v1h-1zM422 495h1v1h-1zM431 490h1v1h-1zM423 511h1v1h-1zM420 504h1v1h-1zM420 507h1v1h-1zM421 501h1v1h-1zM425 486h1v1h-1zM421 499h1v1h-1zM434 501h1v1h-1zM415 508h1v1h-1zM417 493h1v1h-1zM417 506h1v1h-1zM428 508h1v1h-1zM421 500h1v1h-1zM421 511h1v1h-1zM419 511h1v1h-1zM414 503h1v1h-1zM425 506h1v1h-1zM421 497h1v1h-1zM406 501h1v1h-1zM413 500h1v1h-1zM431 493h1v1h-1zM426 500h1v1h-1zM411 504h1v1h-1zM425 491h1v1h-1zM411 500h1v1h-1zM425 496h1v1h-1zM423 504h1v1h-1zM420 505h1v1h-1zM429 498h1v1h-1zM422 493h1v1h-1zM414 502h1v1h-1zM426 495h1v1h-1zM409 511h1v1h-1zM437 478h1v1h-1zM412 504h1v1h-1zM423 493h1v1h-1zM422 510h1v1h-1zM418 508h1v1h-1zM420 494h1v1h-1zM415 498h1v1h-1zM429 508h1v1h-1zM421 489h1v1h-1zM416 499h1v1h-1zM405 504h1v1h-1zM422 491h1v1h-1zM416 499h1v1h-1zM433 504h1v1h-1zM425 501h1v1h-1zM410 511h1v1h-1zM415 488h1v1h-1zM425 498h1v1h-1zM420 505h1v1h-1zM418 505h1v1h-1zM429 497h1v1h-1zM417 502h1v1h-1zM424 497h1v1h-1zM420 496h1v1h-1zM419 506h1v1h-1zM414 501h1v1h-1zM409 498h1v1h-1zM420 505h1v1h-1zM412 502h1v1h-1zM413 505h1v1h-1zM421 505h1v1h-1zM418 491h1v1h-1zM415 492h1v1h-1zM415 502h1v1h-1zM427 495h1v1h-1zM414 504h1v1h-1zM404 520h1v1h-1zM408 512h1v1h-1zM427 507h1v1h-1zM419 507h1v1h-1zM417 509h1v1h-1zM415 496h1v1h-1zM422 497h1v1h-1zM424 494h1v1h-1zM421 494h1v1h-1zM419 518h1v1h-1zM412 494h1v1h-1zM408 502h1v1h-1zM431 495h1v1h-1zM426 499h1v1h-1zM415 518h1v1h-1zM427 486h1v1h-1zM412 506h1v1h-1zM424 499h1v1h-1zM422 505h1v1h-1zM417 510h1v1h-1zM413 509h1v1h-1zM426 502h1v1h-1zM417 502h1v1h-1zM403 507h1v1h-1zM409 488h1v1h-1zM425 493h1v1h-1zM422 501h1v1h-1zM407 497h1v1h-1zM418 506h1v1h-1zM420 492h1v1h-1zM416 503h1v1h-1zM410 500h1v1h-1zM416 486h1v1h-1zM432 506h1v1h-1zM416 510h1v1h-1zM412 515h1v1h-1zM417 503h1v1h-1zM415 503h1v1h-1zM422 501h1v1h-1zM413 509h1v1h-1zM424 501h1v1h-1zM427 494h1v1h-1zM429 498h1v1h-1zM431 496h1v1h-1zM418 504h1v1h-1zM427 511h1v1h-1zM416 497h1v1h-1zM425 510h1v1h-1zM425 498h1v1h-1zM429 499h1v1h-1zM421 506h1v1h-1zM415 485h1v1h-1zM421 507h1v1h-1zM423 505h1v1h-1zM421 509h1v1h-1zM420 513h1v1h-1zM420 508h1v1h-1zM416 505h1v1h-1zM423 502h1v1h-1zM431 499h1v1h-1zM428 502h1v1h-1zM427 493h1v1h-1zM417 510h1v1h-1zM414 506h1v1h-1zM424 502h1v1h-1zM423 505h1v1h-1zM418 505h1v1h-1zM416 499h1v1h-1zM408 503h1v1h-1zM407 504h1v1h-1zM421 493h1v1h-1zM420 504h1v1h-1zM417 495h1v1h-1zM419 505h1v1h-1zM426 515h1v1h-1zM405 507h1v1h-1zM423 496h1v1h-1zM422 517h1v1h-1zM420 512h1v1h-1zM427 496h1v1h-1zM403 514h1v1h-1zM431 486h1v1h-1zM418 496h1v1h-1zM421 502h1v1h-1zM428 495h1v1h-1zM434 485h1v1h-1zM419 507h1v1h-1zM426 497h1v1h-1zM406 506h1v1h-1zM425 485h1v1h-1zM416 507h1v1h-1zM402 504h1v1h-1zM408 494h1v1h-1zM422 510h1v1h-1zM428 495h1v1h-1zM423 487h1v1h-1zM409 508h1v1h-1zM417 494h1v1h-1zM406 503h1v1h-1zM436 482h1v1h-1zM412 512h1v1h-1zM406 500h1v1h-1zM420 510h1v1h-1zM419 516h1v1h-1zM419 501h1v1h-1zM423 504h1v1h-1zM409 496h1v1h-1zM418 505h1v1h-1zM411 498h1v1h-1zM414 505h1v1h-1zM416 507h1v1h-1zM422 494h1v1h-1zM417 492h1v1h-1zM420 508h1v1h-1zM412 489h1v1h-1zM423 498h1v1h-1zM419 505h1v1h-1zM422 508h1v1h-1zM416 485h1v1h-1zM416 500h1v1h-1zM417 505h1v1h-1zM418 512h1v1h-1zM415 502h1v1h-1zM417 519h1v1h-1zM413 495h1v1h-1zM417 508h1v1h-1zM420 500h1v1h-1zM409 488h1v1h-1zM418 500h1v1h-1zM432 502h1v1h-1zM423 508h1v1h-1zM413 493h1v1h-1zM417 514h1v1h-1zM427 495h1v1h-1zM410 511h1v1h-1zM427 491h1v1h-1zM431 493h1v1h-1zM425 499h1v1h-1zM417 497h1v1h-1zM425 505h1v1h-1zM425 498h1v1h-1zM413 520h1v1h-1zM432 497h1v1h-1zM411 515h1v1h-1zM420 502h1v1h-1zM426 503h1v1h-1zM420 517h1v1h-1zM406 509h1v1h-1zM412 504h1v1h-1zM418 504h1v1h-1zM402 511h1v1h-1zM437 495h1v1h-1zM426 505h1v1h-1zM422 497h1v1h-1zM424 503h1v1h-1zM430 506h1v1h-1zM414 480h1v1h-1zM431 503h1v1h-1zM421 496h1v1h-1zM438 508h1v1h-1zM420 498h1v1h-1zM424 511h1v1h-1zM423 508h1v1h-1zM421 504h1v1h-1zM410 504h1v1h-1zM420 501h1v1h-1zM418 504h1v1h-1zM415 501h1v1h-1zM410 522h1v1h-1zM413 494h1v1h-1zM416 499h1v1h-1zM412 484h1v1h-1zM432 507h1v1h-1zM417 506h1v1h-1zM411 491h1v1h-1zM422 505h1v1h-1zM414 503h1v1h-1zM397 505h1v1h-1zM427 501h1v1h-1zM421 506h1v1h-1zM404 495h1v1h-1zM410 505h1v1h-1zM415 488h1v1h-1zM426 499h1v1h-1zM427 516h1v1h-1zM407 494h1v1h-1zM427 511h1v1h-1zM422 504h1v1h-1zM425 506h1v1h-1zM410 509h1v1h-1zM427 497h1v1h-1zM413 499h1v1h-1zM415 507h1v1h-1zM425 500h1v1h-1zM417 488h1v1h-1zM416 494h1v1h-1zM415 505h1v1h-1zM413 499h1v1h-1zM411 501h1v1h-1zM417 510h1v1h-1zM405 512h1v1h-1zM424 496h1v1h-1zM414 504h1v1h-1zM423 499h1v1h-1zM418 502h1v1h-1zM411 505h1v1h-1zM424 501h1v1h-1zM411 503h1v1h-1zM419 504h1v1h-1zM416 509h1v1h-1zM428 506h1v1h-1zM421 511h1v1h-1zM419 500h1v1h-1zM409 504h1v1h-1zM429 492h1v1h-1zM425 490h1v1h-1zM422 515h1v1h-1zM420 492h1v1h-1zM422 500h1v1h-1zM425 496h1v1h-1zM407 501h1v1h-1zM424 509h1v1h-1zM422 501h1v1h-1zM425 499h1v1h-1zM416 504h1v1h-1zM428 496h1v1h-1zM423 496h1v1h-1zM414 504h1v1h-1zM410 497h1v1h-1zM411 499h1v1h-1zM413 521h1v1h-1zM424 501h1v1h-1zM410 485h1v1h-1zM423 496h1v1h-1zM427 497h1v1h-1zM410 499h1v1h-1zM408 493h1v1h-1zM425 496h1v1h-1zM425 496h1v1h-1zM418 498h1v1h-1zM415 497h1v1h-1zM431 499h1v1h-1zM405 518h1v1h-1zM429 508h1v1h-1zM419 501h1v1h-1zM416 503h1v1h-1zM423 501h1v1h-1zM413 495h1v1h-1zM432 512h1v1h-1zM410 499h1v1h-1zM419 506h1v1h-1zM419 504h1v1h-1zM422 510h1v1h-1zM410 512h1v1h-1zM423 505h1v1h-1zM408 502h1v1h-1zM417 507h1v1h-1zM425 506h1v1h-1zM410 513h1v1h-1zM420 509h1v1h-1zM419 496h1v1h-1zM439 502h1v1h-1zM425 497h1v1h-1zM418 510h1v1h-1zM423 514h1v1h-1zM428 491h1v1h-1zM408 513h1v1h-1zM424 499h1v1h-1zM417 498h1v1h-1zM433 497h1v1h-1zM409 511h1v1h-1zM419 504h1v1h-1zM417 502h1v1h-1zM405 509h1v1h-1zM414 500h1v1h-1zM422 511h1v1h-1zM403 504h1v1h-1zM423 508h1v1h-1zM413 505h1v1h-1zM422 508h1v1h-1zM415 501h1v1h-1zM416 511h1v1h-1zM428 496h1v1h-1zM418 503h1v1h-1zM413 502h1v1h-1zM426 506h1v1h-1zM414 498h1v1h-1zM419 491h1v1h-1zM422 502h1v1h-1zM409 502h1v1h-1zM414 501h1v1h-1zM413 513h1v1h-1zM412 509h1v1h-1zM421 512h1v1h-1zM419 502h1v1h-1zM420 487h1v1h-1zM437 496h1v1h-1zM417 494h1v1h-1zM418 514h1v1h-1zM414 506h1v1h-1zM427 507h1v1h-1zM416 489h1v1h-1zM422 505h1v1h-1zM417 499h1v1h-1zM432 487h1v1h-1zM416 498h1v1h-1zM408 499h1v1h-1zM413 484h1v1h-1zM404 470h1v1h-1zM424 467h1v1h-1zM401 475h1v1h-1zM409 472h1v1h-1zM420 479h1v1h-1zM415 475h1v1h-1zM428 474h1v1h-1zM429 472h1v1h-1zM426 483h1v1h-1zM408 494h1v1h-1zM418 475h1v1h-1zM420 479h1v1h-1zM409 478h1v1h-1zM415 485h1v1h-1zM404 482h1v1h-1zM418 472h1v1h-1zM423 475h1v1h-1zM422 477h1v1h-1zM433 472h1v1h-1zM438 459h1v1h-1zM440 481h1v1h-1zM437 475h1v1h-1zM424 470h1v1h-1zM435 468h1v1h-1zM413 477h1v1h-1zM424 478h1v1h-1zM410 476h1v1h-1zM426 482h1v1h-1zM429 477h1v1h-1zM419 473h1v1h-1zM416 476h1v1h-1zM427 473h1v1h-1zM442 468h1v1h-1zM429 474h1v1h-1zM420 474h1v1h-1zM437 473h1v1h-1zM427 476h1v1h-1zM429 478h1v1h-1zM438 470h1v1h-1zM413 487h1v1h-1zM434 475h1v1h-1zM418 478h1v1h-1zM434 470h1v1h-1zM436 474h1v1h-1zM418 474h1v1h-1zM400 480h1v1h-1zM408 475h1v1h-1zM412 478h1v1h-1zM429 475h1v1h-1zM423 478h1v1h-1zM437 477h1v1h-1zM437 474h1v1h-1zM425 472h1v1h-1zM427 471h1v1h-1zM426 472h1v1h-1zM418 483h1v1h-1zM423 480h1v1h-1zM419 466h1v1h-1zM436 473h1v1h-1zM415 482h1v1h-1zM410 473h1v1h-1zM433 471h1v1h-1zM433 473h1v1h-1zM419 477h1v1h-1zM416 483h1v1h-1zM432 475h1v1h-1zM427 478h1v1h-1zM438 465h1v1h-1zM432 480h1v1h-1zM418 477h1v1h-1zM418 483h1v1h-1zM410 481h1v1h-1zM434 478h1v1h-1zM417 474h1v1h-1zM400 473h1v1h-1zM432 470h1v1h-1zM405 477h1v1h-1zM406 480h1v1h-1zM413 482h1v1h-1zM420 468h1v1h-1zM414 473h1v1h-1zM413 484h1v1h-1zM411 479h1v1h-1zM416 480h1v1h-1zM407 469h1v1h-1zM426 483h1v1h-1zM408 476h1v1h-1zM416 472h1v1h-1zM431 475h1v1h-1zM408 477h1v1h-1zM435 471h1v1h-1zM416 472h1v1h-1zM423 473h1v1h-1zM430 470h1v1h-1zM407 480h1v1h-1zM390 475h1v1h-1zM424 477h1v1h-1zM416 474h1v1h-1zM427 496h1v1h-1zM413 476h1v1h-1zM417 480h1v1h-1zM421 479h1v1h-1zM438 473h1v1h-1zM418 479h1v1h-1zM442 472h1v1h-1zM438 481h1v1h-1zM394 474h1v1h-1zM412 479h1v1h-1zM435 475h1v1h-1zM423 488h1v1h-1zM425 488h1v1h-1zM412 486h1v1h-1zM416 463h1v1h-1zM413 474h1v1h-1zM421 480h1v1h-1zM428 478h1v1h-1zM414 487h1v1h-1zM433 475h1v1h-1zM416 477h1v1h-1zM419 473h1v1h-1zM421 472h1v1h-1zM428 472h1v1h-1zM426 477h1v1h-1zM423 479h1v1h-1zM411 492h1v1h-1zM414 481h1v1h-1zM422 474h1v1h-1zM439 480h1v1h-1zM419 480h1v1h-1zM428 484h1v1h-1zM431 474h1v1h-1zM419 470h1v1h-1zM424 481h1v1h-1zM417 480h1v1h-1zM423 473h1v1h-1zM409 484h1v1h-1zM447 476h1v1h-1zM411 472h1v1h-1zM424 479h1v1h-1zM437 461h1v1h-1zM440 475h1v1h-1zM423 478h1v1h-1zM418 475h1v1h-1zM432 465h1v1h-1zM420 479h1v1h-1zM405 477h1v1h-1zM437 476h1v1h-1zM428 479h1v1h-1zM424 478h1v1h-1zM413 476h1v1h-1zM440 467h1v1h-1zM420 469h1v1h-1zM416 472h1v1h-1zM409 479h1v1h-1zM412 480h1v1h-1zM439 460h1v1h-1zM420 465h1v1h-1zM420 478h1v1h-1zM424 483h1v1h-1zM423 466h1v1h-1zM436 469h1v1h-1zM420 478h1v1h-1zM413 478h1v1h-1zM436 465h1v1h-1zM405 476h1v1h-1zM420 469h1v1h-1zM398 484h1v1h-1zM425 468h1v1h-1zM427 475h1v1h-1zM423 468h1v1h-1zM419 479h1v1h-1zM404 472h1v1h-1zM431 486h1v1h-1zM428 475h1v1h-1zM411 475h1v1h-1zM419 479h1v1h-1zM419 490h1v1h-1zM435 462h1v1h-1zM410 477h1v1h-1zM431 477h1v1h-1zM394 470h1v1h-1zM435 478h1v1h-1zM447 477h1v1h-1zM426 484h1v1h-1zM417 474h1v1h-1zM411 479h1v1h-1zM426 481h1v1h-1zM436 478h1v1h-1zM434 473h1v1h-1zM412 481h1v1h-1zM432 482h1v1h-1zM420 474h1v1h-1zM418 479h1v1h-1zM421 475h1v1h-1zM424 474h1v1h-1zM425 472h1v1h-1zM406 476h1v1h-1zM440 469h1v1h-1zM431 483h1v1h-1zM440 475h1v1h-1zM431 476h1v1h-1zM450 474h1v1h-1zM433 471h1v1h-1zM439 474h1v1h-1zM444 472h1v1h-1zM441 470h1v1h-1zM445 474h1v1h-1zM444 472h1v1h-1zM445 472h1v1h-1zM444 473h1v1h-1zM439 469h1v1h-1zM433 468h1v1h-1zM445 486h1v1h-1zM434 470h1v1h-1zM442 487h1v1h-1zM441 469h1v1h-1zM445 482h1v1h-1zM428 469h1v1h-1zM449 469h1v1h-1zM442 471h1v1h-1zM446 468h1v1h-1zM444 474h1v1h-1zM445 475h1v1h-1zM443 467h1v1h-1zM441 470h1v1h-1zM445 473h1v1h-1zM443 478h1v1h-1zM442 480h1v1h-1zM447 468h1v1h-1zM440 478h1v1h-1zM440 478h1v1h-1zM440 473h1v1h-1zM448 467h1v1h-1zM443 472h1v1h-1zM443 480h1v1h-1zM445 468h1v1h-1zM447 472h1v1h-1zM443 478h1v1h-1zM441 477h1v1h-1zM443 470h1v1h-1zM441 468h1v1h-1zM448 474h1v1h-1zM447 469h1v1h-1zM447 469h1v1h-1zM444 473h1v1h-1zM440 475h1v1h-1zM443 470h1v1h-1zM439 468h1v1h-1zM449 474h1v1h-1zM400 506h1v1h-1zM396 495h1v1h-1zM405 511h1v1h-1zM405 502h1v1h-1zM415 493h1v1h-1zM424 495h1v1h-1zM402 494h1v1h-1zM394 500h1v1h-1zM420 496h1v1h-1zM398 503h1v1h-1zM395 500h1v1h-1zM408 489h1v1h-1zM400 500h1v1h-1zM399 501h1v1h-1zM390 499h1v1h-1zM399 496h1v1h-1zM411 513h1v1h-1zM408 496h1v1h-1zM412 504h1v1h-1zM397 505h1v1h-1zM398 505h1v1h-1zM409 508h1v1h-1zM395 501h1v1h-1zM403 494h1v1h-1zM405 506h1v1h-1zM393 498h1v1h-1zM395 494h1v1h-1zM395 509h1v1h-1zM398 499h1v1h-1zM409 507h1v1h-1zM412 489h1v1h-1zM408 491h1v1h-1zM398 499h1v1h-1zM399 513h1v1h-1zM401 508h1v1h-1zM401 501h1v1h-1zM406 504h1v1h-1zM406 491h1v1h-1zM406 503h1v1h-1zM407 501h1v1h-1zM405 494h1v1h-1zM410 494h1v1h-1zM412 507h1v1h-1zM402 500h1v1h-1zM408 500h1v1h-1zM394 503h1v1h-1zM394 499h1v1h-1zM415 506h1v1h-1zM399 501h1v1h-1zM398 501h1v1h-1zM392 505h1v1h-1zM403 498h1v1h-1zM398 517h1v1h-1zM399 499h1v1h-1zM398 499h1v1h-1zM412 505h1v1h-1zM405 504h1v1h-1zM395 487h1v1h-1zM413 506h1v1h-1zM404 503h1v1h-1zM404 502h1v1h-1zM401 489h1v1h-1zM406 502h1v1h-1zM409 503h1v1h-1zM400 505h1v1h-1zM404 499h1v1h-1zM400 499h1v1h-1zM400 499h1v1h-1zM409 519h1v1h-1zM402 508h1v1h-1zM389 483h1v1h-1zM399 501h1v1h-1zM397 494h1v1h-1zM397 499h1v1h-1zM404 500h1v1h-1zM394 499h1v1h-1zM413 496h1v1h-1zM403 507h1v1h-1zM397 498h1v1h-1zM423 509h1v1h-1zM399 502h1v1h-1zM403 502h1v1h-1zM406 500h1v1h-1zM404 494h1v1h-1zM400 510h1v1h-1zM404 498h1v1h-1zM403 508h1v1h-1zM391 494h1v1h-1zM398 499h1v1h-1zM402 498h1v1h-1zM403 502h1v1h-1zM394 498h1v1h-1zM394 503h1v1h-1zM404 505h1v1h-1zM396 498h1v1h-1zM391 504h1v1h-1zM410 504h1v1h-1zM407 503h1v1h-1zM405 507h1v1h-1zM411 513h1v1h-1zM401 506h1v1h-1zM409 504h1v1h-1zM404 494h1v1h-1zM410 496h1v1h-1zM398 497h1v1h-1zM406 496h1v1h-1zM406 505h1v1h-1zM403 500h1v1h-1zM407 509h1v1h-1zM399 495h1v1h-1zM398 496h1v1h-1zM401 501h1v1h-1zM397 499h1v1h-1zM389 490h1v1h-1zM395 503h1v1h-1zM408 491h1v1h-1zM404 510h1v1h-1zM401 507h1v1h-1zM405 496h1v1h-1zM409 498h1v1h-1zM405 499h1v1h-1zM401 502h1v1h-1zM412 492h1v1h-1zM395 502h1v1h-1zM409 500h1v1h-1zM401 505h1v1h-1zM414 496h1v1h-1zM391 500h1v1h-1zM408 494h1v1h-1zM410 507h1v1h-1zM408 497h1v1h-1zM393 505h1v1h-1zM404 505h1v1h-1zM393 484h1v1h-1zM410 507h1v1h-1zM401 501h1v1h-1zM406 506h1v1h-1zM401 499h1v1h-1zM396 507h1v1h-1zM403 482h1v1h-1zM405 498h1v1h-1zM394 499h1v1h-1zM394 499h1v1h-1zM399 504h1v1h-1zM395 491h1v1h-1zM398 493h1v1h-1zM408 500h1v1h-1zM391 496h1v1h-1zM402 501h1v1h-1zM390 501h1v1h-1zM405 507h1v1h-1zM410 501h1v1h-1zM393 499h1v1h-1zM407 496h1v1h-1zM411 496h1v1h-1zM395 506h1v1h-1zM402 503h1v1h-1zM400 502h1v1h-1zM398 513h1v1h-1zM407 501h1v1h-1zM406 506h1v1h-1zM399 503h1v1h-1zM404 498h1v1h-1zM397 500h1v1h-1zM400 499h1v1h-1zM389 502h1v1h-1zM407 502h1v1h-1zM414 507h1v1h-1zM400 498h1v1h-1zM406 499h1v1h-1zM391 502h1v1h-1zM400 500h1v1h-1zM407 503h1v1h-1zM417 497h1v1h-1zM402 503h1v1h-1zM399 499h1v1h-1zM415 493h1v1h-1zM405 491h1v1h-1zM405 490h1v1h-1zM394 508h1v1h-1zM413 502h1v1h-1zM404 495h1v1h-1zM400 494h1v1h-1zM402 501h1v1h-1zM403 506h1v1h-1zM398 489h1v1h-1zM394 494h1v1h-1zM400 499h1v1h-1zM402 509h1v1h-1zM403 495h1v1h-1zM400 496h1v1h-1zM401 505h1v1h-1zM395 506h1v1h-1zM415 510h1v1h-1zM414 502h1v1h-1zM393 513h1v1h-1zM402 503h1v1h-1zM400 496h1v1h-1zM407 493h1v1h-1zM393 505h1v1h-1zM400 497h1v1h-1zM406 510h1v1h-1zM401 501h1v1h-1zM406 507h1v1h-1zM410 505h1v1h-1zM398 505h1v1h-1zM403 492h1v1h-1zM411 505h1v1h-1zM412 501h1v1h-1zM408 501h1v1h-1zM404 507h1v1h-1zM403 505h1v1h-1zM402 509h1v1h-1zM407 492h1v1h-1zM414 504h1v1h-1zM399 498h1v1h-1zM468 486h1v1h-1zM436 495h1v1h-1zM411 515h1v1h-1zM471 471h1v1h-1zM449 456h1v1h-1zM417 486h1v1h-1zM426 494h1v1h-1zM433 491h1v1h-1zM422 490h1v1h-1zM412 518h1v1h-1z" fill="#000"/>
<rect x="386.8" y="439.4" width="86.5" height="83.6" fill="none" stroke="#1a1a1a" stroke-width="1.2"/>
<line x1="435.2" y1="439.4" x2="435.2" y2="523" stroke="#222" stroke-width="1.1" />
<line x1="386.8" y1="484.6" x2="473.3" y2="484.6" stroke="#222" stroke-width="1.1" />
<path d="M386.8 523v4.5M393.31 523v2.8M397.12 523v2.8M399.82 523v2.8M401.92 523v2.8M403.63 523v2.8M405.08 523v2.8M406.33 523v2.8M407.44 523v2.8M408.43 523v4.5M414.93 523v2.8M418.74 523v2.8M421.44 523v2.8M423.54 523v2.8M425.25 523v2.8M426.7 523v2.8M427.95 523v2.8M429.06 523v2.8M430.05 523v4.5M436.56 523v2.8M440.37 523v2.8M443.07 523v2.8M445.17 523v2.8M446.88 523v2.8M448.33 523v2.8M449.58 523v2.8M450.69 523v2.8M451.68 523v4.5M458.18 523v2.8M461.99 523v2.8M464.69 523v2.8M466.79 523v2.8M468.5 523v2.8M469.95 523v2.8M471.2 523v2.8M472.31 523v2.8M473.3 523v4.5" stroke="#1a1a1a" stroke-width="1.1" fill="none"/>
<path d="M386.8 523h-4.3M386.8 516.71h-2.6M386.8 513.03h-2.6M386.8 510.42h-2.6M386.8 508.39h-2.6M386.8 506.74h-2.6M386.8 505.34h-2.6M386.8 504.13h-2.6M386.8 503.06h-2.6M386.8 502.1h-4.3M386.8 495.81h-2.6M386.8 492.13h-2.6M386.8 489.52h-2.6M386.8 487.49h-2.6M386.8 485.84h-2.6M386.8 484.44h-2.6M386.8 483.23h-2.6M386.8 482.16h-2.6M386.8 481.2h-4.3M386.8 474.91h-2.6M386.8 471.23h-2.6M386.8 468.62h-2.6M386.8 466.59h-2.6M386.8 464.94h-2.6M386.8 463.54h-2.6M386.8 462.33h-2.6M386.8 461.26h-2.6M386.8 460.3h-4.3M386.8 454.01h-2.6M386.8 450.33h-2.6M386.8 447.72h-2.6M386.8 445.69h-2.6M386.8 444.04h-2.6M386.8 442.64h-2.6M386.8 441.43h-2.6M386.8 440.36h-2.6M386.8 439.4h-4.3" stroke="#1a1a1a" stroke-width="1.1" fill="none"/>
<text x="0" y="0" font-size="10.43" font-weight="normal" font-family="Liberation Sans" transform="translate(381.1 539.1) scale(0.6586 1)" stroke="#000" stroke-width="0.2">10</text>
<text x="0" y="0" font-size="9.86" font-family="Liberation Sans" stroke="#000" stroke-width="0.2" transform="translate(389.2 534.4) scale(0.7609 1)">0</text>
<text x="0" y="0" font-size="10.43" font-weight="normal" font-family="Liberation Sans" transform="translate(402.45 539.1) scale(0.6586 1)" stroke="#000" stroke-width="0.2">10</text>
<text x="0" y="0" font-size="9.86" font-family="Liberation Sans" stroke="#000" stroke-width="0.2" transform="translate(410.44 534.4) scale(0.7609 1)">1</text>
<text x="0" y="0" font-size="10.43" font-weight="normal" font-family="Liberation Sans" transform="translate(423.8 539.1) scale(0.6586 1)" stroke="#000" stroke-width="0.2">10</text>
<text x="0" y="0" font-size="9.86" font-family="Liberation Sans" stroke="#000" stroke-width="0.2" transform="translate(431.9 534.4) scale(0.7609 1)">2</text>
<text x="0" y="0" font-size="10.43" font-weight="normal" font-family="Liberation Sans" transform="translate(445.15 539.1) scale(0.6586 1)" stroke="#000" stroke-width="0.2">10</text>
<text x="0" y="0" font-size="9.86" font-family="Liberation Sans" stroke="#000" stroke-width="0.2" transform="translate(453.29 534.4) scale(0.7609 1)">3</text>
<text x="0" y="0" font-size="10.43" font-weight="normal" font-family="Liberation Sans" transform="translate(466.5 539.1) scale(0.6586 1)" stroke="#000" stroke-width="0.2">10</text>
<text x="0" y="0" font-size="9.86" font-family="Liberation Sans" stroke="#000" stroke-width="0.2" transform="translate(474.64 534.4) scale(0.7609 1)">4</text>
<g transform="rotate(-90)">
<text x="0" y="0" font-size="9.29" font-weight="normal" font-family="Liberation Sans" transform="translate(-529.62 379.8) scale(0.8376 1)" stroke="#000" stroke-width="0.2">10</text>
<text x="0" y="0" font-size="8.43" font-family="Liberation Sans" stroke="#000" stroke-width="0.2" transform="translate(-519.38 376.1) scale(1.1123 1)">0</text>
<text x="0" y="0" font-size="9.29" font-weight="normal" font-family="Liberation Sans" transform="translate(-508.72 379.8) scale(0.8376 1)" stroke="#000" stroke-width="0.2">10</text>
<text x="0" y="0" font-size="8.43" font-family="Liberation Sans" stroke="#000" stroke-width="0.2" transform="translate(-498.62 376.1) scale(1.1123 1)">1</text>
<text x="0" y="0" font-size="9.29" font-weight="normal" font-family="Liberation Sans" transform="translate(-487.82 379.8) scale(0.8376 1)" stroke="#000" stroke-width="0.2">10</text>
<text x="0" y="0" font-size="8.43" font-family="Liberation Sans" stroke="#000" stroke-width="0.2" transform="translate(-477.57 376.1) scale(1.1123 1)">2</text>
<text x="0" y="0" font-size="9.29" font-weight="normal" font-family="Liberation Sans" transform="translate(-466.92 379.8) scale(0.8376 1)" stroke="#000" stroke-width="0.2">10</text>
<text x="0" y="0" font-size="8.43" font-family="Liberation Sans" stroke="#000" stroke-width="0.2" transform="translate(-456.63 376.1) scale(1.1123 1)">3</text>
<text x="0" y="0" font-size="9.29" font-weight="normal" font-family="Liberation Sans" transform="translate(-446.02 379.8) scale(0.8376 1)" stroke="#000" stroke-width="0.2">10</text>
<text x="0" y="0" font-size="8.43" font-family="Liberation Sans" stroke="#000" stroke-width="0.2" transform="translate(-435.73 376.1) scale(1.1123 1)">4</text>
</g>
<text x="0" y="0" font-size="21.52" font-weight="normal" font-family="Liberation Sans" transform="translate(404.58 425.73) scale(0.9105 1)" stroke="#000" stroke-width="0.15">Jag1</text>
<line x1="503.1" y1="442.4" x2="503.1" y2="474.6" stroke="#888" stroke-width="0.8" />
<line x1="487.1" y1="458.3" x2="520" y2="458.3" stroke="#aaa" stroke-width="0.8" />
<text x="0" y="0" font-size="14.75" font-weight="normal" font-family="Liberation Sans" transform="translate(490.53 455.49) scale(0.7927 1)" stroke="#000" stroke-width="0.22">7</text>
<text x="0" y="0" font-size="14.54" font-weight="normal" font-family="Liberation Sans" transform="translate(504.68 455.49) scale(0.9985 1)" stroke="#000" stroke-width="0.22">2</text>
<text x="0" y="0" font-size="13.97" font-weight="normal" font-family="Liberation Sans" transform="translate(486.5 471.89) scale(1.0161 1)" stroke="#000" stroke-width="0.22">90</text>
<text x="0" y="0" font-size="14.17" font-weight="normal" font-family="Liberation Sans" transform="translate(506.03 471.89) scale(0.6038 1)" stroke="#000" stroke-width="0.22">1</text>
<line x1="33.3" y1="555.3" x2="220.3" y2="555.3" stroke="#111" stroke-width="1.4" />
<line x1="291.9" y1="555.1" x2="473" y2="555" stroke="#111" stroke-width="1.4" />
<polygon points="472.8,551.6 479.4,555.0 472.8,558.4" fill="#111"/>
<text x="0" y="0" font-size="17.1" font-weight="normal" font-family="Liberation Sans" transform="translate(230.49 561.12) scale(1.0311 1)" stroke="#000" stroke-width="0.15">7-AAD</text>
<g transform="translate(0 501) rotate(-90)">
<text x="0" y="0" font-size="17.17" font-weight="normal" font-family="Liberation Sans" transform="translate(0.07 12.43) scale(1.0464 1)" stroke="#000" stroke-width="0.15">AnnV</text>
</g>
<line x1="6.4" y1="514.7" x2="6.4" y2="529.1" stroke="#111" stroke-width="1.3" />
<line x1="6.4" y1="437" x2="6.4" y2="446.3" stroke="#111" stroke-width="1.3" />
<polygon points="3.2,439.5 6.4,433 9.6,439.5" fill="#111"/>
</svg>
</body></html>
